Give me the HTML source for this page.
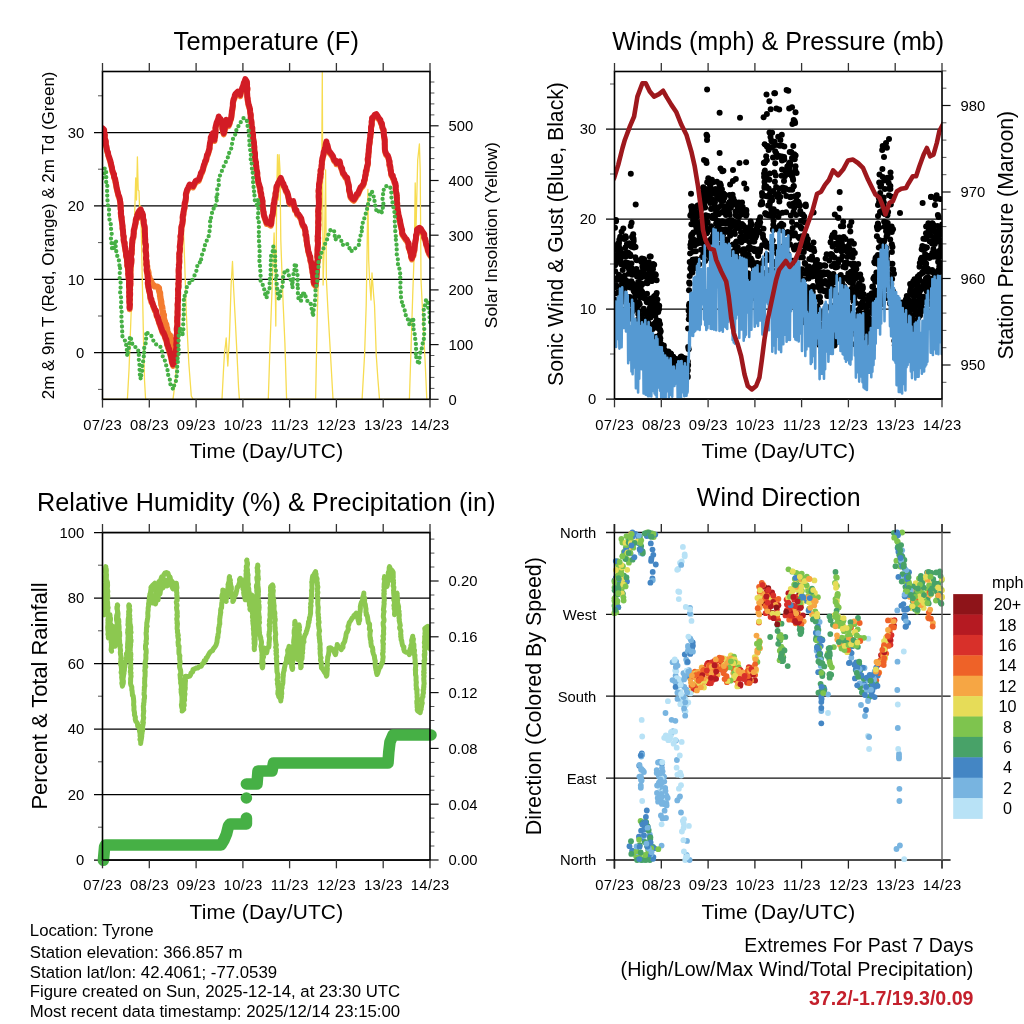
<!DOCTYPE html>
<html><head><meta charset="utf-8"><title>Station Meteogram</title><style>html,body{margin:0;padding:0;background:#fff;}svg{display:block;}</style></head><body>
<svg width="1024" height="1024" viewBox="0 0 1024 1024" font-family='"Liberation Sans", Arial, Helvetica, sans-serif'>
<rect width="1024" height="1024" fill="#fff"/>
<defs><clipPath id="cTL"><rect x="102.5" y="71.5" width="327.5" height="327.8"/></clipPath><clipPath id="cTR"><rect x="614.5" y="71.5" width="327.5" height="327.5"/></clipPath><clipPath id="cBL"><rect x="102.5" y="532.5" width="327.5" height="327.5"/></clipPath><clipPath id="cBR"><rect x="609" y="524" width="338" height="345"/></clipPath></defs>
<line x1="94" y1="352.7" x2="430" y2="352.7" stroke="#000" stroke-width="1.25"/>
<text x="84.2" y="358.1" font-size="14.8" text-anchor="end">0</text>
<line x1="94" y1="279.3" x2="430" y2="279.3" stroke="#000" stroke-width="1.25"/>
<text x="84.2" y="284.7" font-size="14.8" text-anchor="end">10</text>
<line x1="94" y1="205.9" x2="430" y2="205.9" stroke="#000" stroke-width="1.25"/>
<text x="84.2" y="211.3" font-size="14.8" text-anchor="end">20</text>
<line x1="94" y1="132.5" x2="430" y2="132.5" stroke="#000" stroke-width="1.25"/>
<text x="84.2" y="137.9" font-size="14.8" text-anchor="end">30</text>
<line x1="98" y1="389.4" x2="102.5" y2="389.4" stroke="#555" stroke-width="1"/>
<line x1="98" y1="316" x2="102.5" y2="316" stroke="#555" stroke-width="1"/>
<line x1="98" y1="242.6" x2="102.5" y2="242.6" stroke="#555" stroke-width="1"/>
<line x1="98" y1="169.2" x2="102.5" y2="169.2" stroke="#555" stroke-width="1"/>
<line x1="98" y1="95.8" x2="102.5" y2="95.8" stroke="#555" stroke-width="1"/>
<line x1="430" y1="399.3" x2="438.6" y2="399.3" stroke="#111" stroke-width="1.2"/>
<text x="448.6" y="404.7" font-size="14.8" text-anchor="start">0</text>
<line x1="430" y1="344.6" x2="438.6" y2="344.6" stroke="#111" stroke-width="1.2"/>
<text x="448.6" y="350" font-size="14.8" text-anchor="start">100</text>
<line x1="430" y1="289.9" x2="438.6" y2="289.9" stroke="#111" stroke-width="1.2"/>
<text x="448.6" y="295.3" font-size="14.8" text-anchor="start">200</text>
<line x1="430" y1="235.2" x2="438.6" y2="235.2" stroke="#111" stroke-width="1.2"/>
<text x="448.6" y="240.6" font-size="14.8" text-anchor="start">300</text>
<line x1="430" y1="180.5" x2="438.6" y2="180.5" stroke="#111" stroke-width="1.2"/>
<text x="448.6" y="185.9" font-size="14.8" text-anchor="start">400</text>
<line x1="430" y1="125.8" x2="438.6" y2="125.8" stroke="#111" stroke-width="1.2"/>
<text x="448.6" y="131.2" font-size="14.8" text-anchor="start">500</text>
<line x1="430" y1="388.4" x2="434.4" y2="388.4" stroke="#555" stroke-width="1"/>
<line x1="430" y1="377.4" x2="434.4" y2="377.4" stroke="#555" stroke-width="1"/>
<line x1="430" y1="366.5" x2="434.4" y2="366.5" stroke="#555" stroke-width="1"/>
<line x1="430" y1="355.5" x2="434.4" y2="355.5" stroke="#555" stroke-width="1"/>
<line x1="430" y1="333.7" x2="434.4" y2="333.7" stroke="#555" stroke-width="1"/>
<line x1="430" y1="322.7" x2="434.4" y2="322.7" stroke="#555" stroke-width="1"/>
<line x1="430" y1="311.8" x2="434.4" y2="311.8" stroke="#555" stroke-width="1"/>
<line x1="430" y1="300.8" x2="434.4" y2="300.8" stroke="#555" stroke-width="1"/>
<line x1="430" y1="279" x2="434.4" y2="279" stroke="#555" stroke-width="1"/>
<line x1="430" y1="268" x2="434.4" y2="268" stroke="#555" stroke-width="1"/>
<line x1="430" y1="257.1" x2="434.4" y2="257.1" stroke="#555" stroke-width="1"/>
<line x1="430" y1="246.1" x2="434.4" y2="246.1" stroke="#555" stroke-width="1"/>
<line x1="430" y1="224.3" x2="434.4" y2="224.3" stroke="#555" stroke-width="1"/>
<line x1="430" y1="213.3" x2="434.4" y2="213.3" stroke="#555" stroke-width="1"/>
<line x1="430" y1="202.4" x2="434.4" y2="202.4" stroke="#555" stroke-width="1"/>
<line x1="430" y1="191.4" x2="434.4" y2="191.4" stroke="#555" stroke-width="1"/>
<line x1="430" y1="169.6" x2="434.4" y2="169.6" stroke="#555" stroke-width="1"/>
<line x1="430" y1="158.6" x2="434.4" y2="158.6" stroke="#555" stroke-width="1"/>
<line x1="430" y1="147.7" x2="434.4" y2="147.7" stroke="#555" stroke-width="1"/>
<line x1="430" y1="136.7" x2="434.4" y2="136.7" stroke="#555" stroke-width="1"/>
<line x1="430" y1="114.9" x2="434.4" y2="114.9" stroke="#555" stroke-width="1"/>
<line x1="430" y1="103.9" x2="434.4" y2="103.9" stroke="#555" stroke-width="1"/>
<line x1="430" y1="93" x2="434.4" y2="93" stroke="#555" stroke-width="1"/>
<line x1="430" y1="82" x2="434.4" y2="82" stroke="#555" stroke-width="1"/>
<g clip-path="url(#cTL)">
<polyline points="100,399.3 127.4,399.3 129,370 130.5,330 132,290 133.5,250 134.5,220 135.7,178 136.5,200 137.4,157 138.2,190 139,191 139.8,215 140.7,206 141.5,240 142.5,290 143.5,340 144.5,380 145.6,399.3 173,399.3" fill="none" stroke="#f7dc50" stroke-width="1.3" stroke-linejoin="round" stroke-linecap="round"/>
<polyline points="173,399.3 175.5,379 178,330 179.7,280 181.3,247 182.5,225 183,214 183.8,240 184.7,263 186.3,313 188.8,363 191.3,396 193,399.3 222,399.3" fill="none" stroke="#f7dc50" stroke-width="1.3" stroke-linejoin="round" stroke-linecap="round"/>
<polyline points="222,399.3 223.5,370 224.5,353 225.5,345 226.2,338 227.8,366 229.5,336 231.1,285 232.5,261.5 233.6,288 235.3,320 237,354.5 238.6,388 239.4,399.3 268.3,399.3" fill="none" stroke="#f7dc50" stroke-width="1.3" stroke-linejoin="round" stroke-linecap="round"/>
<polyline points="268.3,399.3 270,346 271.6,301 273.3,255 274.1,233 275,260 275.8,326 276.6,200 277.5,154.7 278.3,200 279.1,154.7 280,170 280.8,240 281.6,263 283.2,305 284.9,343 286.6,399.3 315.6,399.3" fill="none" stroke="#f7dc50" stroke-width="1.3" stroke-linejoin="round" stroke-linecap="round"/>
<polyline points="315.6,399.3 317.3,313 318.9,263 320.6,230 321.5,200 322.3,72.5 323.1,285 324.7,230 325.6,170 326.4,280 328.1,313 330.5,354.5 333,399.3 362.1,399.3" fill="none" stroke="#f7dc50" stroke-width="1.3" stroke-linejoin="round" stroke-linecap="round"/>
<polyline points="362.1,399.3 364.6,354.5 366.2,305 367.1,250 367.9,189.5 368.7,260 369.6,280 371,300 372,273 373.7,296 374.5,305 375.4,330 376.2,354.5 377.9,379 379.5,399.3 409.4,399.3" fill="none" stroke="#f7dc50" stroke-width="1.3" stroke-linejoin="round" stroke-linecap="round"/>
<polyline points="409.4,399.3 411.1,346 412.7,296 414.4,247 415.2,183 416,230 417.7,160 419.4,144 420.2,170 421,280 423.5,330 425.2,363 426.8,399.3 432,399.3" fill="none" stroke="#f7dc50" stroke-width="1.3" stroke-linejoin="round" stroke-linecap="round"/>
<polyline points="100.5,132.4 102.5,129.5 104.2,131.2 104.2,133.1 104.5,135.1 104.9,136 104.6,139.3 105,140 105.8,142.3 105.8,144.2 105.8,146.1 106.4,147.5 106.9,150.8 107.3,152.5 107.9,153.3 108.3,156.1 109.1,158.3 109.4,159.4 110.4,162.3 110.8,164.4 111.5,167.1 112,169.1 112.2,170.9 112.8,173.1 113.3,174.3 114.1,175.6 114,177.8 115.1,180.2 115.4,181.9 115.8,184.3 116.2,186 116.5,188.3 117.1,190.8 117.6,192.8 118.1,194.9 118.3,195.9 119.2,197.8 119.9,200.9 120.3,203.5 120.5,204.6 120.5,205.8 120.8,208.3 120.5,209.2 121.1,212.6 120.7,214.1 121.1,214.7 121.1,217.7 121.7,218.2 121.6,220.8 121.9,221.9 122.2,224.4 122.6,227.5 122.5,229.5 122.6,229.8 123,231.6 123.2,234.4 123.2,236.2 123.8,237.7 123.6,240.9 124,243 124.7,243.9 124.6,246.1 124.9,248 125.3,250 125.5,251.9 126.1,253.5 126,255.8 126.1,256.9 126.9,259.1 126.9,260 127.1,262.9 127.4,264.6 127.2,266.7 127.9,267.5 128,270.1 128.2,271.7 128.4,274.3 128.1,274.9 128.8,278.3 128.6,279.3 129,281.2 129.1,282.7 129,284.5 129,286.9 129,288.3 129.4,289.5 129.3,292.6 129.1,293.6 129.5,295.4 129.1,297.6 129.5,298.8 129.4,301.4 129.3,303.1 129.7,305.3 129.8,306.8 129.6,309.4 129.5,307.9 130,305.7 129.5,303.3 129.8,301.6 130,301 129.6,298.1 130.1,297 130.2,294.6 129.7,292.7 130.2,290.9 130,289.3 130.1,287.5 130.5,285.3 129.8,284.9 130.5,283.1 130.2,281.3 130.6,278.1 130.5,277.4 130.5,275.1 130.3,272.9 130.5,271.4 130.4,268.7 130.8,267.3 131.1,265 131.3,264.2 131.4,262.7 131.5,260.3 131,258.7 131.2,256 131.7,254.6 131.6,253.4 131.9,250.5 131.7,249.6 132,247.5 132.1,244.6 132.3,243.8 132.4,241.4 132.5,240.1 133.4,238.2 133.6,234.9 133.8,234.6 133.7,231.6 134.2,230.2 134.6,228.2 135,226.4 135.7,223.5 135.7,221.7 136.2,219.6 137.3,219 137.2,216.4 138,214.4 139.2,212.3 140.7,210.8 141.4,212.9 142.3,214.3 143,216.4 143,218 143.2,220.2 143.8,221.8 143.6,223.3 144,226 144.6,227.4 144.8,229.7 144.8,231.4 144.8,233 145,235.5 145,237.3 145.1,238.3 145.3,241 145.1,242.3 145.4,245 145.9,245.9 145.9,248.5 145.6,249.8 145.6,252.3 146.1,254.2 146.2,255.7 146.3,257.3 145.9,259.2 146,260.3 146.6,261.9 146.5,264.6 146.3,265.7 147,267.6 146.6,270.6 146.8,272.4 147.3,274.2 147.6,275.5 147.6,276.4 147.8,279 147.9,280.1 148,283.4 147.7,284.1 148.1,286.2 148.5,288.6 148.7,289.3 149.1,291.9 149.8,293.4 149.9,295.2 150.3,297.1 150.4,299.1 151.5,300.8 151.5,302.8 152.5,304.1 153.3,307.1 154.1,308.6 154.8,310.8 155.9,311.8 156.4,314.4 156.7,316.7 157.9,318.2 158.2,320.4 158.7,321.5 159.3,323.9 160,325.2 160.9,328.3 161.4,329.4 162,331.4 162.8,333.4 163.6,334 164.1,335.2 165,337.5 165.4,339.1 166.4,341 166.8,343.4 167.2,345.6 167.9,346.8 168.4,349.1 169.2,350.4 169.5,352.6 170.2,353.9 170.5,355.9 171.2,358.7 171.5,359.4 171.8,362.3 172.6,364.7 173,365.9 174.3,363.2 175,361.4 175,359 175.2,357.8 175.9,356.2 175.6,354.2 175.9,351.4 176.4,348.8 176.4,347.6 176.2,346.4 176.4,343.7 176.6,342.4 176.3,339.9 176.7,338.4 176.5,336.7 177.1,334.5 176.9,332.2 176.8,331.3 176.7,329.9 177.3,326.6 177.4,325.2 177.4,324.1 177.1,322.1 177.4,320.5 177.2,318.5 177.7,316.6 177.5,313.7 177.5,312.3 177.7,311 177.7,308.3 177.8,307.3 177.5,305.9 177.9,302.7 178.2,300.8 177.8,300 178,297.8 178.1,296.1 178.2,294 178.1,291.7 177.9,290.8 178.5,288.7 178.6,286.5 178.3,284.7 178.8,282.2 178.6,280.7 178.8,279.1 178.6,277.3 178.8,276.2 178.7,274.4 178.6,271.6 178.7,269.4 179.2,268.7 178.8,265.9 179.1,265 179.4,263.2 179.3,260.3 179.2,258.5 179.4,257.3 179.2,254.9 179.7,252.7 179.8,252.4 180,249.6 179.7,248 179.9,246.3 180.2,245.2 180.4,242.1 180.7,240.6 180.7,239.2 180.4,237.4 181.1,235.1 181.1,233.2 181.3,231.4 181.3,229.6 181.4,227.8 182.1,225.9 182.3,225 182.7,221.7 182.9,220.7 182.6,218.5 182.9,216.1 183.4,215.9 183.4,213.9 183.9,210.8 184.3,209.8 184.6,208.2 184.6,205.7 184.7,204.2 185.3,203.1 185.7,200.3 186,198.5 185.8,195.8 186.2,194.2 186.6,192.8 187.2,190.9 188.1,189.3 188.7,187.8 189.6,185.9 191.2,186.7 193,187.6 194,185.8 194.4,185 195.5,182.6 197.3,181.6 198.8,181 199.5,179 200.5,176.4 200.9,174.3 202.1,172.7 203,170.1 203.4,168.3 203.9,166.3 204.8,164.3 205.2,162.2 206.2,161 206.5,159 207,156.3 207.9,155 208.6,152.5 209,151.1 209.6,149.4 209.5,148.3 209.9,144.8 210.4,143 210.8,141.4 210.7,138.9 211.2,137.8 212.2,135.7 212.9,134.5 213.6,136.6 214.3,138.5 214.5,141.1 214.5,138.8 215.2,137.6 215,134.8 215.5,134.5 215.6,130.9 215.4,129.2 215.8,127.2 216.2,126.2 216.5,124.4 217.7,121.5 218.4,119.9 218.7,117.9 219.8,120.3 220.7,120.4 221.2,122.9 221.5,125 222.4,126 222.3,129.3 222.6,130.4 223.2,132.9 223.7,134.5 224.4,132 224.6,131.1 225,128.9 225.4,126.7 225.4,124.5 226,123.1 226.2,121.2 226.9,122.3 228,124.7 228.7,126.2 229.7,123.8 230.3,121.1 231.1,119.5 231.5,116.8 231.5,116.2 231.9,113.2 231.8,112.7 232.3,110.9 232.6,108.2 232.9,106.9 232.8,104.6 233.2,102.5 233.5,100.8 234.6,98.4 234.8,96.6 235.3,95.5 237.8,93 238.7,94.9 240.3,96.3 240.7,93.4 241.3,92.4 242.2,89.2 242.8,88 243.2,87 243.8,84.4 244.6,82.9 245.3,80.5 246.9,83 247.1,85.3 247.1,86.1 246.9,87.7 247.5,89.6 247,93 247.2,94.7 247.2,95.7 247.3,98.2 247.7,99.7 247.7,101.3 248.3,103.9 248.4,105.4 248.9,106.4 249.6,109.2 250,110.4 250.2,112.9 250.4,114.7 250.8,115.9 250.7,118.5 250.7,120.4 251.4,122.1 251.6,124.3 251.5,125.7 251.9,127.8 252.4,129.3 252.2,130.6 252.3,132.6 253,135.4 253.1,137.6 253.1,139.3 253.3,140.2 253.8,142.9 254,143.9 254,145.6 254.4,148.3 254.1,150.1 254.4,151.1 254.4,152.3 255,154.5 255.1,157 254.9,159.1 255.3,160.4 255.6,162.8 256.1,163.9 255.9,165.8 256.3,167.3 256.4,170.4 257,172.6 257.4,174.3 257.2,174.9 257.3,177.4 257.7,179.3 258.1,181.2 258.4,183.7 258.8,184.8 259.6,187.3 259.6,188.1 260.4,189.6 260.3,192.4 261,194.2 261.3,195.4 261.2,197.3 262,199.5 262.4,201.9 262.6,202.3 262.3,204.1 262.7,206.5 262.7,208.6 263,210 263.4,212.7 263.7,213.5 263.7,215.6 264.3,217.5 265.2,220 266.1,222.5 266.6,224.1 268.5,224.3 270.8,225.8 271.3,224.5 271.4,222.7 271.7,219.9 271.7,217.6 272.3,217.3 272.8,214.7 272.9,213.7 273.2,211.2 273.3,209.2 273.5,207.4 273.6,205 274.3,204.7 274.4,201.8 274.6,200.1 275.2,198.3 275.6,196 275.4,194.8 275.7,193.6 276.3,192 276.4,188.6 276.6,187.6 277.5,186 278.3,183.9 279.3,183.4 279.7,181.3 280.8,179.3 281.5,181.4 282.7,184.3 283.4,185 284.1,187.6 285.2,188.7 285.7,191.5 286.4,192.1 287.4,194.2 288.2,197 288.3,198 288.7,199.5 289.2,203.1 289.9,204.2 291.2,202.9 293.2,202.5 293.4,203.8 294.1,207.1 294.7,209 294.9,210.8 296.4,211.6 297.2,215 298.3,215.4 299.8,217.5 300.5,218.7 301.3,220 301.8,223.3 302.4,224.9 303.1,226.7 304.2,227.7 304.8,229.1 304.8,230.3 305.6,232.6 305.4,235.8 306.2,236.5 306.5,239.4 306.5,241.4 306.8,242.6 307.1,246 307.4,246.4 307.7,248.3 308.2,251.6 308.3,252.2 309,254.6 309.8,257.5 310.3,258.1 310.4,261.4 311,263 311.5,264.6 311.6,265.5 311.8,268.7 312.4,270.2 312.4,271.9 312.6,273.7 313.1,274.9 313.2,278 313.6,278.5 313.9,281.5 313.5,282.3 314,284.5 315.6,286.2 315.5,283.6 316.2,282.4 316.3,280.1 315.8,279.7 316.5,278.1 316.6,275.4 316.8,272.9 316.8,271.7 316.6,270.2 316.9,268.2 317.1,266.1 317.3,264.6 317.2,262.9 317.7,261.7 317.7,259.7 317.3,258.1 317.4,254.7 317.6,254 317.5,252 317.5,250.7 317.7,248 317.8,246.8 318.1,244.4 317.8,242.7 317.6,240.5 318.2,239.3 317.6,237.6 317.9,236 318,232.7 318.1,231.4 318.2,230.3 318.1,228.4 318.4,225.7 318.1,224.1 318.2,222 318.4,221.1 318.4,218 318.2,216.6 318.5,214.3 318.1,212.8 318.3,210.5 318.5,210.3 318.6,208.1 318.8,206.5 318.9,203.9 318.8,201.5 318.9,200.2 318.7,199.3 318.6,196.2 319,195.1 318.5,192.2 318.7,190.4 319.1,188.9 318.9,187.6 319,185.5 319.4,183.7 319.7,182.2 319.8,179.3 320.5,178.4 320.1,176.1 320.8,175.2 320.5,171.5 321.1,170.4 321.6,169.2 321.5,166.6 321.9,165.5 321.8,162.7 322.3,161 322.4,159.4 322.8,158.1 323.5,155.7 323.6,153.2 324.3,152.5 324.8,149.7 325.5,148.6 325.6,145.9 325.8,145.3 326.4,142.8 326.6,144.8 327.5,146.5 328.1,149.5 328.7,151.1 328.9,152.7 330.1,153.6 331.6,155.7 333,157.7 333.6,160 334.5,161.6 335.9,162 336.4,164.4 338.3,163.4 339.7,162.7 340,164.1 340.5,166.6 341.3,169.1 342.1,169.6 342.4,172.2 343,174.3 344.2,175.5 345.6,178 347.2,179.3 347.4,180.4 347.7,182.9 348.2,184.3 348.7,186.1 349,188.6 348.9,190.7 349.4,192.2 349.9,194.2 350.1,195 350.5,197.6 352.4,199.9 353.8,200.9 354.8,199.4 355.6,198.3 356.8,195.4 357.9,195.1 358.5,193.5 359.6,190.9 360.6,188.7 361.9,187.3 362.9,186.1 363.8,184.3 363.9,182.5 364.8,180.6 364.9,179.4 365.2,176.9 365.7,175.7 365.8,172.5 366.6,171.5 366.6,170.3 367.1,167.7 367.6,165.9 367.9,164.6 367.9,161.7 367.6,160.5 368.3,158.1 368.3,156.6 368.4,155 368.8,152.5 368.7,151 369,149.4 369.1,147 369.4,145.1 369.8,142.7 369.7,141.5 370,139.7 370.4,137.8 370.3,135.3 370.7,134.9 371.1,132.3 371,129.7 371,128.3 371.7,126.1 371.8,124.9 371.6,122.7 372.2,120.8 372,119.5 373.5,118.2 374.6,116.3 376.2,115.4 377.9,117.9 379.2,120 380.4,121.2 380.8,123.6 381.9,124.7 382.3,128.1 382.9,129.7 383.7,131.2 383.6,133.5 383.8,135.1 384,137.7 384.5,139 384.6,140.8 384.8,142.5 384.7,145 384.8,146 384.8,149 384.9,151.2 385.3,152.7 386.2,155.2 387.3,156.5 387.8,156.9 388.7,159.4 389,161.7 389.6,162.6 389.4,165.9 390.1,166.8 390.4,168.1 390.5,170.9 390.9,171.8 391.1,174.3 391.5,176.2 392.8,177 392.8,178.5 394.1,180.8 394.6,183.5 395.3,184.3 395.5,185.8 395.8,187.2 395.6,190.3 395.7,191 396.1,193.4 396.6,194.9 396.7,197.3 396.9,199.2 396.9,200.9 396.8,203 397.3,204.7 397.1,206.7 397.2,208.4 397.7,210.7 397.8,212.5 398.3,214.1 398.3,215.5 398.9,217.8 399.5,219.8 400.1,222.3 400.3,224.1 400.8,226.5 401.1,227.8 401.4,229.1 402.2,231.8 402.1,234.5 402.8,235.7 404.4,238 405.6,239.9 406.6,240.7 407.7,243 408.6,244.4 408.6,247.9 408.9,249 409.7,250.5 410.2,253 411.1,255 411,257.4 411.9,259.6 412.2,257.9 413.4,256.2 413.4,253.7 414.4,251.3 414.5,249.3 414.8,247 414.9,245.6 415.2,244.2 415.4,242.2 416,239.4 416,236.5 416.7,235.2 416.9,233 417,230.8 419.4,229.1 420.9,230.1 422.3,232.7 423.5,234.4 424.3,235.6 424.2,238.8 425.3,240.4 425.7,242.7 426,244.7 426.6,246.6 427.4,247.8 427.8,251.1 428.5,252.6 429.3,254.6 430.5,256.2 432,258.4" fill="none" stroke="#f47c30" stroke-width="5.8" stroke-linejoin="round" stroke-linecap="round"/>
<polyline points="146.5,263.2 146.6,264.4 147.1,266.4 147.2,268.9 148.2,271.7 148.4,272.5 148.5,275 149.2,277 149.8,279.8 150.8,280.7 152.1,284 153.8,285.4 154.8,286.4 157.1,286.6 158.9,288 159,290.1 159.6,292.4 160,292.7 160.1,295.8 160.3,296.6 160.5,298.3 161.2,301.7 161.2,302.4 161.4,304.7 162.1,306.7 162.4,309.1 162.5,310.1 162.9,311.9 163,313.5 163.9,314.9 163.6,317.9 164.2,319.5 164.7,321.3 165.2,322.9 166.2,324.6 166.3,326.5 167,328.6 167.3,331.5 168,332.9 168.7,334.7 170,335.5 170.2,337.4 171.4,339.6 171.9,341.8 171.8,343.2 172.1,345.5 172.3,347.9 173,349.5 173.8,352.5 174.2,354.7 174.1,355.5 175,358" fill="none" stroke="#f47c30" stroke-width="6.4" stroke-linejoin="round" stroke-linecap="round"/>
<polyline points="100.5,131 102.5,128.1 104.2,129.8 104.2,131.7 104.5,133.7 104.9,134.6 104.6,137.9 105,138.6 105.8,140.9 105.8,142.8 105.8,144.7 106.4,146.1 106.9,149.4 107.3,151.1 107.9,151.9 108.3,154.7 109.1,156.9 109.4,158 110.4,160.9 110.8,163 111.5,165.7 112,167.7 112.2,169.5 112.8,171.7 113.3,172.9 114.1,174.2 114,176.4 115.1,178.8 115.4,180.5 115.8,182.9 116.2,184.6 116.5,186.9 117.1,189.4 117.6,191.4 118.1,193.5 118.3,194.5 119.2,196.4 119.9,199.5 120.3,202.1 120.5,203.2 120.5,204.4 120.8,206.9 120.5,207.8 121.1,211.2 120.7,212.7 121.1,213.3 121.1,216.3 121.7,216.8 121.6,219.4 121.9,220.5 122.2,223 122.6,226.1 122.5,228.1 122.6,228.4 123,230.2 123.2,233 123.2,234.8 123.8,236.3 123.6,239.5 124,241.6 124.7,242.5 124.6,244.7 124.9,246.6 125.3,248.6 125.5,250.5 126.1,252.1 126,254.4 126.1,255.5 126.9,257.7 126.9,258.6 127.1,261.5 127.4,263.2 127.2,265.3 127.9,266.1 128,268.7 128.2,270.3 128.4,272.9 128.1,273.5 128.8,276.9 128.6,277.9 129,279.8 129.1,281.3 129,283.1 129,285.5 129,286.9 129.4,288.1 129.3,291.2 129.1,292.2 129.5,294 129.1,296.2 129.5,297.4 129.4,300 129.3,301.7 129.7,303.9 129.8,305.4 129.6,308 129.5,306.5 130,304.3 129.5,301.9 129.8,300.2 130,299.6 129.6,296.7 130.1,295.6 130.2,293.2 129.7,291.3 130.2,289.5 130,287.9 130.1,286.1 130.5,283.9 129.8,283.5 130.5,281.7 130.2,279.9 130.6,276.7 130.5,276 130.5,273.7 130.3,271.5 130.5,270 130.4,267.3 130.8,265.9 131.1,263.6 131.3,262.8 131.4,261.3 131.5,258.9 131,257.3 131.2,254.6 131.7,253.2 131.6,252 131.9,249.1 131.7,248.2 132,246.1 132.1,243.2 132.3,242.4 132.4,240 132.5,238.7 133.4,236.8 133.6,233.5 133.8,233.2 133.7,230.2 134.2,228.8 134.6,226.8 135,225 135.7,222.1 135.7,220.3 136.2,218.2 137.3,217.6 137.2,215 138,213 139.2,210.9 140.7,209.4 141.4,211.5 142.3,212.9 143,215 143,216.6 143.2,218.8 143.8,220.4 143.6,221.9 144,224.6 144.6,226 144.8,228.3 144.8,230 144.8,231.6 145,234.1 145,235.9 145.1,236.9 145.3,239.6 145.1,240.9 145.4,243.6 145.9,244.5 145.9,247.1 145.6,248.4 145.6,250.9 146.1,252.8 146.2,254.3 146.3,255.9 145.9,257.8 146,258.9 146.6,260.5 146.5,263.2 146.3,264.3 147,266.2 146.6,269.2 146.8,271 147.3,272.8 147.6,274.1 147.6,275 147.8,277.6 147.9,278.7 148,282 147.7,282.7 148.1,284.8 148.5,287.2 148.7,287.9 149.1,290.5 149.8,292 149.9,293.8 150.3,295.7 150.4,297.7 151.5,299.4 151.5,301.4 152.5,302.7 153.3,305.7 154.1,307.2 154.8,309.4 155.9,310.4 156.4,313 156.7,315.3 157.9,316.8 158.2,319 158.7,320.1 159.3,322.5 160,323.8 160.9,326.9 161.4,328 162,330 162.8,332 163.6,332.6 164.1,333.8 165,336.1 165.4,337.7 166.4,339.6 166.8,342 167.2,344.2 167.9,345.4 168.4,347.7 169.2,349 169.5,351.2 170.2,352.5 170.5,354.5 171.2,357.3 171.5,358 171.8,360.9 172.6,363.3 173,364.5 174.3,361.8 175,360 175,357.6 175.2,356.4 175.9,354.8 175.6,352.8 175.9,350 176.4,347.4 176.4,346.2 176.2,345 176.4,342.3 176.6,341 176.3,338.5 176.7,337 176.5,335.3 177.1,333.1 176.9,330.8 176.8,329.9 176.7,328.5 177.3,325.2 177.4,323.8 177.4,322.7 177.1,320.7 177.4,319.1 177.2,317.1 177.7,315.2 177.5,312.3 177.5,310.9 177.7,309.6 177.7,306.9 177.8,305.9 177.5,304.5 177.9,301.3 178.2,299.4 177.8,298.6 178,296.4 178.1,294.7 178.2,292.6 178.1,290.3 177.9,289.4 178.5,287.3 178.6,285.1 178.3,283.3 178.8,280.8 178.6,279.3 178.8,277.7 178.6,275.9 178.8,274.8 178.7,273 178.6,270.2 178.7,268 179.2,267.3 178.8,264.5 179.1,263.6 179.4,261.8 179.3,258.9 179.2,257.1 179.4,255.9 179.2,253.5 179.7,251.3 179.8,251 180,248.2 179.7,246.6 179.9,244.9 180.2,243.8 180.4,240.7 180.7,239.2 180.7,237.8 180.4,236 181.1,233.7 181.1,231.8 181.3,230 181.3,228.2 181.4,226.4 182.1,224.5 182.3,223.6 182.7,220.3 182.9,219.3 182.6,217.1 182.9,214.7 183.4,214.5 183.4,212.5 183.9,209.4 184.3,208.4 184.6,206.8 184.6,204.3 184.7,202.8 185.3,201.7 185.7,198.9 186,197.1 185.8,194.4 186.2,192.8 186.6,191.4 187.2,189.5 188.1,187.9 188.7,186.4 189.6,184.5 191.2,185.3 193,186.2 194,184.4 194.4,183.6 195.5,181.2 197.3,180.2 198.8,179.6 199.5,177.6 200.5,175 200.9,172.9 202.1,171.3 203,168.7 203.4,166.9 203.9,164.9 204.8,162.9 205.2,160.8 206.2,159.6 206.5,157.6 207,154.9 207.9,153.6 208.6,151.1 209,149.7 209.6,148 209.5,146.9 209.9,143.4 210.4,141.6 210.8,140 210.7,137.5 211.2,136.4 212.2,134.3 212.9,133.1 213.6,135.2 214.3,137.1 214.5,139.7 214.5,137.4 215.2,136.2 215,133.4 215.5,133.1 215.6,129.5 215.4,127.8 215.8,125.8 216.2,124.8 216.5,123 217.7,120.1 218.4,118.5 218.7,116.5 219.8,118.9 220.7,119 221.2,121.5 221.5,123.6 222.4,124.6 222.3,127.9 222.6,129 223.2,131.5 223.7,133.1 224.4,130.6 224.6,129.7 225,127.5 225.4,125.3 225.4,123.1 226,121.7 226.2,119.8 226.9,120.9 228,123.3 228.7,124.8 229.7,122.4 230.3,119.7 231.1,118.1 231.5,115.4 231.5,114.8 231.9,111.8 231.8,111.3 232.3,109.5 232.6,106.8 232.9,105.5 232.8,103.2 233.2,101.1 233.5,99.4 234.6,97 234.8,95.2 235.3,94.1 237.8,91.6 238.7,93.5 240.3,94.9 240.7,92 241.3,91 242.2,87.8 242.8,86.6 243.2,85.6 243.8,83 244.6,81.5 245.3,79.1 246.9,81.6 247.1,83.9 247.1,84.7 246.9,86.3 247.5,88.2 247,91.6 247.2,93.3 247.2,94.3 247.3,96.8 247.7,98.3 247.7,99.9 248.3,102.5 248.4,104 248.9,105 249.6,107.8 250,109 250.2,111.5 250.4,113.3 250.8,114.5 250.7,117.1 250.7,119 251.4,120.7 251.6,122.9 251.5,124.3 251.9,126.4 252.4,127.9 252.2,129.2 252.3,131.2 253,134 253.1,136.2 253.1,137.9 253.3,138.8 253.8,141.5 254,142.5 254,144.2 254.4,146.9 254.1,148.7 254.4,149.7 254.4,150.9 255,153.1 255.1,155.6 254.9,157.7 255.3,159 255.6,161.4 256.1,162.5 255.9,164.4 256.3,165.9 256.4,169 257,171.2 257.4,172.9 257.2,173.5 257.3,176 257.7,177.9 258.1,179.8 258.4,182.3 258.8,183.4 259.6,185.9 259.6,186.7 260.4,188.2 260.3,191 261,192.8 261.3,194 261.2,195.9 262,198.1 262.4,200.5 262.6,200.9 262.3,202.7 262.7,205.1 262.7,207.2 263,208.6 263.4,211.3 263.7,212.1 263.7,214.2 264.3,216.1 265.2,218.6 266.1,221.1 266.6,222.7 268.5,222.9 270.8,224.4 271.3,223.1 271.4,221.3 271.7,218.5 271.7,216.2 272.3,215.9 272.8,213.3 272.9,212.3 273.2,209.8 273.3,207.8 273.5,206 273.6,203.6 274.3,203.3 274.4,200.4 274.6,198.7 275.2,196.9 275.6,194.6 275.4,193.4 275.7,192.2 276.3,190.6 276.4,187.2 276.6,186.2 277.5,184.6 278.3,182.5 279.3,182 279.7,179.9 280.8,177.9 281.5,180 282.7,182.9 283.4,183.6 284.1,186.2 285.2,187.3 285.7,190.1 286.4,190.7 287.4,192.8 288.2,195.6 288.3,196.6 288.7,198.1 289.2,201.7 289.9,202.8 291.2,201.5 293.2,201.1 293.4,202.4 294.1,205.7 294.7,207.6 294.9,209.4 296.4,210.2 297.2,213.6 298.3,214 299.8,216.1 300.5,217.3 301.3,218.6 301.8,221.9 302.4,223.5 303.1,225.3 304.2,226.3 304.8,227.7 304.8,228.9 305.6,231.2 305.4,234.4 306.2,235.1 306.5,238 306.5,240 306.8,241.2 307.1,244.6 307.4,245 307.7,246.9 308.2,250.2 308.3,250.8 309,253.2 309.8,256.1 310.3,256.7 310.4,260 311,261.6 311.5,263.2 311.6,264.1 311.8,267.3 312.4,268.8 312.4,270.5 312.6,272.3 313.1,273.5 313.2,276.6 313.6,277.1 313.9,280.1 313.5,280.9 314,283.1 315.6,284.8 315.5,282.2 316.2,281 316.3,278.7 315.8,278.3 316.5,276.7 316.6,274 316.8,271.5 316.8,270.3 316.6,268.8 316.9,266.8 317.1,264.7 317.3,263.2 317.2,261.5 317.7,260.3 317.7,258.3 317.3,256.7 317.4,253.3 317.6,252.6 317.5,250.6 317.5,249.3 317.7,246.6 317.8,245.4 318.1,243 317.8,241.3 317.6,239.1 318.2,237.9 317.6,236.2 317.9,234.6 318,231.3 318.1,230 318.2,228.9 318.1,227 318.4,224.3 318.1,222.7 318.2,220.6 318.4,219.7 318.4,216.6 318.2,215.2 318.5,212.9 318.1,211.4 318.3,209.1 318.5,208.9 318.6,206.7 318.8,205.1 318.9,202.5 318.8,200.1 318.9,198.8 318.7,197.9 318.6,194.8 319,193.7 318.5,190.8 318.7,189 319.1,187.5 318.9,186.2 319,184.1 319.4,182.3 319.7,180.8 319.8,177.9 320.5,177 320.1,174.7 320.8,173.8 320.5,170.1 321.1,169 321.6,167.8 321.5,165.2 321.9,164.1 321.8,161.3 322.3,159.6 322.4,158 322.8,156.7 323.5,154.3 323.6,151.8 324.3,151.1 324.8,148.3 325.5,147.2 325.6,144.5 325.8,143.9 326.4,141.4 326.6,143.4 327.5,145.1 328.1,148.1 328.7,149.7 328.9,151.3 330.1,152.2 331.6,154.3 333,156.3 333.6,158.6 334.5,160.2 335.9,160.6 336.4,163 338.3,162 339.7,161.3 340,162.7 340.5,165.2 341.3,167.7 342.1,168.2 342.4,170.8 343,172.9 344.2,174.1 345.6,176.6 347.2,177.9 347.4,179 347.7,181.5 348.2,182.9 348.7,184.7 349,187.2 348.9,189.3 349.4,190.8 349.9,192.8 350.1,193.6 350.5,196.2 352.4,198.5 353.8,199.5 354.8,198 355.6,196.9 356.8,194 357.9,193.7 358.5,192.1 359.6,189.5 360.6,187.3 361.9,185.9 362.9,184.7 363.8,182.9 363.9,181.1 364.8,179.2 364.9,178 365.2,175.5 365.7,174.3 365.8,171.1 366.6,170.1 366.6,168.9 367.1,166.3 367.6,164.5 367.9,163.2 367.9,160.3 367.6,159.1 368.3,156.7 368.3,155.2 368.4,153.6 368.8,151.1 368.7,149.6 369,148 369.1,145.6 369.4,143.7 369.8,141.3 369.7,140.1 370,138.3 370.4,136.4 370.3,133.9 370.7,133.5 371.1,130.9 371,128.3 371,126.9 371.7,124.7 371.8,123.5 371.6,121.3 372.2,119.4 372,118.1 373.5,116.8 374.6,114.9 376.2,114 377.9,116.5 379.2,118.6 380.4,119.8 380.8,122.2 381.9,123.3 382.3,126.7 382.9,128.3 383.7,129.8 383.6,132.1 383.8,133.7 384,136.3 384.5,137.6 384.6,139.4 384.8,141.1 384.7,143.6 384.8,144.6 384.8,147.6 384.9,149.8 385.3,151.3 386.2,153.8 387.3,155.1 387.8,155.5 388.7,158 389,160.3 389.6,161.2 389.4,164.5 390.1,165.4 390.4,166.7 390.5,169.5 390.9,170.4 391.1,172.9 391.5,174.8 392.8,175.6 392.8,177.1 394.1,179.4 394.6,182.1 395.3,182.9 395.5,184.4 395.8,185.8 395.6,188.9 395.7,189.6 396.1,192 396.6,193.5 396.7,195.9 396.9,197.8 396.9,199.5 396.8,201.6 397.3,203.3 397.1,205.3 397.2,207 397.7,209.3 397.8,211.1 398.3,212.7 398.3,214.1 398.9,216.4 399.5,218.4 400.1,220.9 400.3,222.7 400.8,225.1 401.1,226.4 401.4,227.7 402.2,230.4 402.1,233.1 402.8,234.3 404.4,236.6 405.6,238.5 406.6,239.3 407.7,241.6 408.6,243 408.6,246.5 408.9,247.6 409.7,249.1 410.2,251.6 411.1,253.6 411,256 411.9,258.2 412.2,256.5 413.4,254.8 413.4,252.3 414.4,249.9 414.5,247.9 414.8,245.6 414.9,244.2 415.2,242.8 415.4,240.8 416,238 416,235.1 416.7,233.8 416.9,231.6 417,229.4 419.4,227.7 420.9,228.7 422.3,231.3 423.5,233 424.3,234.2 424.2,237.4 425.3,239 425.7,241.3 426,243.3 426.6,245.2 427.4,246.4 427.8,249.7 428.5,251.2 429.3,253.2 430.5,254.8 432,257" fill="none" stroke="#d21c25" stroke-width="5.9" stroke-linejoin="round" stroke-linecap="round"/>
<polyline points="102.5,177.9 103.2,176.7 103.9,175.4 104.3,173.3 103.9,169.9 105,168 105.9,170.8 106.2,171.4 105.9,174.1 106.3,177.5 106.6,179.6 106.1,180.9 106.5,185.4 107.2,185.1 107.4,187.3 107.3,189.5 106.6,194.1 106.9,194.2 108,198.5 107.5,199.5 107.5,203.1 108,204.3 107.8,207.3 108.7,209.5 109.1,209.5 108.7,211.2 109.1,214.4 109,215 109.5,218.7 109.5,221 110.3,221.8 110.8,224.4 111.3,226.4 110.7,228.5 111.3,229.3 111.8,231.3 111.6,236 110.7,237.9 111.3,239.4 110.9,239.7 111.6,243.3 111.7,247 112.1,248.6 113,250 114.1,249.4 113.9,245.5 114.7,244.9 114.7,242.8 115.8,240 116.3,243.3 115.4,245.7 115.6,245.9 116.4,249.9 116.2,252 116.5,252.2 116.6,254.9 117.6,256.4 119.1,259.9 118.7,260.9 119.5,265.6 119,264.7 120.1,268.3 119.5,269.4 119.8,273.4 119.7,274.2 119.9,276.5 119.4,280 119.5,280.9 120.6,282 120.6,286.8 120.6,288.5 120,289.6 120.2,293.1 120.4,294 120.8,296.4 121.5,299.6 121.5,300.4 121,303.4 121,304 121,305.6 121,310.4 121.9,311.3 121.3,312.5 120.9,314.3 121.8,318.3 121.4,320.1 121.6,321.3 122.1,324.1 122,326.4 121.8,328.3 121.8,329.8 122.5,332.6 122,335.5 122.4,336.2 123.6,338.4 124.5,340 126.6,342.9 126.1,345.3 126.5,347.9 127,350.6 127.3,352.7 127.1,354.4 127.4,356.2 128,355.3 127.7,353.3 128.6,350.8 129,349.7 128.7,346.3 128.5,345.3 129.7,342.1 129.6,340.9 129.9,337.1 129.9,336.2 130.9,338.5 131.4,339.9 132,343.1 132.7,344.9 133.2,346.2 135.1,346.8 138.2,349.5 138.3,352 138.2,354.1 138.9,354 138.8,356.6 138.5,358.3 139,360.4 139,362 139.5,365.1 139.8,367.7 139.5,370.7 139.4,371.1 139.9,373.1 139.9,376.5 140.4,375.9 140.7,379.4 141.1,376.1 141.3,374.9 141.6,374.9 142.1,371.2 142.4,369.9 142,366.3 142.6,365.7 143.3,365 143.1,361 143.2,359.5 143.9,355.9 143.2,355.7 144.1,352.3 144.3,352.7 144.2,349.2 144.3,346.7 145.5,345 145.7,344.7 145.4,340.6 146.2,339.3 145.7,336.8 146.6,335.3 146,333.2 146.5,331.3 147.7,333.3 149.8,333.9 151.5,336.2 153.1,339.3 153.3,340.5 154.9,343.8 156.4,344.5 159.8,346.2 160.7,347.3 160.6,349 162.1,351.3 162.1,353.9 162.7,356.2 163.1,357.8 164.2,358.7 165.1,361.3 165.6,363.5 166.4,366.1 166.7,368.4 167.5,370.1 168.4,373 168,374.2 169.1,378.5 169.7,379.4 170.9,381.5 170.4,384.3 171.6,385.6 172.6,387.8 173,389.4 173.7,388.7 174.2,385.1 175.5,382.4 175.5,382.5 176.4,379.4 176,378.4 176.9,375.1 176.5,374.1 177.5,370 177,369.3 177.2,366.5 176.9,365.3 177.9,361.5 177.2,361.9 178.1,359.3 177.2,357.5 178.6,356.3 178.4,351.2 178.7,349.7 178.6,349.9 178.8,345.3 178.4,345.7 178.3,342.7 178.8,339.2 179.2,336.7 178.7,335.8 178.8,332.7 179.5,332.8 180.1,328.8 179.7,327.9 180.4,329.4 181.5,332 182.7,333.7 183,336.2 182.5,334.7 182.7,332.4 183.3,331.2 183.4,328.2 183.1,325.9 183.2,324.4 183.6,320.4 183.4,319 184.1,316.3 184.2,315.7 183.5,313.7 183.6,309.9 184.3,308.1 184.7,306.8 184.1,305.7 183.8,303.4 183.9,299.5 185.2,299.1 184.7,296.4 184.7,293.1 186.1,292.8 186.3,289 186.3,288.1 187.6,286 188.2,284.2 189.8,282.6 190.6,280.3 192.3,280.2 193,278.1 194.2,276 195.1,274.4 195.6,272.7 196.6,270.3 196.6,267.3 197.6,265.5 199.3,265 199.6,263.2 200.6,259.6 200.9,260.5 201.7,257 202.2,254 202.5,252.2 203.4,250.9 204.7,248.2 204.6,246.6 205.1,244.6 206.2,243.3 206.4,241.3 206.7,240.8 207.7,238.9 208.7,236.1 209,235.1 209.6,231.7 209.3,230 209.8,227.8 210.6,223.9 210.1,221.3 210.4,219.2 210.8,219.8 211.2,216.1 211.7,213.6 212.6,211.6 213.6,211.1 213.6,207.7 215,208 215.7,204.5 216.2,202.8 217.1,199.2 216.1,199.6 216.8,195.2 217.3,196.2 217.5,192.1 217.2,189.2 218.5,188.4 218.8,185 218.2,182.9 218.6,180.9 218.7,180 219,176.8 219.5,176.2 220,175.5 221.3,171.8 222.8,169.6 223.5,167.6 224,164.9 224.8,163.5 226.2,161.3 227.4,159.7 228,156.5 227.6,155.6 228.9,153.8 229.5,152 230.3,149.7 231.2,148.9 231.3,145.4 232.6,142.6 232.8,141.4 233,138.8 233.6,138.3 235.2,134.8 235,132.1 236.1,131.4 236.8,128 238.1,127.5 238.9,123.8 240.3,123.1 242.2,119.2 243.6,118.1 246.9,119.8 246.8,121.3 247.3,122.9 247.6,125.9 248.4,128.8 248.8,131.4 248.6,133.1 249.1,135.4 248.9,138.3 249.4,140.8 249.7,142 249.3,144.5 249.6,144.4 249.4,146.6 250.2,149.7 250.1,152.3 250.3,152.3 251.1,155.9 250.4,156.4 250.7,159.4 251.8,163.3 251.7,163 251.6,165.4 251.9,167.9 251.9,168.4 252.4,173 252.7,172.7 252.7,174.9 253.1,177.8 253.5,181 252.7,181.5 253.9,183.9 253.4,185.9 254,189.5 253.9,191.6 254.2,190.9 254.6,193.9 254.4,196.2 254.5,199.9 255.1,200.8 256.3,204 256.9,205 257.4,201.3 258.2,199.5 257.9,200.7 258.3,203.3 258.6,205 258.1,207.2 258.9,211.2 258.7,212.6 258.2,213.2 258.8,216.5 257.8,217.6 257.9,221.4 258.9,221.9 258.4,225 258.9,226.6 258.8,230.5 258.9,232.4 258.6,232.1 258.9,236.1 258.6,237.6 258.9,238.6 259,241.9 259.3,245.1 259.4,246.6 259.3,250.2 259.9,252.1 259.8,253.4 259.6,255.9 259.5,257.3 259.9,259.1 259.5,259.8 259.3,262.7 260,266.1 260.2,266.7 260.5,268.7 260.3,270.1 260.4,274.1 260.7,276.9 260.4,278.8 260.2,279.8 261.3,282.2 261.5,284 263.2,285.2 263.5,288.1 264.6,290.2 264.4,290.5 264.9,293 265.7,297.3 266,298 267.4,296.3 267.5,292.6 268.7,292 269.3,289.8 269.7,287.3 270.1,284.8 269.5,282.9 270,282.9 269.6,280 270.5,276.6 269.7,275.6 270.8,274.6 270.8,271.1 270.6,269.4 271.3,266.6 270.6,265.5 271.7,262.1 270.6,259.8 271.4,259.3 271.1,256 271.6,254.9 272.1,253.3 272.7,251.5 272.3,248.6 273.3,246.6 274.5,250.6 274.9,251.6 274.8,254.8 275.3,257.2 274.9,258.5 275.8,259.9 275,261.1 275.1,262.9 275.2,266.7 275.3,269.2 276.2,271.5 276.4,273.3 276.7,276.2 276.4,278.3 275.9,277.6 275.9,280.1 276.6,283.1 276.8,285 277.5,288 277,289 277.9,291 277.7,293.8 278.3,296.1 278.8,299.1 279.1,299.7 280.2,296 280.4,295.8 280.3,291.5 281.1,290 281.6,288.1 282.3,287.3 282.2,283.2 282.7,282.3 283.4,279.8 283.1,276.9 284.2,275.4 284.1,273.2 285.2,271.2 287.4,269.8 287.7,272.3 288.2,273.1 288.9,275.7 290.7,277.9 290.7,279.8 291,283.3 291,283.5 292.4,284.4 292.4,288.1 292.9,285.6 292.2,283.2 293,281.5 293.3,278.4 293.1,279.2 293.6,275.6 293.3,272.9 294.6,272.1 294.3,268 294.3,268.2 294.6,265.6 294.9,263.2 296,265.7 296.3,265.9 296.2,270.3 297.4,271.5 297.4,274.8 298,277 297.4,279.3 298,281.1 297.3,282.8 297.7,285.5 298.5,285.1 297.8,287.4 298,289.5 298.3,291 297.7,294.2 298.2,296.4 298.5,298.5 299.8,301.4 301.1,300.6 301.1,295.9 302.7,296.9 303.3,292.2 304,291.4 304.3,294.8 305.8,294 305.5,297.4 306.5,299.7 308.3,302.2 310.6,303 310.9,306.1 311,307.5 312.5,310.3 311.7,310.6 312.9,313.7 313.1,316.3 313.2,314.2 313.7,313.8 313.5,310.5 313.8,308.5 314.6,305.2 314.6,305 314.2,303.2 315,300.4 315.5,299.3 315.6,296.4 315.2,294.3 315.3,291.9 315.8,288.6 315.9,287.9 316.5,287.4 316.3,284 316.9,283.3 317.3,281.4 316.6,276.7 317.6,274.3 317.1,274.3 317.3,271.5 317.7,269.1 318.5,266.9 318.3,266.6 318.1,263 318.9,261.5 319.7,259.5 320.2,257 321.4,254.9 321.5,251.5 322.4,249.6 323.9,247.9 323.9,246.6 324.5,245.5 325.9,241.8 326.8,241 327.1,239 328.1,236.6 328.6,233.4 330.2,231.6 330.5,229.4 333.9,231 334.8,232.2 334.2,234.1 335.4,237.9 335.5,240 336.6,236.8 338.9,236.6 340.1,238.7 341,239.3 341.5,241.7 342.2,245 344.5,244.5 346.3,243.3 347.7,244.5 349.4,246.2 349.5,250.1 351.3,251.6 352.9,248.6 355.5,248.3 357.1,247.1 358.8,244.9 359.7,243.6 359,241.3 360.4,237.6 360.6,236.1 360.4,233.2 361.4,232.8 361.9,230.7 361.3,227.8 361.9,228.2 362.1,223.4 362.9,222.7 363.4,219.4 364.1,219.1 365.1,215.7 365.1,214.8 366.2,212.8 366.9,210.6 367.1,210 367,205.8 367.9,204.6 368.8,202.6 369,200.1 369.5,199.3 369.6,196.2 370.5,192.4 372,191.2 372.2,192.7 373.5,194.4 373.7,197.6 374.6,197.9 374.5,201.1 375.4,202.5 375.1,205.4 376.6,207.2 376.2,210.4 377.2,211.3 377.9,212.8 379.4,210.3 380.4,209.4 381.1,211.4 382,214.4 381.6,210.9 382.6,210 382.9,206.8 382.3,205.1 383.3,205 383.4,202 382.5,199.6 382.8,196.3 383.4,195.1 382.9,193.7 384.1,193 383.7,189.5 384.9,186.6 386.2,186.2 389.5,186.2 390.3,187.2 390.4,189.3 391.4,193 391.1,194.3 391.6,198.8 392,199.5 392.3,200.6 392.8,205 393,206.2 393.6,207.8 394.3,209.5 394.4,212.3 393.7,213 394.9,216.5 394.5,220.2 394.8,221.1 394.6,224.1 394.8,225.4 395.3,227.7 395.8,230.1 395.2,230.9 396.1,234.7 395.5,237.7 395.8,237.1 395.9,240.1 396.8,243.5 396.4,245.1 397,246.6 396.6,248.9 396.9,250.3 396.7,253.5 396.9,255.7 397.3,257.3 397.8,259 398.2,262.5 397.8,263.2 398.1,264.9 399.3,266.4 399.4,269.8 399.4,271.6 400.2,272.7 399.9,276.7 400.1,276.3 400.5,279.4 400.5,282.5 400,285.1 400.4,285.6 400.3,288.1 400.8,290.4 400.9,293.1 401.2,294 400.9,295.8 401.1,299.7 402.1,302.6 402.9,302.2 403.1,305.6 403.3,306.7 404.4,309.7 405.7,313 405.5,315 406.7,315.7 407.4,317.3 407.7,318.8 408.9,322.7 409.4,324.6 410.8,322.4 411.5,319.6 412.7,318 413.3,319.8 413.3,323.1 413.4,325.1 413.1,325.9 414.4,327.7 413.6,329.4 414.8,331.9 414.6,335.1 415.3,337.4 415.2,339.6 415.4,340.3 416,344.9 415.9,347.3 416.1,349.1 416.6,351 415.7,354.1 417.1,354.1 416.2,356.8 416.9,359.5 417.6,361.6 419.4,364.5 419,361.3 419.1,359.6 419.6,358.2 419.9,354.1 420.2,352.8 421.4,352.1 421.8,347.9 422.1,346.7 422.7,343.4 423.5,342.9 423.5,341.7 423.8,340 423.9,337.7 424.2,336.1 424.1,332.5 424,331.2 424.3,329.4 423.8,325.7 423.7,323.9 424.2,323.5 423.6,320.7 424.5,318.1 423.6,316.9 423.9,313.4 423.9,310.9 423.8,310.2 423.7,306.8 424.3,306.4 424.9,305.6 425.9,301.4 426,299.7 427.8,300.9 428.5,304.7 428.2,305.2 428.3,309.1 429.3,310.7 429.6,312.7 429.9,315.2 429.5,315.8 429.6,318.7 430.2,320.1 430,323" fill="none" stroke="#46b045" stroke-width="4.3" stroke-linejoin="round" stroke-linecap="round" stroke-dasharray="0 5"/>
</g>
<rect x="102.5" y="71.5" width="327.5" height="327.8" fill="none" stroke="#000" stroke-width="1.6"/>
<line x1="102.5" y1="399.3" x2="102.5" y2="407.6" stroke="#333" stroke-width="1.3"/>
<line x1="102.5" y1="71.5" x2="102.5" y2="63" stroke="#333" stroke-width="1.3"/>
<line x1="149.3" y1="399.3" x2="149.3" y2="407.6" stroke="#333" stroke-width="1.3"/>
<line x1="149.3" y1="71.5" x2="149.3" y2="63" stroke="#333" stroke-width="1.3"/>
<line x1="196.1" y1="399.3" x2="196.1" y2="407.6" stroke="#333" stroke-width="1.3"/>
<line x1="196.1" y1="71.5" x2="196.1" y2="63" stroke="#333" stroke-width="1.3"/>
<line x1="242.9" y1="399.3" x2="242.9" y2="407.6" stroke="#333" stroke-width="1.3"/>
<line x1="242.9" y1="71.5" x2="242.9" y2="63" stroke="#333" stroke-width="1.3"/>
<line x1="289.6" y1="399.3" x2="289.6" y2="407.6" stroke="#333" stroke-width="1.3"/>
<line x1="289.6" y1="71.5" x2="289.6" y2="63" stroke="#333" stroke-width="1.3"/>
<line x1="336.4" y1="399.3" x2="336.4" y2="407.6" stroke="#333" stroke-width="1.3"/>
<line x1="336.4" y1="71.5" x2="336.4" y2="63" stroke="#333" stroke-width="1.3"/>
<line x1="383.2" y1="399.3" x2="383.2" y2="407.6" stroke="#333" stroke-width="1.3"/>
<line x1="383.2" y1="71.5" x2="383.2" y2="63" stroke="#333" stroke-width="1.3"/>
<line x1="430" y1="399.3" x2="430" y2="407.6" stroke="#333" stroke-width="1.3"/>
<line x1="430" y1="71.5" x2="430" y2="63" stroke="#333" stroke-width="1.3"/>
<text x="266.4" y="50.3" font-size="25.4" text-anchor="middle" letter-spacing="0.25">Temperature (F)</text>
<text x="102.7" y="429.5" font-size="14.8" text-anchor="middle" letter-spacing="0.4">07/23</text>
<text x="149.5" y="429.5" font-size="14.8" text-anchor="middle" letter-spacing="0.4">08/23</text>
<text x="196.3" y="429.5" font-size="14.8" text-anchor="middle" letter-spacing="0.4">09/23</text>
<text x="243.1" y="429.5" font-size="14.8" text-anchor="middle" letter-spacing="0.4">10/23</text>
<text x="289.8" y="429.5" font-size="14.8" text-anchor="middle" letter-spacing="0.4">11/23</text>
<text x="336.6" y="429.5" font-size="14.8" text-anchor="middle" letter-spacing="0.4">12/23</text>
<text x="383.4" y="429.5" font-size="14.8" text-anchor="middle" letter-spacing="0.4">13/23</text>
<text x="430.2" y="429.5" font-size="14.8" text-anchor="middle" letter-spacing="0.4">14/23</text>
<text x="266.4" y="457.7" font-size="20.9" text-anchor="middle" letter-spacing="0.18">Time (Day/UTC)</text>
<text x="54.4" y="235.4" font-size="17" text-anchor="middle" transform="rotate(-90 54.4 235.4)">2m &amp; 9m T (Red, Orange) &amp; 2m Td (Green)</text>
<text x="496.6" y="235.2" font-size="17.4" text-anchor="middle" transform="rotate(-90 496.6 235.2)">Solar Insolation (Yellow)</text>
<line x1="606" y1="399" x2="942" y2="399" stroke="#000" stroke-width="1.25"/>
<text x="596.2" y="404.4" font-size="14.8" text-anchor="end">0</text>
<line x1="606" y1="309" x2="942" y2="309" stroke="#000" stroke-width="1.25"/>
<text x="596.2" y="314.4" font-size="14.8" text-anchor="end">10</text>
<line x1="606" y1="219" x2="942" y2="219" stroke="#000" stroke-width="1.25"/>
<text x="596.2" y="224.4" font-size="14.8" text-anchor="end">20</text>
<line x1="606" y1="129" x2="942" y2="129" stroke="#000" stroke-width="1.25"/>
<text x="596.2" y="134.4" font-size="14.8" text-anchor="end">30</text>
<line x1="610" y1="354" x2="614.5" y2="354" stroke="#555" stroke-width="1"/>
<line x1="610" y1="264" x2="614.5" y2="264" stroke="#555" stroke-width="1"/>
<line x1="610" y1="174" x2="614.5" y2="174" stroke="#555" stroke-width="1"/>
<line x1="610" y1="84" x2="614.5" y2="84" stroke="#555" stroke-width="1"/>
<line x1="942" y1="365" x2="950.6" y2="365" stroke="#111" stroke-width="1.2"/>
<text x="960.6" y="370.4" font-size="14.8" text-anchor="start">950</text>
<line x1="942" y1="278.5" x2="950.6" y2="278.5" stroke="#111" stroke-width="1.2"/>
<text x="960.6" y="283.9" font-size="14.8" text-anchor="start">960</text>
<line x1="942" y1="192" x2="950.6" y2="192" stroke="#111" stroke-width="1.2"/>
<text x="960.6" y="197.4" font-size="14.8" text-anchor="start">970</text>
<line x1="942" y1="105.5" x2="950.6" y2="105.5" stroke="#111" stroke-width="1.2"/>
<text x="960.6" y="110.9" font-size="14.8" text-anchor="start">980</text>
<line x1="942" y1="382.3" x2="946.4" y2="382.3" stroke="#555" stroke-width="1"/>
<line x1="942" y1="347.7" x2="946.4" y2="347.7" stroke="#555" stroke-width="1"/>
<line x1="942" y1="330.4" x2="946.4" y2="330.4" stroke="#555" stroke-width="1"/>
<line x1="942" y1="313.1" x2="946.4" y2="313.1" stroke="#555" stroke-width="1"/>
<line x1="942" y1="295.8" x2="946.4" y2="295.8" stroke="#555" stroke-width="1"/>
<line x1="942" y1="261.2" x2="946.4" y2="261.2" stroke="#555" stroke-width="1"/>
<line x1="942" y1="243.9" x2="946.4" y2="243.9" stroke="#555" stroke-width="1"/>
<line x1="942" y1="226.6" x2="946.4" y2="226.6" stroke="#555" stroke-width="1"/>
<line x1="942" y1="209.3" x2="946.4" y2="209.3" stroke="#555" stroke-width="1"/>
<line x1="942" y1="174.7" x2="946.4" y2="174.7" stroke="#555" stroke-width="1"/>
<line x1="942" y1="157.4" x2="946.4" y2="157.4" stroke="#555" stroke-width="1"/>
<line x1="942" y1="140.1" x2="946.4" y2="140.1" stroke="#555" stroke-width="1"/>
<line x1="942" y1="122.8" x2="946.4" y2="122.8" stroke="#555" stroke-width="1"/>
<line x1="942" y1="88.2" x2="946.4" y2="88.2" stroke="#555" stroke-width="1"/>
<line x1="942" y1="70.9" x2="946.4" y2="70.9" stroke="#555" stroke-width="1"/>
<g clip-path="url(#cTR)">
<circle cx="614.7" cy="286.9" r="3"/>
<circle cx="615.1" cy="287" r="3"/>
<circle cx="615.3" cy="264.2" r="3"/>
<circle cx="615.3" cy="279.5" r="3"/>
<circle cx="615" cy="265.2" r="3"/>
<circle cx="615.2" cy="271.3" r="3"/>
<circle cx="615.2" cy="246.9" r="3"/>
<circle cx="615.6" cy="303.4" r="3"/>
<circle cx="615.3" cy="293.5" r="3"/>
<circle cx="615.3" cy="278.5" r="3"/>
<circle cx="615.6" cy="300" r="3"/>
<circle cx="616.2" cy="249" r="3"/>
<circle cx="616.4" cy="255.1" r="3"/>
<circle cx="616" cy="285.1" r="3"/>
<circle cx="616.9" cy="286.5" r="3"/>
<circle cx="616.6" cy="258.5" r="3"/>
<circle cx="616.6" cy="249.4" r="3"/>
<circle cx="617" cy="259.3" r="3"/>
<circle cx="617" cy="286.7" r="3"/>
<circle cx="617.4" cy="260.4" r="3"/>
<circle cx="617.3" cy="261.2" r="3"/>
<circle cx="618" cy="245.7" r="3"/>
<circle cx="618.1" cy="292.5" r="3"/>
<circle cx="618" cy="243.8" r="3"/>
<circle cx="617.6" cy="279.7" r="3"/>
<circle cx="617.8" cy="244.9" r="3"/>
<circle cx="618.4" cy="253.1" r="3"/>
<circle cx="618.3" cy="307.5" r="3"/>
<circle cx="618.9" cy="274.7" r="3"/>
<circle cx="618.9" cy="246.2" r="3"/>
<circle cx="618.5" cy="300.7" r="3"/>
<circle cx="619" cy="243" r="3"/>
<circle cx="619.2" cy="305.5" r="3"/>
<circle cx="619.4" cy="306" r="3"/>
<circle cx="619.3" cy="256.2" r="3"/>
<circle cx="619.3" cy="239.7" r="3"/>
<circle cx="619.5" cy="312.4" r="3"/>
<circle cx="620.2" cy="236.7" r="3"/>
<circle cx="619.8" cy="261.3" r="3"/>
<circle cx="620.3" cy="276.8" r="3"/>
<circle cx="619.9" cy="261.8" r="3"/>
<circle cx="619.8" cy="305.1" r="3"/>
<circle cx="620.1" cy="297.9" r="3"/>
<circle cx="620.8" cy="288.1" r="3"/>
<circle cx="620.3" cy="293.1" r="3"/>
<circle cx="620.4" cy="261.6" r="3"/>
<circle cx="620.8" cy="249.4" r="3"/>
<circle cx="621.2" cy="313.1" r="3"/>
<circle cx="621.1" cy="262.3" r="3"/>
<circle cx="621.2" cy="264.2" r="3"/>
<circle cx="621" cy="257.6" r="3"/>
<circle cx="621.9" cy="312.3" r="3"/>
<circle cx="621.5" cy="277.5" r="3"/>
<circle cx="621.6" cy="231.8" r="3"/>
<circle cx="622.1" cy="292.1" r="3"/>
<circle cx="622.2" cy="292.5" r="3"/>
<circle cx="622.1" cy="283.7" r="3"/>
<circle cx="622.4" cy="253.4" r="3"/>
<circle cx="622.6" cy="264.3" r="3"/>
<circle cx="622.3" cy="283.4" r="3"/>
<circle cx="622.7" cy="279.5" r="3"/>
<circle cx="622.7" cy="270" r="3"/>
<circle cx="622.8" cy="281.7" r="3"/>
<circle cx="623.3" cy="279.6" r="3"/>
<circle cx="623.5" cy="279.4" r="3"/>
<circle cx="623.2" cy="297.1" r="3"/>
<circle cx="623.7" cy="301.4" r="3"/>
<circle cx="623.8" cy="310.1" r="3"/>
<circle cx="624.2" cy="238.9" r="3"/>
<circle cx="624.3" cy="265.3" r="3"/>
<circle cx="624.1" cy="288.8" r="3"/>
<circle cx="624.8" cy="275.5" r="3"/>
<circle cx="625.1" cy="279.8" r="3"/>
<circle cx="624.7" cy="289" r="3"/>
<circle cx="625.4" cy="265.2" r="3"/>
<circle cx="625.4" cy="247.5" r="3"/>
<circle cx="625.5" cy="236.3" r="3"/>
<circle cx="625.4" cy="238" r="3"/>
<circle cx="625.5" cy="256.8" r="3"/>
<circle cx="625.9" cy="237.8" r="3"/>
<circle cx="626" cy="262.5" r="3"/>
<circle cx="626.5" cy="252.2" r="3"/>
<circle cx="626.2" cy="265.7" r="3"/>
<circle cx="626.1" cy="266.1" r="3"/>
<circle cx="626.2" cy="263.7" r="3"/>
<circle cx="626.9" cy="243.9" r="3"/>
<circle cx="627.4" cy="281.3" r="3"/>
<circle cx="627" cy="301.8" r="3"/>
<circle cx="627.2" cy="286.8" r="3"/>
<circle cx="627.5" cy="283" r="3"/>
<circle cx="627.9" cy="314.9" r="3"/>
<circle cx="628" cy="263" r="3"/>
<circle cx="628" cy="244.9" r="3"/>
<circle cx="627.6" cy="284.9" r="3"/>
<circle cx="628" cy="309.7" r="3"/>
<circle cx="628.2" cy="252.7" r="3"/>
<circle cx="628.3" cy="317.6" r="3"/>
<circle cx="628.7" cy="312.3" r="3"/>
<circle cx="628.8" cy="319" r="3"/>
<circle cx="628.7" cy="267.4" r="3"/>
<circle cx="628.8" cy="273.8" r="3"/>
<circle cx="629.3" cy="243.3" r="3"/>
<circle cx="629.1" cy="269.4" r="3"/>
<circle cx="629.1" cy="304.8" r="3"/>
<circle cx="630" cy="254.3" r="3"/>
<circle cx="629.5" cy="300.6" r="3"/>
<circle cx="630.3" cy="244.4" r="3"/>
<circle cx="630" cy="255.7" r="3"/>
<circle cx="630.2" cy="287.5" r="3"/>
<circle cx="629.8" cy="297.1" r="3"/>
<circle cx="630.4" cy="255.9" r="3"/>
<circle cx="630.6" cy="255.4" r="3"/>
<circle cx="630.4" cy="270.5" r="3"/>
<circle cx="630.4" cy="282.5" r="3"/>
<circle cx="631.3" cy="269.7" r="3"/>
<circle cx="631" cy="312.6" r="3"/>
<circle cx="631.2" cy="301.6" r="3"/>
<circle cx="631.4" cy="281.3" r="3"/>
<circle cx="631.8" cy="272.4" r="3"/>
<circle cx="631.4" cy="263.4" r="3"/>
<circle cx="631.5" cy="246.8" r="3"/>
<circle cx="632.1" cy="236.7" r="3"/>
<circle cx="631.9" cy="268.4" r="3"/>
<circle cx="632.4" cy="302.9" r="3"/>
<circle cx="632.4" cy="273" r="3"/>
<circle cx="632.2" cy="274.8" r="3"/>
<circle cx="632.8" cy="283.8" r="3"/>
<circle cx="632.3" cy="237.6" r="3"/>
<circle cx="632.9" cy="305" r="3"/>
<circle cx="633.4" cy="298.2" r="3"/>
<circle cx="633.1" cy="327.2" r="3"/>
<circle cx="633" cy="311" r="3"/>
<circle cx="633.6" cy="290.8" r="3"/>
<circle cx="633.3" cy="244.2" r="3"/>
<circle cx="633.7" cy="246" r="3"/>
<circle cx="634" cy="247.4" r="3"/>
<circle cx="633.5" cy="238.6" r="3"/>
<circle cx="633.7" cy="241.1" r="3"/>
<circle cx="634.3" cy="285.6" r="3"/>
<circle cx="634.2" cy="246.4" r="3"/>
<circle cx="634.5" cy="288.9" r="3"/>
<circle cx="634.4" cy="323.2" r="3"/>
<circle cx="634.5" cy="299" r="3"/>
<circle cx="634.7" cy="292.4" r="3"/>
<circle cx="635.1" cy="285.4" r="3"/>
<circle cx="635" cy="285.6" r="3"/>
<circle cx="635.2" cy="305.1" r="3"/>
<circle cx="635.3" cy="257.3" r="3"/>
<circle cx="635.1" cy="304.2" r="3"/>
<circle cx="635.3" cy="296.5" r="3"/>
<circle cx="635.5" cy="247" r="3"/>
<circle cx="636.4" cy="259.9" r="3"/>
<circle cx="636.5" cy="270.2" r="3"/>
<circle cx="636.1" cy="307.4" r="3"/>
<circle cx="636.9" cy="260.3" r="3"/>
<circle cx="636.4" cy="269" r="3"/>
<circle cx="637.2" cy="305.5" r="3"/>
<circle cx="637" cy="304.1" r="3"/>
<circle cx="637" cy="276.4" r="3"/>
<circle cx="637.3" cy="286.8" r="3"/>
<circle cx="637.6" cy="273.7" r="3"/>
<circle cx="637.5" cy="320.1" r="3"/>
<circle cx="637.6" cy="323.4" r="3"/>
<circle cx="638" cy="306.1" r="3"/>
<circle cx="637.5" cy="295.1" r="3"/>
<circle cx="637.7" cy="287.2" r="3"/>
<circle cx="638" cy="327.6" r="3"/>
<circle cx="638.2" cy="282" r="3"/>
<circle cx="638.4" cy="314.3" r="3"/>
<circle cx="638.4" cy="292.7" r="3"/>
<circle cx="638.6" cy="295" r="3"/>
<circle cx="638.6" cy="330.1" r="3"/>
<circle cx="638.7" cy="302" r="3"/>
<circle cx="638.9" cy="302.9" r="3"/>
<circle cx="638.8" cy="311.3" r="3"/>
<circle cx="639.7" cy="304.2" r="3"/>
<circle cx="639.6" cy="317.9" r="3"/>
<circle cx="639.9" cy="287.6" r="3"/>
<circle cx="640.2" cy="315.5" r="3"/>
<circle cx="639.8" cy="286.8" r="3"/>
<circle cx="639.9" cy="287.5" r="3"/>
<circle cx="640.6" cy="297.3" r="3"/>
<circle cx="640.4" cy="289.7" r="3"/>
<circle cx="640.6" cy="287.9" r="3"/>
<circle cx="640.5" cy="278.1" r="3"/>
<circle cx="641" cy="331.3" r="3"/>
<circle cx="640.7" cy="333.9" r="3"/>
<circle cx="641.3" cy="317" r="3"/>
<circle cx="641.4" cy="262" r="3"/>
<circle cx="641.4" cy="294.3" r="3"/>
<circle cx="642.1" cy="260.5" r="3"/>
<circle cx="642.1" cy="291.7" r="3"/>
<circle cx="641.6" cy="271.9" r="3"/>
<circle cx="641.6" cy="283.8" r="3"/>
<circle cx="642.1" cy="284.4" r="3"/>
<circle cx="641.9" cy="258.4" r="3"/>
<circle cx="642.4" cy="266.6" r="3"/>
<circle cx="642.3" cy="294.2" r="3"/>
<circle cx="642.3" cy="276.4" r="3"/>
<circle cx="643" cy="328.7" r="3"/>
<circle cx="642.7" cy="322.8" r="3"/>
<circle cx="643.1" cy="294.7" r="3"/>
<circle cx="643" cy="297.4" r="3"/>
<circle cx="643.7" cy="310.9" r="3"/>
<circle cx="643.3" cy="275.5" r="3"/>
<circle cx="643.2" cy="269.1" r="3"/>
<circle cx="644" cy="259.5" r="3"/>
<circle cx="643.6" cy="319.3" r="3"/>
<circle cx="643.8" cy="259.2" r="3"/>
<circle cx="643.9" cy="259.4" r="3"/>
<circle cx="643.8" cy="271" r="3"/>
<circle cx="643.8" cy="308.8" r="3"/>
<circle cx="644.3" cy="274.4" r="3"/>
<circle cx="644.4" cy="260.8" r="3"/>
<circle cx="644.7" cy="313.6" r="3"/>
<circle cx="644.8" cy="326.5" r="3"/>
<circle cx="644.8" cy="298.4" r="3"/>
<circle cx="645" cy="319.4" r="3"/>
<circle cx="645.2" cy="311.8" r="3"/>
<circle cx="645.2" cy="319.3" r="3"/>
<circle cx="645" cy="265.2" r="3"/>
<circle cx="645.7" cy="275.1" r="3"/>
<circle cx="645.2" cy="276.8" r="3"/>
<circle cx="645.4" cy="298.5" r="3"/>
<circle cx="645.8" cy="267.5" r="3"/>
<circle cx="646.3" cy="323.9" r="3"/>
<circle cx="646.1" cy="275" r="3"/>
<circle cx="646" cy="282.7" r="3"/>
<circle cx="646.7" cy="301.9" r="3"/>
<circle cx="646.6" cy="267.8" r="3"/>
<circle cx="646.8" cy="312.4" r="3"/>
<circle cx="647.1" cy="330.9" r="3"/>
<circle cx="647.4" cy="283.3" r="3"/>
<circle cx="647" cy="293.7" r="3"/>
<circle cx="647.6" cy="317.3" r="3"/>
<circle cx="647.6" cy="333.5" r="3"/>
<circle cx="647.7" cy="321" r="3"/>
<circle cx="648.1" cy="267.3" r="3"/>
<circle cx="647.9" cy="302.6" r="3"/>
<circle cx="647.9" cy="326.4" r="3"/>
<circle cx="647.9" cy="280.7" r="3"/>
<circle cx="648" cy="301.3" r="3"/>
<circle cx="648.3" cy="277.8" r="3"/>
<circle cx="648.9" cy="334.5" r="3"/>
<circle cx="648.7" cy="323.5" r="3"/>
<circle cx="649.1" cy="269.7" r="3"/>
<circle cx="648.8" cy="262.2" r="3"/>
<circle cx="649.6" cy="311.6" r="3"/>
<circle cx="649.5" cy="271.1" r="3"/>
<circle cx="649.8" cy="308.2" r="3"/>
<circle cx="649.7" cy="303.1" r="3"/>
<circle cx="649.7" cy="256.4" r="3"/>
<circle cx="649.4" cy="299.3" r="3"/>
<circle cx="649.5" cy="276.2" r="3"/>
<circle cx="649.8" cy="275.8" r="3"/>
<circle cx="650.1" cy="308.6" r="3"/>
<circle cx="650.4" cy="334.5" r="3"/>
<circle cx="650.5" cy="307.6" r="3"/>
<circle cx="650.5" cy="317.4" r="3"/>
<circle cx="650.7" cy="298.4" r="3"/>
<circle cx="650.5" cy="271.5" r="3"/>
<circle cx="650.7" cy="256.5" r="3"/>
<circle cx="651.2" cy="313.9" r="3"/>
<circle cx="651.4" cy="273.1" r="3"/>
<circle cx="650.9" cy="309.8" r="3"/>
<circle cx="651.4" cy="313.4" r="3"/>
<circle cx="651.6" cy="327.6" r="3"/>
<circle cx="651.8" cy="312.4" r="3"/>
<circle cx="651.7" cy="264.9" r="3"/>
<circle cx="652.3" cy="267.6" r="3"/>
<circle cx="651.7" cy="280.9" r="3"/>
<circle cx="651.9" cy="280.7" r="3"/>
<circle cx="652.7" cy="329" r="3"/>
<circle cx="652.2" cy="301.3" r="3"/>
<circle cx="652.6" cy="308.8" r="3"/>
<circle cx="652.5" cy="311.3" r="3"/>
<circle cx="652.6" cy="267" r="3"/>
<circle cx="653.3" cy="303.3" r="3"/>
<circle cx="653.1" cy="264.1" r="3"/>
<circle cx="652.9" cy="269.2" r="3"/>
<circle cx="653.7" cy="323.9" r="3"/>
<circle cx="653.4" cy="314.1" r="3"/>
<circle cx="654" cy="296.4" r="3"/>
<circle cx="653.5" cy="277" r="3"/>
<circle cx="653.6" cy="337.7" r="3"/>
<circle cx="654.2" cy="264.7" r="3"/>
<circle cx="653.8" cy="304.5" r="3"/>
<circle cx="654.4" cy="304.4" r="3"/>
<circle cx="654.5" cy="312.9" r="3"/>
<circle cx="654.8" cy="295.9" r="3"/>
<circle cx="654.4" cy="337.9" r="3"/>
<circle cx="655.1" cy="310.4" r="3"/>
<circle cx="655.3" cy="315.7" r="3"/>
<circle cx="654.7" cy="297.3" r="3"/>
<circle cx="654.9" cy="274.6" r="3"/>
<circle cx="655.3" cy="274.3" r="3"/>
<circle cx="655.6" cy="322.3" r="3"/>
<circle cx="655.7" cy="327.2" r="3"/>
<circle cx="656" cy="336.8" r="3"/>
<circle cx="655.5" cy="340.6" r="3"/>
<circle cx="655.8" cy="274.9" r="3"/>
<circle cx="656" cy="295.1" r="3"/>
<circle cx="656" cy="323.6" r="3"/>
<circle cx="656.4" cy="309.1" r="3"/>
<circle cx="656.6" cy="280.3" r="3"/>
<circle cx="656.7" cy="320.1" r="3"/>
<circle cx="657.1" cy="341.7" r="3"/>
<circle cx="657.1" cy="326.3" r="3"/>
<circle cx="656.7" cy="293" r="3"/>
<circle cx="657.4" cy="299.6" r="3"/>
<circle cx="657.2" cy="304.4" r="3"/>
<circle cx="657.9" cy="328.1" r="3"/>
<circle cx="657.7" cy="304.9" r="3"/>
<circle cx="657.7" cy="321.2" r="3"/>
<circle cx="658.4" cy="307.3" r="3"/>
<circle cx="658.2" cy="311.9" r="3"/>
<circle cx="658.9" cy="323.6" r="3"/>
<circle cx="659.1" cy="321" r="3"/>
<circle cx="659.2" cy="322" r="3"/>
<circle cx="659.2" cy="305.7" r="3"/>
<circle cx="659" cy="309.3" r="3"/>
<circle cx="659.4" cy="329" r="3"/>
<circle cx="660" cy="324.2" r="3"/>
<circle cx="659.6" cy="334.8" r="3"/>
<circle cx="660.2" cy="330.1" r="3"/>
<circle cx="659.8" cy="349.7" r="3"/>
<circle cx="660.3" cy="338.3" r="3"/>
<circle cx="660.1" cy="340.2" r="3"/>
<circle cx="660.4" cy="352.6" r="3"/>
<circle cx="660.7" cy="331.4" r="3"/>
<circle cx="660.8" cy="345.4" r="3"/>
<circle cx="660.6" cy="369.1" r="3"/>
<circle cx="661.2" cy="364.7" r="3"/>
<circle cx="661.1" cy="366.5" r="3"/>
<circle cx="661.5" cy="374" r="3"/>
<circle cx="661.2" cy="353.6" r="3"/>
<circle cx="661.2" cy="355.2" r="3"/>
<circle cx="661.3" cy="344.2" r="3"/>
<circle cx="661.2" cy="355" r="3"/>
<circle cx="662.1" cy="371.3" r="3"/>
<circle cx="661.4" cy="346.6" r="3"/>
<circle cx="662.1" cy="373.9" r="3"/>
<circle cx="662.6" cy="348.5" r="3"/>
<circle cx="661.9" cy="373.1" r="3"/>
<circle cx="662.3" cy="355" r="3"/>
<circle cx="662.4" cy="366.4" r="3"/>
<circle cx="662.7" cy="346.7" r="3"/>
<circle cx="662.8" cy="374.7" r="3"/>
<circle cx="663" cy="346.1" r="3"/>
<circle cx="662.8" cy="353.9" r="3"/>
<circle cx="663.5" cy="361.1" r="3"/>
<circle cx="663.2" cy="350.2" r="3"/>
<circle cx="663.5" cy="360.2" r="3"/>
<circle cx="663.3" cy="347.7" r="3"/>
<circle cx="663.8" cy="345.4" r="3"/>
<circle cx="663.6" cy="356.6" r="3"/>
<circle cx="663.4" cy="369" r="3"/>
<circle cx="663.4" cy="359.5" r="3"/>
<circle cx="663.6" cy="355.3" r="3"/>
<circle cx="664" cy="354" r="3"/>
<circle cx="664.1" cy="373.8" r="3"/>
<circle cx="664.8" cy="367.2" r="3"/>
<circle cx="664.8" cy="374.7" r="3"/>
<circle cx="665" cy="352.2" r="3"/>
<circle cx="664.6" cy="350.1" r="3"/>
<circle cx="664.8" cy="362.3" r="3"/>
<circle cx="665.1" cy="356.5" r="3"/>
<circle cx="665.2" cy="353" r="3"/>
<circle cx="665.3" cy="364.3" r="3"/>
<circle cx="665.2" cy="361.3" r="3"/>
<circle cx="665.5" cy="358.6" r="3"/>
<circle cx="665.6" cy="375.9" r="3"/>
<circle cx="666.2" cy="370.7" r="3"/>
<circle cx="666.2" cy="356.9" r="3"/>
<circle cx="666.3" cy="360.2" r="3"/>
<circle cx="666.7" cy="357.3" r="3"/>
<circle cx="666.7" cy="361.6" r="3"/>
<circle cx="666.3" cy="354.5" r="3"/>
<circle cx="666.7" cy="369.8" r="3"/>
<circle cx="667.1" cy="352.6" r="3"/>
<circle cx="667.2" cy="363.2" r="3"/>
<circle cx="666.8" cy="365.8" r="3"/>
<circle cx="667.2" cy="369.4" r="3"/>
<circle cx="667.7" cy="356.4" r="3"/>
<circle cx="667" cy="353.9" r="3"/>
<circle cx="667.2" cy="353.4" r="3"/>
<circle cx="668.1" cy="367.4" r="3"/>
<circle cx="667.4" cy="369.4" r="3"/>
<circle cx="667.7" cy="373" r="3"/>
<circle cx="667.8" cy="370.4" r="3"/>
<circle cx="668.4" cy="351.4" r="3"/>
<circle cx="668.5" cy="363.7" r="3"/>
<circle cx="668.2" cy="354.3" r="3"/>
<circle cx="668.8" cy="357" r="3"/>
<circle cx="668.5" cy="352.8" r="3"/>
<circle cx="668.6" cy="352.6" r="3"/>
<circle cx="668.6" cy="367.5" r="3"/>
<circle cx="669.2" cy="362.9" r="3"/>
<circle cx="669.1" cy="361.7" r="3"/>
<circle cx="669.1" cy="353.9" r="3"/>
<circle cx="669.8" cy="364.3" r="3"/>
<circle cx="669.7" cy="368" r="3"/>
<circle cx="669.8" cy="373.3" r="3"/>
<circle cx="670" cy="357" r="3"/>
<circle cx="670" cy="375.1" r="3"/>
<circle cx="670.7" cy="367.7" r="3"/>
<circle cx="670.5" cy="371.6" r="3"/>
<circle cx="670.7" cy="353.5" r="3"/>
<circle cx="670.5" cy="366.3" r="3"/>
<circle cx="671.1" cy="360.9" r="3"/>
<circle cx="671.2" cy="357.9" r="3"/>
<circle cx="671.1" cy="354.3" r="3"/>
<circle cx="672" cy="362.2" r="3"/>
<circle cx="671.7" cy="359.7" r="3"/>
<circle cx="672.2" cy="377.5" r="3"/>
<circle cx="671.8" cy="365.2" r="3"/>
<circle cx="672" cy="358.4" r="3"/>
<circle cx="672.3" cy="360.2" r="3"/>
<circle cx="673.2" cy="377.6" r="3"/>
<circle cx="673.2" cy="356.7" r="3"/>
<circle cx="673" cy="356.9" r="3"/>
<circle cx="673.3" cy="379.3" r="3"/>
<circle cx="673.1" cy="364.7" r="3"/>
<circle cx="673.4" cy="379" r="3"/>
<circle cx="673.5" cy="359.7" r="3"/>
<circle cx="673.8" cy="364" r="3"/>
<circle cx="674.1" cy="363" r="3"/>
<circle cx="673.8" cy="359.3" r="3"/>
<circle cx="674.1" cy="378.4" r="3"/>
<circle cx="674.4" cy="377.8" r="3"/>
<circle cx="674.2" cy="367.4" r="3"/>
<circle cx="674.5" cy="362" r="3"/>
<circle cx="674.6" cy="373.8" r="3"/>
<circle cx="674.9" cy="361" r="3"/>
<circle cx="674.5" cy="373.1" r="3"/>
<circle cx="674.7" cy="359.8" r="3"/>
<circle cx="675" cy="359" r="3"/>
<circle cx="675" cy="376.4" r="3"/>
<circle cx="674.9" cy="372.5" r="3"/>
<circle cx="675.3" cy="362.4" r="3"/>
<circle cx="675.6" cy="358.7" r="3"/>
<circle cx="675.5" cy="374.2" r="3"/>
<circle cx="675.8" cy="370.1" r="3"/>
<circle cx="676.2" cy="376.9" r="3"/>
<circle cx="675.7" cy="363.3" r="3"/>
<circle cx="676" cy="360.4" r="3"/>
<circle cx="676.5" cy="366.2" r="3"/>
<circle cx="676.5" cy="371.7" r="3"/>
<circle cx="675.9" cy="373.4" r="3"/>
<circle cx="676.8" cy="364.1" r="3"/>
<circle cx="677" cy="366.4" r="3"/>
<circle cx="676.6" cy="372.2" r="3"/>
<circle cx="677.1" cy="368.3" r="3"/>
<circle cx="676.9" cy="375" r="3"/>
<circle cx="676.8" cy="368" r="3"/>
<circle cx="677.7" cy="374.4" r="3"/>
<circle cx="677.6" cy="368.9" r="3"/>
<circle cx="677.4" cy="360.3" r="3"/>
<circle cx="677.7" cy="376.4" r="3"/>
<circle cx="678" cy="371.5" r="3"/>
<circle cx="678.1" cy="362.1" r="3"/>
<circle cx="678.6" cy="371.6" r="3"/>
<circle cx="678.5" cy="373.6" r="3"/>
<circle cx="678.9" cy="363.6" r="3"/>
<circle cx="679.2" cy="370" r="3"/>
<circle cx="679.1" cy="366.5" r="3"/>
<circle cx="679.5" cy="362.4" r="3"/>
<circle cx="678.8" cy="360.1" r="3"/>
<circle cx="679.1" cy="374" r="3"/>
<circle cx="679.4" cy="366.6" r="3"/>
<circle cx="679.6" cy="367" r="3"/>
<circle cx="680.1" cy="374.7" r="3"/>
<circle cx="680.1" cy="370.4" r="3"/>
<circle cx="680.3" cy="372.6" r="3"/>
<circle cx="680.6" cy="357" r="3"/>
<circle cx="680.2" cy="360.3" r="3"/>
<circle cx="680.6" cy="358.2" r="3"/>
<circle cx="680.5" cy="358" r="3"/>
<circle cx="680.8" cy="365.3" r="3"/>
<circle cx="680.9" cy="372.8" r="3"/>
<circle cx="681.5" cy="378.7" r="3"/>
<circle cx="680.9" cy="371.7" r="3"/>
<circle cx="681.3" cy="365.7" r="3"/>
<circle cx="681.3" cy="356.5" r="3"/>
<circle cx="681.9" cy="371.8" r="3"/>
<circle cx="682.1" cy="373.6" r="3"/>
<circle cx="682" cy="374.4" r="3"/>
<circle cx="682.6" cy="370.8" r="3"/>
<circle cx="682.2" cy="365.4" r="3"/>
<circle cx="682.8" cy="360.8" r="3"/>
<circle cx="682.5" cy="373.7" r="3"/>
<circle cx="682.8" cy="375.6" r="3"/>
<circle cx="683" cy="369.5" r="3"/>
<circle cx="683" cy="358.6" r="3"/>
<circle cx="683.3" cy="358.7" r="3"/>
<circle cx="683" cy="357.8" r="3"/>
<circle cx="683.8" cy="378.8" r="3"/>
<circle cx="683.5" cy="377.9" r="3"/>
<circle cx="683.4" cy="358.9" r="3"/>
<circle cx="684.2" cy="369.5" r="3"/>
<circle cx="684.3" cy="366.5" r="3"/>
<circle cx="684.3" cy="377.8" r="3"/>
<circle cx="684.4" cy="359.7" r="3"/>
<circle cx="684.5" cy="375.3" r="3"/>
<circle cx="684.9" cy="362.5" r="3"/>
<circle cx="684.7" cy="368.3" r="3"/>
<circle cx="685" cy="371.4" r="3"/>
<circle cx="685" cy="373.1" r="3"/>
<circle cx="685.4" cy="363.4" r="3"/>
<circle cx="685.5" cy="363.3" r="3"/>
<circle cx="685.2" cy="368.1" r="3"/>
<circle cx="685.9" cy="371" r="3"/>
<circle cx="685.8" cy="358.4" r="3"/>
<circle cx="685.7" cy="367.1" r="3"/>
<circle cx="686" cy="363" r="3"/>
<circle cx="686.1" cy="359" r="3"/>
<circle cx="685.9" cy="363.4" r="3"/>
<circle cx="686.6" cy="363.7" r="3"/>
<circle cx="686.3" cy="359.7" r="3"/>
<circle cx="686.1" cy="378.6" r="3"/>
<circle cx="686.8" cy="361.9" r="3"/>
<circle cx="686.3" cy="367.2" r="3"/>
<circle cx="687" cy="364.4" r="3"/>
<circle cx="686.7" cy="376.8" r="3"/>
<circle cx="686.9" cy="362.4" r="3"/>
<circle cx="687.3" cy="375.6" r="3"/>
<circle cx="687.3" cy="364.8" r="3"/>
<circle cx="687.5" cy="369.7" r="3"/>
<circle cx="687.7" cy="370.7" r="3"/>
<circle cx="687.5" cy="366.4" r="3"/>
<circle cx="687.8" cy="377" r="3"/>
<circle cx="688.1" cy="365" r="3"/>
<circle cx="688.2" cy="346.9" r="3"/>
<circle cx="687.8" cy="361.6" r="3"/>
<circle cx="688.7" cy="349.3" r="3"/>
<circle cx="688.1" cy="328.6" r="3"/>
<circle cx="688.8" cy="319.2" r="3"/>
<circle cx="688.6" cy="310.7" r="3"/>
<circle cx="689" cy="305.7" r="3"/>
<circle cx="689.4" cy="315.3" r="3"/>
<circle cx="689.4" cy="303.7" r="3"/>
<circle cx="689.2" cy="282.4" r="3"/>
<circle cx="689" cy="290.3" r="3"/>
<circle cx="689.7" cy="262" r="3"/>
<circle cx="689.7" cy="283.7" r="3"/>
<circle cx="689.7" cy="275.9" r="3"/>
<circle cx="690.1" cy="253.4" r="3"/>
<circle cx="690.3" cy="215.4" r="3"/>
<circle cx="690.3" cy="268.5" r="3"/>
<circle cx="690.6" cy="244.9" r="3"/>
<circle cx="690.6" cy="244.5" r="3"/>
<circle cx="691.1" cy="206.7" r="3"/>
<circle cx="690.6" cy="247.5" r="3"/>
<circle cx="691.1" cy="241.5" r="3"/>
<circle cx="691.3" cy="265.6" r="3"/>
<circle cx="691.4" cy="224.2" r="3"/>
<circle cx="691.6" cy="212.8" r="3"/>
<circle cx="691.3" cy="235.1" r="3"/>
<circle cx="691.1" cy="237" r="3"/>
<circle cx="692" cy="272.1" r="3"/>
<circle cx="691.7" cy="215.9" r="3"/>
<circle cx="691.7" cy="209.7" r="3"/>
<circle cx="691.8" cy="271.6" r="3"/>
<circle cx="691.8" cy="206.4" r="3"/>
<circle cx="692.4" cy="272.4" r="3"/>
<circle cx="692.6" cy="259.7" r="3"/>
<circle cx="692.4" cy="212.4" r="3"/>
<circle cx="692.3" cy="206.4" r="3"/>
<circle cx="692.4" cy="234" r="3"/>
<circle cx="693.3" cy="260.6" r="3"/>
<circle cx="693.2" cy="251.5" r="3"/>
<circle cx="693.2" cy="238.9" r="3"/>
<circle cx="693.1" cy="220.5" r="3"/>
<circle cx="693.4" cy="232.5" r="3"/>
<circle cx="693.5" cy="209.1" r="3"/>
<circle cx="693.9" cy="268.5" r="3"/>
<circle cx="694.1" cy="259.6" r="3"/>
<circle cx="694.1" cy="224.5" r="3"/>
<circle cx="694.6" cy="245.5" r="3"/>
<circle cx="694.3" cy="224" r="3"/>
<circle cx="694.6" cy="242.8" r="3"/>
<circle cx="694.6" cy="209.6" r="3"/>
<circle cx="695.2" cy="220.1" r="3"/>
<circle cx="695.4" cy="224.9" r="3"/>
<circle cx="695.2" cy="265.5" r="3"/>
<circle cx="695.9" cy="251.2" r="3"/>
<circle cx="696" cy="262.1" r="3"/>
<circle cx="695.9" cy="215.2" r="3"/>
<circle cx="696" cy="241" r="3"/>
<circle cx="696.5" cy="228.8" r="3"/>
<circle cx="696.6" cy="259.3" r="3"/>
<circle cx="697.1" cy="243.7" r="3"/>
<circle cx="697.2" cy="222.8" r="3"/>
<circle cx="697.3" cy="242.7" r="3"/>
<circle cx="697.5" cy="231.9" r="3"/>
<circle cx="697.1" cy="216.8" r="3"/>
<circle cx="697.7" cy="206.6" r="3"/>
<circle cx="697.7" cy="205.5" r="3"/>
<circle cx="697.8" cy="212.2" r="3"/>
<circle cx="698" cy="206.2" r="3"/>
<circle cx="697.9" cy="240.3" r="3"/>
<circle cx="698.1" cy="213.3" r="3"/>
<circle cx="698.3" cy="226.3" r="3"/>
<circle cx="698.5" cy="228.3" r="3"/>
<circle cx="698.9" cy="241.8" r="3"/>
<circle cx="699.2" cy="231.2" r="3"/>
<circle cx="699.1" cy="264.2" r="3"/>
<circle cx="699.3" cy="227.9" r="3"/>
<circle cx="699.3" cy="215.1" r="3"/>
<circle cx="699.5" cy="235.7" r="3"/>
<circle cx="699.8" cy="240" r="3"/>
<circle cx="699.8" cy="242.6" r="3"/>
<circle cx="699.7" cy="206" r="3"/>
<circle cx="700.1" cy="194.1" r="3"/>
<circle cx="699.9" cy="204.8" r="3"/>
<circle cx="700.3" cy="242.7" r="3"/>
<circle cx="700.4" cy="222" r="3"/>
<circle cx="700.7" cy="229.3" r="3"/>
<circle cx="700.5" cy="210.4" r="3"/>
<circle cx="700.7" cy="193.1" r="3"/>
<circle cx="701" cy="226.2" r="3"/>
<circle cx="700.9" cy="196" r="3"/>
<circle cx="701.5" cy="238.8" r="3"/>
<circle cx="701.1" cy="249.7" r="3"/>
<circle cx="702" cy="256.9" r="3"/>
<circle cx="702.1" cy="208.1" r="3"/>
<circle cx="702.2" cy="235" r="3"/>
<circle cx="702.7" cy="238.8" r="3"/>
<circle cx="702.6" cy="220.3" r="3"/>
<circle cx="703.1" cy="188.2" r="3"/>
<circle cx="702.6" cy="220.8" r="3"/>
<circle cx="703.3" cy="197.5" r="3"/>
<circle cx="703.4" cy="205.4" r="3"/>
<circle cx="703.3" cy="201.3" r="3"/>
<circle cx="703.4" cy="253.7" r="3"/>
<circle cx="703.5" cy="203.1" r="3"/>
<circle cx="703.3" cy="187.2" r="3"/>
<circle cx="704" cy="207.3" r="3"/>
<circle cx="703.7" cy="257.2" r="3"/>
<circle cx="704.1" cy="206.1" r="3"/>
<circle cx="703.7" cy="219.7" r="3"/>
<circle cx="704" cy="204.6" r="3"/>
<circle cx="703.9" cy="244.1" r="3"/>
<circle cx="704.5" cy="242.6" r="3"/>
<circle cx="704.3" cy="251.4" r="3"/>
<circle cx="705" cy="190.6" r="3"/>
<circle cx="704.7" cy="188.7" r="3"/>
<circle cx="705.1" cy="261.1" r="3"/>
<circle cx="704.7" cy="246.3" r="3"/>
<circle cx="705.1" cy="207.4" r="3"/>
<circle cx="705.1" cy="254.3" r="3"/>
<circle cx="705.4" cy="225.5" r="3"/>
<circle cx="705.8" cy="215.3" r="3"/>
<circle cx="705.6" cy="217.4" r="3"/>
<circle cx="705.9" cy="218.6" r="3"/>
<circle cx="706.2" cy="200.8" r="3"/>
<circle cx="706.9" cy="199.5" r="3"/>
<circle cx="706.5" cy="229.4" r="3"/>
<circle cx="706.7" cy="233.2" r="3"/>
<circle cx="706.5" cy="191.2" r="3"/>
<circle cx="706.8" cy="189.4" r="3"/>
<circle cx="707" cy="232.5" r="3"/>
<circle cx="707" cy="196.3" r="3"/>
<circle cx="707.6" cy="193.4" r="3"/>
<circle cx="707.2" cy="182.3" r="3"/>
<circle cx="707.6" cy="222.3" r="3"/>
<circle cx="708.3" cy="178.3" r="3"/>
<circle cx="707.9" cy="229.6" r="3"/>
<circle cx="708.5" cy="246.1" r="3"/>
<circle cx="708.3" cy="191" r="3"/>
<circle cx="708.4" cy="216.1" r="3"/>
<circle cx="709.2" cy="252.1" r="3"/>
<circle cx="708.8" cy="241.1" r="3"/>
<circle cx="709.3" cy="249.4" r="3"/>
<circle cx="709.9" cy="195.8" r="3"/>
<circle cx="710" cy="255.6" r="3"/>
<circle cx="709.9" cy="256.7" r="3"/>
<circle cx="710.1" cy="194.4" r="3"/>
<circle cx="710.1" cy="254.2" r="3"/>
<circle cx="710.1" cy="200.5" r="3"/>
<circle cx="710" cy="185.6" r="3"/>
<circle cx="710.2" cy="202.9" r="3"/>
<circle cx="710.7" cy="258.7" r="3"/>
<circle cx="711" cy="239" r="3"/>
<circle cx="710.5" cy="252.1" r="3"/>
<circle cx="711.1" cy="188.5" r="3"/>
<circle cx="711.1" cy="226.2" r="3"/>
<circle cx="711.1" cy="209.1" r="3"/>
<circle cx="711.1" cy="183.3" r="3"/>
<circle cx="711.9" cy="259.9" r="3"/>
<circle cx="711.6" cy="208.5" r="3"/>
<circle cx="711.7" cy="243.2" r="3"/>
<circle cx="712.3" cy="253.6" r="3"/>
<circle cx="711.9" cy="179.8" r="3"/>
<circle cx="712.1" cy="230.1" r="3"/>
<circle cx="712" cy="199.5" r="3"/>
<circle cx="712.4" cy="217.9" r="3"/>
<circle cx="713" cy="215.6" r="3"/>
<circle cx="713.2" cy="245.5" r="3"/>
<circle cx="712.9" cy="229.5" r="3"/>
<circle cx="712.8" cy="238.2" r="3"/>
<circle cx="712.9" cy="190.7" r="3"/>
<circle cx="713.1" cy="236.2" r="3"/>
<circle cx="713.1" cy="182.3" r="3"/>
<circle cx="713.4" cy="235" r="3"/>
<circle cx="714" cy="235.7" r="3"/>
<circle cx="713.5" cy="238" r="3"/>
<circle cx="714" cy="193.8" r="3"/>
<circle cx="714.5" cy="202.2" r="3"/>
<circle cx="714.1" cy="239.5" r="3"/>
<circle cx="714.7" cy="202.6" r="3"/>
<circle cx="714.6" cy="205.6" r="3"/>
<circle cx="715.2" cy="265.5" r="3"/>
<circle cx="715.1" cy="218.4" r="3"/>
<circle cx="714.9" cy="200.8" r="3"/>
<circle cx="715.3" cy="189.2" r="3"/>
<circle cx="715.6" cy="265.8" r="3"/>
<circle cx="715.9" cy="253.7" r="3"/>
<circle cx="715.7" cy="214.2" r="3"/>
<circle cx="715.9" cy="209.9" r="3"/>
<circle cx="716.3" cy="190" r="3"/>
<circle cx="716.1" cy="223.4" r="3"/>
<circle cx="716.2" cy="229.1" r="3"/>
<circle cx="715.8" cy="189.3" r="3"/>
<circle cx="716.1" cy="207.9" r="3"/>
<circle cx="716.6" cy="250.6" r="3"/>
<circle cx="716.3" cy="211.1" r="3"/>
<circle cx="716.4" cy="245.3" r="3"/>
<circle cx="716.6" cy="239.3" r="3"/>
<circle cx="716.9" cy="181.8" r="3"/>
<circle cx="717.4" cy="229.2" r="3"/>
<circle cx="717.2" cy="197.6" r="3"/>
<circle cx="717.1" cy="228.4" r="3"/>
<circle cx="717.3" cy="197.6" r="3"/>
<circle cx="717.5" cy="260.4" r="3"/>
<circle cx="717.6" cy="221" r="3"/>
<circle cx="717.5" cy="212.6" r="3"/>
<circle cx="717.6" cy="238.2" r="3"/>
<circle cx="717.8" cy="192.4" r="3"/>
<circle cx="718" cy="238.6" r="3"/>
<circle cx="718" cy="251.5" r="3"/>
<circle cx="718.3" cy="207.5" r="3"/>
<circle cx="718.7" cy="214.3" r="3"/>
<circle cx="718.8" cy="224.6" r="3"/>
<circle cx="718.3" cy="258.3" r="3"/>
<circle cx="719.1" cy="224.4" r="3"/>
<circle cx="719.1" cy="237.2" r="3"/>
<circle cx="718.9" cy="270.3" r="3"/>
<circle cx="719.4" cy="188.7" r="3"/>
<circle cx="719.5" cy="184.7" r="3"/>
<circle cx="719.8" cy="194" r="3"/>
<circle cx="719.6" cy="221.4" r="3"/>
<circle cx="719.6" cy="198.4" r="3"/>
<circle cx="719.4" cy="270.3" r="3"/>
<circle cx="720" cy="260.1" r="3"/>
<circle cx="720.4" cy="244.7" r="3"/>
<circle cx="719.9" cy="231" r="3"/>
<circle cx="720.4" cy="268.3" r="3"/>
<circle cx="720.6" cy="195.4" r="3"/>
<circle cx="720.1" cy="183.4" r="3"/>
<circle cx="720.8" cy="200.2" r="3"/>
<circle cx="720.8" cy="185.3" r="3"/>
<circle cx="721" cy="205.7" r="3"/>
<circle cx="721.3" cy="251.8" r="3"/>
<circle cx="721.7" cy="229.4" r="3"/>
<circle cx="721.9" cy="189.2" r="3"/>
<circle cx="721.2" cy="257" r="3"/>
<circle cx="722.1" cy="234.4" r="3"/>
<circle cx="721.8" cy="212.4" r="3"/>
<circle cx="722.3" cy="245.2" r="3"/>
<circle cx="722.9" cy="212.1" r="3"/>
<circle cx="722.3" cy="221.3" r="3"/>
<circle cx="722.5" cy="273.6" r="3"/>
<circle cx="722.9" cy="248.3" r="3"/>
<circle cx="723.1" cy="223.2" r="3"/>
<circle cx="722.9" cy="235.3" r="3"/>
<circle cx="723.2" cy="201.1" r="3"/>
<circle cx="723.1" cy="265.8" r="3"/>
<circle cx="723.2" cy="268" r="3"/>
<circle cx="723.5" cy="193.4" r="3"/>
<circle cx="723.5" cy="275" r="3"/>
<circle cx="724" cy="274.9" r="3"/>
<circle cx="723.8" cy="222.2" r="3"/>
<circle cx="723.9" cy="206.4" r="3"/>
<circle cx="724.3" cy="246.1" r="3"/>
<circle cx="724.1" cy="210.6" r="3"/>
<circle cx="724.5" cy="197.4" r="3"/>
<circle cx="724.5" cy="194.6" r="3"/>
<circle cx="724.5" cy="256" r="3"/>
<circle cx="725.3" cy="273.3" r="3"/>
<circle cx="725.1" cy="272" r="3"/>
<circle cx="725.4" cy="229.3" r="3"/>
<circle cx="725.5" cy="256.4" r="3"/>
<circle cx="725.8" cy="252.2" r="3"/>
<circle cx="726" cy="214.9" r="3"/>
<circle cx="726.1" cy="223.2" r="3"/>
<circle cx="726.6" cy="231.7" r="3"/>
<circle cx="726.4" cy="275.7" r="3"/>
<circle cx="726.9" cy="243.7" r="3"/>
<circle cx="726.7" cy="231.5" r="3"/>
<circle cx="727" cy="239.5" r="3"/>
<circle cx="727.1" cy="249.4" r="3"/>
<circle cx="727.5" cy="275.2" r="3"/>
<circle cx="727" cy="275.9" r="3"/>
<circle cx="727.8" cy="221.2" r="3"/>
<circle cx="727.4" cy="239.9" r="3"/>
<circle cx="727.5" cy="213.7" r="3"/>
<circle cx="728" cy="205.7" r="3"/>
<circle cx="728.1" cy="206.9" r="3"/>
<circle cx="728.3" cy="204.2" r="3"/>
<circle cx="728.4" cy="269.1" r="3"/>
<circle cx="728.1" cy="255.1" r="3"/>
<circle cx="728.4" cy="223" r="3"/>
<circle cx="728.4" cy="272.4" r="3"/>
<circle cx="728.3" cy="245.2" r="3"/>
<circle cx="728.7" cy="208.3" r="3"/>
<circle cx="728.7" cy="209.4" r="3"/>
<circle cx="728.9" cy="221.7" r="3"/>
<circle cx="729.2" cy="273.7" r="3"/>
<circle cx="729" cy="212.5" r="3"/>
<circle cx="729.3" cy="202.2" r="3"/>
<circle cx="729.5" cy="195.1" r="3"/>
<circle cx="729.6" cy="271.1" r="3"/>
<circle cx="729.6" cy="220.8" r="3"/>
<circle cx="729.8" cy="202.3" r="3"/>
<circle cx="729.5" cy="230.9" r="3"/>
<circle cx="730.1" cy="264.6" r="3"/>
<circle cx="729.8" cy="214.9" r="3"/>
<circle cx="730.1" cy="235.8" r="3"/>
<circle cx="730.1" cy="227.9" r="3"/>
<circle cx="730.3" cy="269" r="3"/>
<circle cx="730.5" cy="234.2" r="3"/>
<circle cx="730.5" cy="206.4" r="3"/>
<circle cx="730.4" cy="273.8" r="3"/>
<circle cx="730.9" cy="207.7" r="3"/>
<circle cx="730.7" cy="225.5" r="3"/>
<circle cx="730.7" cy="277.7" r="3"/>
<circle cx="731.3" cy="197.6" r="3"/>
<circle cx="731.5" cy="202" r="3"/>
<circle cx="731.1" cy="280.4" r="3"/>
<circle cx="731.9" cy="220.3" r="3"/>
<circle cx="731.9" cy="271.2" r="3"/>
<circle cx="732.1" cy="225" r="3"/>
<circle cx="731.7" cy="198.9" r="3"/>
<circle cx="732.3" cy="274.6" r="3"/>
<circle cx="732.8" cy="251.4" r="3"/>
<circle cx="732.6" cy="259.8" r="3"/>
<circle cx="733" cy="244.6" r="3"/>
<circle cx="732.6" cy="194.7" r="3"/>
<circle cx="733.4" cy="253" r="3"/>
<circle cx="733.4" cy="198.4" r="3"/>
<circle cx="733.3" cy="226.1" r="3"/>
<circle cx="733.7" cy="259.1" r="3"/>
<circle cx="733.5" cy="255.4" r="3"/>
<circle cx="733.7" cy="224.4" r="3"/>
<circle cx="734.3" cy="231.7" r="3"/>
<circle cx="734.3" cy="204.2" r="3"/>
<circle cx="734.7" cy="222" r="3"/>
<circle cx="734.7" cy="201.4" r="3"/>
<circle cx="734.9" cy="233.9" r="3"/>
<circle cx="735.4" cy="249.1" r="3"/>
<circle cx="735.2" cy="264.8" r="3"/>
<circle cx="735.5" cy="211.6" r="3"/>
<circle cx="735.8" cy="215.3" r="3"/>
<circle cx="736.1" cy="253.8" r="3"/>
<circle cx="736" cy="242.4" r="3"/>
<circle cx="736.5" cy="241.6" r="3"/>
<circle cx="736" cy="256.2" r="3"/>
<circle cx="736.3" cy="248.9" r="3"/>
<circle cx="736.8" cy="228" r="3"/>
<circle cx="736.7" cy="268.1" r="3"/>
<circle cx="736.7" cy="223.7" r="3"/>
<circle cx="737.4" cy="272.9" r="3"/>
<circle cx="737.6" cy="216.1" r="3"/>
<circle cx="737.3" cy="216.1" r="3"/>
<circle cx="737.5" cy="207" r="3"/>
<circle cx="737.6" cy="205.6" r="3"/>
<circle cx="737.8" cy="247" r="3"/>
<circle cx="738.3" cy="281.7" r="3"/>
<circle cx="738.2" cy="261.7" r="3"/>
<circle cx="738.3" cy="272.6" r="3"/>
<circle cx="738.7" cy="260.8" r="3"/>
<circle cx="738.5" cy="222.4" r="3"/>
<circle cx="738.6" cy="281.7" r="3"/>
<circle cx="738.9" cy="217" r="3"/>
<circle cx="739" cy="272.8" r="3"/>
<circle cx="738.9" cy="202.5" r="3"/>
<circle cx="739.4" cy="258.4" r="3"/>
<circle cx="739.5" cy="250.5" r="3"/>
<circle cx="739.3" cy="228" r="3"/>
<circle cx="739.9" cy="281.4" r="3"/>
<circle cx="740.1" cy="210.3" r="3"/>
<circle cx="740.1" cy="237.4" r="3"/>
<circle cx="740.4" cy="205.9" r="3"/>
<circle cx="739.8" cy="210.3" r="3"/>
<circle cx="740.2" cy="267.7" r="3"/>
<circle cx="740.5" cy="226.5" r="3"/>
<circle cx="741" cy="232.2" r="3"/>
<circle cx="740.9" cy="205.3" r="3"/>
<circle cx="740.6" cy="286.6" r="3"/>
<circle cx="740.7" cy="211.1" r="3"/>
<circle cx="741.1" cy="279.3" r="3"/>
<circle cx="741" cy="271" r="3"/>
<circle cx="740.9" cy="282.6" r="3"/>
<circle cx="741.5" cy="214.4" r="3"/>
<circle cx="741.8" cy="265.5" r="3"/>
<circle cx="741.5" cy="264.5" r="3"/>
<circle cx="741.4" cy="242.3" r="3"/>
<circle cx="742" cy="224" r="3"/>
<circle cx="742" cy="202.5" r="3"/>
<circle cx="742" cy="286.8" r="3"/>
<circle cx="742.2" cy="236.6" r="3"/>
<circle cx="742.1" cy="250.8" r="3"/>
<circle cx="742.5" cy="276.7" r="3"/>
<circle cx="742.3" cy="261.2" r="3"/>
<circle cx="742.4" cy="240.8" r="3"/>
<circle cx="742.5" cy="283.1" r="3"/>
<circle cx="743" cy="270.5" r="3"/>
<circle cx="742.7" cy="206.9" r="3"/>
<circle cx="743.1" cy="255.5" r="3"/>
<circle cx="742.9" cy="251.9" r="3"/>
<circle cx="743.4" cy="257" r="3"/>
<circle cx="743.5" cy="249.2" r="3"/>
<circle cx="743.6" cy="225.7" r="3"/>
<circle cx="743.3" cy="212.2" r="3"/>
<circle cx="743.9" cy="260.2" r="3"/>
<circle cx="744.2" cy="276.7" r="3"/>
<circle cx="744.7" cy="236.7" r="3"/>
<circle cx="744" cy="284.5" r="3"/>
<circle cx="744.4" cy="257.4" r="3"/>
<circle cx="744.9" cy="227.9" r="3"/>
<circle cx="744.6" cy="252.7" r="3"/>
<circle cx="745.4" cy="285.1" r="3"/>
<circle cx="745.1" cy="264.4" r="3"/>
<circle cx="745.3" cy="249.4" r="3"/>
<circle cx="745.3" cy="228.6" r="3"/>
<circle cx="745.4" cy="240.1" r="3"/>
<circle cx="745.5" cy="231.6" r="3"/>
<circle cx="746.2" cy="210" r="3"/>
<circle cx="746" cy="279.7" r="3"/>
<circle cx="746" cy="215.7" r="3"/>
<circle cx="746.3" cy="211.1" r="3"/>
<circle cx="746.7" cy="228.1" r="3"/>
<circle cx="746.2" cy="275.2" r="3"/>
<circle cx="746.6" cy="284.9" r="3"/>
<circle cx="746.5" cy="214.3" r="3"/>
<circle cx="747.1" cy="231.2" r="3"/>
<circle cx="746.9" cy="255.1" r="3"/>
<circle cx="747.4" cy="230.1" r="3"/>
<circle cx="747.8" cy="288.5" r="3"/>
<circle cx="747.8" cy="273.3" r="3"/>
<circle cx="747.9" cy="260.8" r="3"/>
<circle cx="748.2" cy="237" r="3"/>
<circle cx="748.8" cy="235.3" r="3"/>
<circle cx="748.4" cy="247.7" r="3"/>
<circle cx="748.7" cy="264.6" r="3"/>
<circle cx="748.7" cy="254.8" r="3"/>
<circle cx="749.3" cy="242.3" r="3"/>
<circle cx="749.1" cy="260.9" r="3"/>
<circle cx="749.2" cy="249.2" r="3"/>
<circle cx="750" cy="247.3" r="3"/>
<circle cx="750.1" cy="276.9" r="3"/>
<circle cx="749.8" cy="290.9" r="3"/>
<circle cx="750.5" cy="225.3" r="3"/>
<circle cx="750.1" cy="228.8" r="3"/>
<circle cx="750.2" cy="286.5" r="3"/>
<circle cx="750.5" cy="232.9" r="3"/>
<circle cx="750.7" cy="221.5" r="3"/>
<circle cx="750.9" cy="258.5" r="3"/>
<circle cx="751.4" cy="280.6" r="3"/>
<circle cx="751.3" cy="225.1" r="3"/>
<circle cx="751.4" cy="224.3" r="3"/>
<circle cx="751.8" cy="275.5" r="3"/>
<circle cx="751.7" cy="274.3" r="3"/>
<circle cx="751.9" cy="274.4" r="3"/>
<circle cx="752.1" cy="237.8" r="3"/>
<circle cx="751.8" cy="260.3" r="3"/>
<circle cx="752" cy="283.1" r="3"/>
<circle cx="752.2" cy="284.3" r="3"/>
<circle cx="752.2" cy="265" r="3"/>
<circle cx="752.8" cy="281.5" r="3"/>
<circle cx="752.1" cy="230.2" r="3"/>
<circle cx="752.6" cy="233.6" r="3"/>
<circle cx="752.5" cy="249.5" r="3"/>
<circle cx="753.2" cy="266.6" r="3"/>
<circle cx="752.8" cy="241" r="3"/>
<circle cx="753" cy="280.9" r="3"/>
<circle cx="753" cy="241.4" r="3"/>
<circle cx="753.4" cy="295.7" r="3"/>
<circle cx="753.6" cy="286.6" r="3"/>
<circle cx="753.8" cy="263.3" r="3"/>
<circle cx="753.5" cy="278.3" r="3"/>
<circle cx="753.6" cy="279.4" r="3"/>
<circle cx="753.6" cy="248.7" r="3"/>
<circle cx="754.3" cy="274" r="3"/>
<circle cx="754" cy="270.2" r="3"/>
<circle cx="754.3" cy="241.5" r="3"/>
<circle cx="754.1" cy="297.9" r="3"/>
<circle cx="754" cy="239.3" r="3"/>
<circle cx="754.3" cy="279.2" r="3"/>
<circle cx="754.3" cy="286.3" r="3"/>
<circle cx="754.5" cy="249.8" r="3"/>
<circle cx="754.7" cy="233.1" r="3"/>
<circle cx="754.8" cy="251.2" r="3"/>
<circle cx="754.8" cy="297.1" r="3"/>
<circle cx="755.4" cy="237.7" r="3"/>
<circle cx="755.1" cy="263.5" r="3"/>
<circle cx="755.6" cy="290" r="3"/>
<circle cx="755.4" cy="233.7" r="3"/>
<circle cx="755.6" cy="264.4" r="3"/>
<circle cx="755.9" cy="230.2" r="3"/>
<circle cx="755.9" cy="283.7" r="3"/>
<circle cx="756.4" cy="235.6" r="3"/>
<circle cx="756.6" cy="249.6" r="3"/>
<circle cx="756.7" cy="228.6" r="3"/>
<circle cx="756.3" cy="275.9" r="3"/>
<circle cx="756.8" cy="287.6" r="3"/>
<circle cx="756.5" cy="250" r="3"/>
<circle cx="757.4" cy="263.1" r="3"/>
<circle cx="757.4" cy="269.1" r="3"/>
<circle cx="757.2" cy="225.8" r="3"/>
<circle cx="757.2" cy="224.3" r="3"/>
<circle cx="757.8" cy="289" r="3"/>
<circle cx="758.1" cy="224.9" r="3"/>
<circle cx="757.6" cy="230.3" r="3"/>
<circle cx="757.6" cy="232.4" r="3"/>
<circle cx="758.2" cy="251.3" r="3"/>
<circle cx="757.9" cy="253" r="3"/>
<circle cx="758.5" cy="277.7" r="3"/>
<circle cx="758.1" cy="255.9" r="3"/>
<circle cx="758.8" cy="220.6" r="3"/>
<circle cx="758.6" cy="286" r="3"/>
<circle cx="758.8" cy="272.4" r="3"/>
<circle cx="759" cy="250.5" r="3"/>
<circle cx="759.1" cy="224.3" r="3"/>
<circle cx="759.1" cy="267.9" r="3"/>
<circle cx="759.5" cy="225.2" r="3"/>
<circle cx="759.5" cy="274.8" r="3"/>
<circle cx="759.4" cy="231.4" r="3"/>
<circle cx="759.7" cy="251.8" r="3"/>
<circle cx="760.2" cy="217.2" r="3"/>
<circle cx="760.1" cy="222.2" r="3"/>
<circle cx="760.3" cy="279" r="3"/>
<circle cx="760.2" cy="249" r="3"/>
<circle cx="760.7" cy="204.4" r="3"/>
<circle cx="761.1" cy="284.4" r="3"/>
<circle cx="760.9" cy="271.3" r="3"/>
<circle cx="761.6" cy="203.6" r="3"/>
<circle cx="761.8" cy="201.9" r="3"/>
<circle cx="762" cy="202.5" r="3"/>
<circle cx="762.2" cy="245.3" r="3"/>
<circle cx="762.2" cy="203.9" r="3"/>
<circle cx="762.3" cy="196.1" r="3"/>
<circle cx="762" cy="193" r="3"/>
<circle cx="762.9" cy="234.8" r="3"/>
<circle cx="762.8" cy="263.4" r="3"/>
<circle cx="762.6" cy="262.9" r="3"/>
<circle cx="762.8" cy="276.3" r="3"/>
<circle cx="763.1" cy="237.8" r="3"/>
<circle cx="763.5" cy="228.7" r="3"/>
<circle cx="763.2" cy="273.6" r="3"/>
<circle cx="763.8" cy="162.9" r="3"/>
<circle cx="763.6" cy="260.6" r="3"/>
<circle cx="763.7" cy="262" r="3"/>
<circle cx="764.1" cy="173.6" r="3"/>
<circle cx="764.1" cy="176.9" r="3"/>
<circle cx="764.6" cy="185.7" r="3"/>
<circle cx="764.5" cy="182" r="3"/>
<circle cx="764.9" cy="162.8" r="3"/>
<circle cx="764.2" cy="162.9" r="3"/>
<circle cx="764.4" cy="187.7" r="3"/>
<circle cx="765.1" cy="161.9" r="3"/>
<circle cx="764.8" cy="240.8" r="3"/>
<circle cx="764.6" cy="144.2" r="3"/>
<circle cx="765.2" cy="278.6" r="3"/>
<circle cx="764.8" cy="170.6" r="3"/>
<circle cx="765.2" cy="178.2" r="3"/>
<circle cx="765.6" cy="195.9" r="3"/>
<circle cx="765.4" cy="213.6" r="3"/>
<circle cx="765.3" cy="213.3" r="3"/>
<circle cx="765.9" cy="273" r="3"/>
<circle cx="766.3" cy="186.6" r="3"/>
<circle cx="766.2" cy="214.8" r="3"/>
<circle cx="766.5" cy="187.6" r="3"/>
<circle cx="766.2" cy="156.2" r="3"/>
<circle cx="766.8" cy="160.2" r="3"/>
<circle cx="766.7" cy="175.2" r="3"/>
<circle cx="766.7" cy="273.3" r="3"/>
<circle cx="766.4" cy="243" r="3"/>
<circle cx="766.8" cy="254.7" r="3"/>
<circle cx="766.9" cy="146.5" r="3"/>
<circle cx="766.8" cy="246.7" r="3"/>
<circle cx="767.2" cy="272.8" r="3"/>
<circle cx="767.7" cy="146.1" r="3"/>
<circle cx="767.8" cy="196.5" r="3"/>
<circle cx="767.6" cy="260" r="3"/>
<circle cx="768.3" cy="275.1" r="3"/>
<circle cx="768.7" cy="188.4" r="3"/>
<circle cx="768.5" cy="287.6" r="3"/>
<circle cx="768.8" cy="270.4" r="3"/>
<circle cx="768.2" cy="205.4" r="3"/>
<circle cx="768.6" cy="150.1" r="3"/>
<circle cx="768.7" cy="215.6" r="3"/>
<circle cx="769.3" cy="258.1" r="3"/>
<circle cx="769" cy="282" r="3"/>
<circle cx="769.4" cy="179.8" r="3"/>
<circle cx="769.6" cy="204.8" r="3"/>
<circle cx="769.7" cy="173.6" r="3"/>
<circle cx="769.5" cy="132.4" r="3"/>
<circle cx="770" cy="214" r="3"/>
<circle cx="770" cy="193.2" r="3"/>
<circle cx="770.6" cy="248.2" r="3"/>
<circle cx="770.1" cy="201.7" r="3"/>
<circle cx="770.5" cy="137" r="3"/>
<circle cx="771.1" cy="281.4" r="3"/>
<circle cx="771.3" cy="246.2" r="3"/>
<circle cx="771.4" cy="216" r="3"/>
<circle cx="771.2" cy="209.1" r="3"/>
<circle cx="771.3" cy="140.4" r="3"/>
<circle cx="772.1" cy="132.7" r="3"/>
<circle cx="771.8" cy="197.7" r="3"/>
<circle cx="772.1" cy="200.3" r="3"/>
<circle cx="772.6" cy="211.5" r="3"/>
<circle cx="772" cy="147.5" r="3"/>
<circle cx="772.1" cy="142.1" r="3"/>
<circle cx="772.8" cy="287.9" r="3"/>
<circle cx="772.7" cy="264.7" r="3"/>
<circle cx="773" cy="157.4" r="3"/>
<circle cx="773" cy="230.1" r="3"/>
<circle cx="772.7" cy="240.6" r="3"/>
<circle cx="773" cy="229.2" r="3"/>
<circle cx="773.3" cy="224.7" r="3"/>
<circle cx="773.7" cy="246.6" r="3"/>
<circle cx="773.4" cy="191" r="3"/>
<circle cx="773.3" cy="275.3" r="3"/>
<circle cx="773.7" cy="209.2" r="3"/>
<circle cx="773.5" cy="220.7" r="3"/>
<circle cx="773.9" cy="215.4" r="3"/>
<circle cx="774.6" cy="141.8" r="3"/>
<circle cx="774.4" cy="172.5" r="3"/>
<circle cx="775" cy="262.1" r="3"/>
<circle cx="775" cy="228" r="3"/>
<circle cx="775.2" cy="275.9" r="3"/>
<circle cx="774.8" cy="286.3" r="3"/>
<circle cx="775.5" cy="144.9" r="3"/>
<circle cx="775.2" cy="151.2" r="3"/>
<circle cx="775.2" cy="163.3" r="3"/>
<circle cx="774.9" cy="181.7" r="3"/>
<circle cx="775.7" cy="194.6" r="3"/>
<circle cx="775.9" cy="246.9" r="3"/>
<circle cx="775.8" cy="175.6" r="3"/>
<circle cx="775.7" cy="262.4" r="3"/>
<circle cx="776.1" cy="187.1" r="3"/>
<circle cx="776.1" cy="284.7" r="3"/>
<circle cx="775.9" cy="248.3" r="3"/>
<circle cx="776.8" cy="294.9" r="3"/>
<circle cx="777" cy="269.9" r="3"/>
<circle cx="776.3" cy="153.6" r="3"/>
<circle cx="776.5" cy="297.7" r="3"/>
<circle cx="777" cy="270.5" r="3"/>
<circle cx="777.1" cy="156.9" r="3"/>
<circle cx="776.8" cy="211.7" r="3"/>
<circle cx="777" cy="252.7" r="3"/>
<circle cx="777.9" cy="227.5" r="3"/>
<circle cx="777.8" cy="296.3" r="3"/>
<circle cx="777.5" cy="197.1" r="3"/>
<circle cx="777.4" cy="254" r="3"/>
<circle cx="778.1" cy="229.7" r="3"/>
<circle cx="778.4" cy="275.1" r="3"/>
<circle cx="778.4" cy="216.7" r="3"/>
<circle cx="778.2" cy="136.7" r="3"/>
<circle cx="778.6" cy="193.7" r="3"/>
<circle cx="779" cy="188.4" r="3"/>
<circle cx="778.8" cy="267.6" r="3"/>
<circle cx="779.3" cy="201.4" r="3"/>
<circle cx="779.3" cy="156" r="3"/>
<circle cx="779.7" cy="258.5" r="3"/>
<circle cx="779.7" cy="225.6" r="3"/>
<circle cx="779.5" cy="213.4" r="3"/>
<circle cx="780.2" cy="291.3" r="3"/>
<circle cx="779.6" cy="145.7" r="3"/>
<circle cx="780.3" cy="197.1" r="3"/>
<circle cx="780.7" cy="225.4" r="3"/>
<circle cx="780.4" cy="272.8" r="3"/>
<circle cx="780.4" cy="140" r="3"/>
<circle cx="780.9" cy="261.9" r="3"/>
<circle cx="780.9" cy="156.9" r="3"/>
<circle cx="781.4" cy="223.8" r="3"/>
<circle cx="781.7" cy="145.4" r="3"/>
<circle cx="781.1" cy="260.8" r="3"/>
<circle cx="781.8" cy="134.7" r="3"/>
<circle cx="781.6" cy="175.7" r="3"/>
<circle cx="782" cy="169.6" r="3"/>
<circle cx="781.9" cy="264.8" r="3"/>
<circle cx="782" cy="230.2" r="3"/>
<circle cx="782" cy="160.4" r="3"/>
<circle cx="782" cy="156.4" r="3"/>
<circle cx="782.8" cy="187.5" r="3"/>
<circle cx="782.6" cy="212.7" r="3"/>
<circle cx="782.6" cy="289" r="3"/>
<circle cx="783.3" cy="259.4" r="3"/>
<circle cx="783.4" cy="296.7" r="3"/>
<circle cx="783.3" cy="225" r="3"/>
<circle cx="783.8" cy="290.7" r="3"/>
<circle cx="783.2" cy="290.5" r="3"/>
<circle cx="783.4" cy="246.2" r="3"/>
<circle cx="783.9" cy="279.5" r="3"/>
<circle cx="784" cy="181" r="3"/>
<circle cx="784.3" cy="277.9" r="3"/>
<circle cx="784.2" cy="270" r="3"/>
<circle cx="783.9" cy="191.4" r="3"/>
<circle cx="784.3" cy="146.6" r="3"/>
<circle cx="784.1" cy="157.1" r="3"/>
<circle cx="784.3" cy="159.5" r="3"/>
<circle cx="784.9" cy="176.2" r="3"/>
<circle cx="784.8" cy="233.1" r="3"/>
<circle cx="785" cy="291.9" r="3"/>
<circle cx="785.2" cy="276.4" r="3"/>
<circle cx="785.3" cy="188.2" r="3"/>
<circle cx="785.3" cy="285.9" r="3"/>
<circle cx="785.2" cy="299" r="3"/>
<circle cx="785.7" cy="254.4" r="3"/>
<circle cx="785.4" cy="171.3" r="3"/>
<circle cx="785.9" cy="170.4" r="3"/>
<circle cx="786.1" cy="212.3" r="3"/>
<circle cx="786.4" cy="287.8" r="3"/>
<circle cx="786.2" cy="242" r="3"/>
<circle cx="786.3" cy="195.9" r="3"/>
<circle cx="787.1" cy="257.8" r="3"/>
<circle cx="787.3" cy="240.9" r="3"/>
<circle cx="787" cy="294.8" r="3"/>
<circle cx="787.5" cy="256.2" r="3"/>
<circle cx="787.3" cy="166.6" r="3"/>
<circle cx="787.8" cy="280.2" r="3"/>
<circle cx="787.8" cy="231.9" r="3"/>
<circle cx="788" cy="254.3" r="3"/>
<circle cx="788.7" cy="173.9" r="3"/>
<circle cx="788.5" cy="283.8" r="3"/>
<circle cx="788.9" cy="165.3" r="3"/>
<circle cx="788.5" cy="245" r="3"/>
<circle cx="789" cy="164" r="3"/>
<circle cx="789.1" cy="280.6" r="3"/>
<circle cx="789.6" cy="167.6" r="3"/>
<circle cx="789" cy="239" r="3"/>
<circle cx="789.4" cy="189.8" r="3"/>
<circle cx="789.5" cy="204.2" r="3"/>
<circle cx="789.7" cy="152" r="3"/>
<circle cx="789.7" cy="162.6" r="3"/>
<circle cx="790" cy="244.2" r="3"/>
<circle cx="790.2" cy="163.1" r="3"/>
<circle cx="790" cy="233.1" r="3"/>
<circle cx="790.3" cy="197.3" r="3"/>
<circle cx="790.3" cy="165" r="3"/>
<circle cx="790.2" cy="172" r="3"/>
<circle cx="790.8" cy="285.3" r="3"/>
<circle cx="790.8" cy="215.6" r="3"/>
<circle cx="791.1" cy="276.3" r="3"/>
<circle cx="790.6" cy="205.8" r="3"/>
<circle cx="791.3" cy="152.5" r="3"/>
<circle cx="791.1" cy="152" r="3"/>
<circle cx="791.2" cy="196.7" r="3"/>
<circle cx="791.7" cy="288.6" r="3"/>
<circle cx="792" cy="221.9" r="3"/>
<circle cx="791.5" cy="175.5" r="3"/>
<circle cx="792" cy="157.9" r="3"/>
<circle cx="791.8" cy="232.6" r="3"/>
<circle cx="792.2" cy="189.7" r="3"/>
<circle cx="792.6" cy="278" r="3"/>
<circle cx="792.7" cy="177.9" r="3"/>
<circle cx="792.7" cy="227.9" r="3"/>
<circle cx="792.7" cy="173.4" r="3"/>
<circle cx="792.7" cy="263.3" r="3"/>
<circle cx="792.7" cy="260.7" r="3"/>
<circle cx="793.4" cy="203.6" r="3"/>
<circle cx="792.9" cy="235.6" r="3"/>
<circle cx="793.5" cy="186.5" r="3"/>
<circle cx="793.1" cy="180" r="3"/>
<circle cx="793.3" cy="146" r="3"/>
<circle cx="793.8" cy="186.1" r="3"/>
<circle cx="793.5" cy="211.9" r="3"/>
<circle cx="793.8" cy="247.7" r="3"/>
<circle cx="794.2" cy="154.2" r="3"/>
<circle cx="794.4" cy="235.2" r="3"/>
<circle cx="794.8" cy="274.9" r="3"/>
<circle cx="794.2" cy="208.1" r="3"/>
<circle cx="794.3" cy="249.4" r="3"/>
<circle cx="794.9" cy="233.2" r="3"/>
<circle cx="794.7" cy="159.3" r="3"/>
<circle cx="795.2" cy="202.7" r="3"/>
<circle cx="794.7" cy="196.2" r="3"/>
<circle cx="795.2" cy="170" r="3"/>
<circle cx="795.2" cy="288.2" r="3"/>
<circle cx="795.9" cy="245.4" r="3"/>
<circle cx="795.6" cy="155.6" r="3"/>
<circle cx="795.5" cy="166.3" r="3"/>
<circle cx="796.2" cy="198" r="3"/>
<circle cx="796.1" cy="297.2" r="3"/>
<circle cx="796.6" cy="302.8" r="3"/>
<circle cx="796.2" cy="215.1" r="3"/>
<circle cx="796.6" cy="172.9" r="3"/>
<circle cx="796.7" cy="224.8" r="3"/>
<circle cx="797" cy="248" r="3"/>
<circle cx="797.1" cy="266.2" r="3"/>
<circle cx="797" cy="299" r="3"/>
<circle cx="797.8" cy="195" r="3"/>
<circle cx="797.6" cy="277.2" r="3"/>
<circle cx="797.7" cy="201.5" r="3"/>
<circle cx="797.7" cy="194.8" r="3"/>
<circle cx="798.5" cy="247.6" r="3"/>
<circle cx="798.2" cy="237" r="3"/>
<circle cx="798.7" cy="202.2" r="3"/>
<circle cx="798.7" cy="205.6" r="3"/>
<circle cx="799.4" cy="205" r="3"/>
<circle cx="799.5" cy="257.4" r="3"/>
<circle cx="799.6" cy="295" r="3"/>
<circle cx="799.8" cy="238.8" r="3"/>
<circle cx="799.9" cy="205.8" r="3"/>
<circle cx="799.8" cy="205.2" r="3"/>
<circle cx="799.9" cy="244.7" r="3"/>
<circle cx="800.1" cy="278.5" r="3"/>
<circle cx="800.4" cy="226.5" r="3"/>
<circle cx="800.2" cy="210.9" r="3"/>
<circle cx="800" cy="272.3" r="3"/>
<circle cx="800.8" cy="275.1" r="3"/>
<circle cx="801" cy="274.1" r="3"/>
<circle cx="801.2" cy="251.7" r="3"/>
<circle cx="801" cy="221" r="3"/>
<circle cx="801.1" cy="214.1" r="3"/>
<circle cx="801.4" cy="228" r="3"/>
<circle cx="801.7" cy="283.8" r="3"/>
<circle cx="801.6" cy="295.7" r="3"/>
<circle cx="801.9" cy="269.3" r="3"/>
<circle cx="801.6" cy="228.5" r="3"/>
<circle cx="801.6" cy="236.2" r="3"/>
<circle cx="802.4" cy="251.5" r="3"/>
<circle cx="802.4" cy="319" r="3"/>
<circle cx="802.4" cy="318.8" r="3"/>
<circle cx="802.8" cy="214.5" r="3"/>
<circle cx="802.9" cy="245" r="3"/>
<circle cx="803" cy="313.6" r="3"/>
<circle cx="802.8" cy="257.6" r="3"/>
<circle cx="803.2" cy="315.7" r="3"/>
<circle cx="803.6" cy="240.5" r="3"/>
<circle cx="803.3" cy="303.3" r="3"/>
<circle cx="803.5" cy="318.1" r="3"/>
<circle cx="803.8" cy="252" r="3"/>
<circle cx="804.1" cy="317.7" r="3"/>
<circle cx="804.7" cy="263.1" r="3"/>
<circle cx="804.7" cy="222.2" r="3"/>
<circle cx="804.2" cy="279.8" r="3"/>
<circle cx="804.9" cy="296.1" r="3"/>
<circle cx="804.8" cy="313.9" r="3"/>
<circle cx="805.1" cy="322.4" r="3"/>
<circle cx="805.3" cy="273.8" r="3"/>
<circle cx="805.3" cy="263.9" r="3"/>
<circle cx="805.4" cy="322.3" r="3"/>
<circle cx="805.7" cy="297.9" r="3"/>
<circle cx="805.5" cy="247.2" r="3"/>
<circle cx="806.4" cy="236" r="3"/>
<circle cx="806.5" cy="301.8" r="3"/>
<circle cx="806" cy="303.7" r="3"/>
<circle cx="806.6" cy="239.4" r="3"/>
<circle cx="806.9" cy="296.7" r="3"/>
<circle cx="806.5" cy="272.2" r="3"/>
<circle cx="807.2" cy="287.3" r="3"/>
<circle cx="806.7" cy="292.6" r="3"/>
<circle cx="807.2" cy="312.8" r="3"/>
<circle cx="807.2" cy="243.8" r="3"/>
<circle cx="806.9" cy="269.6" r="3"/>
<circle cx="807.2" cy="240.1" r="3"/>
<circle cx="807.7" cy="295.2" r="3"/>
<circle cx="807.6" cy="315.1" r="3"/>
<circle cx="807.8" cy="301.6" r="3"/>
<circle cx="807.3" cy="242.7" r="3"/>
<circle cx="808.2" cy="246.9" r="3"/>
<circle cx="807.8" cy="318.9" r="3"/>
<circle cx="807.8" cy="239.3" r="3"/>
<circle cx="808.2" cy="309.2" r="3"/>
<circle cx="808" cy="247.9" r="3"/>
<circle cx="808.1" cy="300.7" r="3"/>
<circle cx="808.4" cy="306.5" r="3"/>
<circle cx="808.6" cy="245.6" r="3"/>
<circle cx="808.7" cy="276.9" r="3"/>
<circle cx="808.6" cy="278.4" r="3"/>
<circle cx="808.7" cy="320.3" r="3"/>
<circle cx="808.9" cy="266.5" r="3"/>
<circle cx="809.3" cy="259.1" r="3"/>
<circle cx="808.9" cy="318.2" r="3"/>
<circle cx="809" cy="323.5" r="3"/>
<circle cx="809.3" cy="293.2" r="3"/>
<circle cx="809.4" cy="296.7" r="3"/>
<circle cx="810.2" cy="287.7" r="3"/>
<circle cx="810.2" cy="269" r="3"/>
<circle cx="810.2" cy="291.9" r="3"/>
<circle cx="810.4" cy="289" r="3"/>
<circle cx="810.8" cy="249.2" r="3"/>
<circle cx="810.8" cy="273.6" r="3"/>
<circle cx="811.3" cy="248.1" r="3"/>
<circle cx="811.3" cy="259.5" r="3"/>
<circle cx="810.9" cy="273.5" r="3"/>
<circle cx="811.1" cy="302.7" r="3"/>
<circle cx="811.1" cy="272.2" r="3"/>
<circle cx="811.6" cy="326.9" r="3"/>
<circle cx="811.3" cy="271.1" r="3"/>
<circle cx="812.2" cy="276.5" r="3"/>
<circle cx="811.8" cy="322.7" r="3"/>
<circle cx="812.3" cy="247.9" r="3"/>
<circle cx="812" cy="256.4" r="3"/>
<circle cx="812.6" cy="301.2" r="3"/>
<circle cx="812.8" cy="259.4" r="3"/>
<circle cx="812.6" cy="305" r="3"/>
<circle cx="812.5" cy="320.8" r="3"/>
<circle cx="812.8" cy="314.9" r="3"/>
<circle cx="812.8" cy="291.9" r="3"/>
<circle cx="813" cy="286" r="3"/>
<circle cx="813.5" cy="242.4" r="3"/>
<circle cx="813.8" cy="287.3" r="3"/>
<circle cx="813.5" cy="248.5" r="3"/>
<circle cx="814.1" cy="299.7" r="3"/>
<circle cx="813.9" cy="270.7" r="3"/>
<circle cx="814" cy="320.9" r="3"/>
<circle cx="814.2" cy="251.2" r="3"/>
<circle cx="813.9" cy="267" r="3"/>
<circle cx="814.4" cy="322.4" r="3"/>
<circle cx="815.1" cy="321.8" r="3"/>
<circle cx="814.7" cy="308.8" r="3"/>
<circle cx="815.4" cy="271.3" r="3"/>
<circle cx="815.4" cy="313.6" r="3"/>
<circle cx="815.8" cy="263.1" r="3"/>
<circle cx="815.4" cy="272.7" r="3"/>
<circle cx="815.2" cy="308.7" r="3"/>
<circle cx="815.9" cy="317.4" r="3"/>
<circle cx="816" cy="276.2" r="3"/>
<circle cx="816.3" cy="315.4" r="3"/>
<circle cx="816.2" cy="298.9" r="3"/>
<circle cx="816.6" cy="316.2" r="3"/>
<circle cx="816.6" cy="330.5" r="3"/>
<circle cx="817" cy="268.1" r="3"/>
<circle cx="817" cy="260" r="3"/>
<circle cx="817.2" cy="264.5" r="3"/>
<circle cx="817" cy="271.1" r="3"/>
<circle cx="817.4" cy="306.4" r="3"/>
<circle cx="817.8" cy="280.5" r="3"/>
<circle cx="817.7" cy="328.6" r="3"/>
<circle cx="817.9" cy="297.2" r="3"/>
<circle cx="817.7" cy="312.1" r="3"/>
<circle cx="817.9" cy="265" r="3"/>
<circle cx="818.3" cy="281.6" r="3"/>
<circle cx="818.7" cy="287.4" r="3"/>
<circle cx="818.8" cy="298" r="3"/>
<circle cx="818.4" cy="283.7" r="3"/>
<circle cx="818.7" cy="325.3" r="3"/>
<circle cx="819.1" cy="299" r="3"/>
<circle cx="818.8" cy="340" r="3"/>
<circle cx="819.5" cy="274" r="3"/>
<circle cx="819.7" cy="343.3" r="3"/>
<circle cx="819.3" cy="265.6" r="3"/>
<circle cx="819.6" cy="345" r="3"/>
<circle cx="819.5" cy="338.9" r="3"/>
<circle cx="819.9" cy="267" r="3"/>
<circle cx="819.9" cy="277.3" r="3"/>
<circle cx="819.9" cy="265" r="3"/>
<circle cx="820" cy="279.5" r="3"/>
<circle cx="820" cy="296.9" r="3"/>
<circle cx="820.3" cy="290.7" r="3"/>
<circle cx="820.4" cy="301.9" r="3"/>
<circle cx="820.8" cy="313.9" r="3"/>
<circle cx="820.3" cy="282.2" r="3"/>
<circle cx="821.1" cy="285.1" r="3"/>
<circle cx="821" cy="272.7" r="3"/>
<circle cx="821.3" cy="345.8" r="3"/>
<circle cx="821.7" cy="352.6" r="3"/>
<circle cx="821.5" cy="341.4" r="3"/>
<circle cx="822.1" cy="289.8" r="3"/>
<circle cx="822.3" cy="337.6" r="3"/>
<circle cx="821.9" cy="324.5" r="3"/>
<circle cx="822.7" cy="274.4" r="3"/>
<circle cx="822.8" cy="342.3" r="3"/>
<circle cx="822.8" cy="315.9" r="3"/>
<circle cx="822.9" cy="342.1" r="3"/>
<circle cx="823.3" cy="326.4" r="3"/>
<circle cx="823" cy="318.6" r="3"/>
<circle cx="823" cy="312.1" r="3"/>
<circle cx="823.5" cy="274.8" r="3"/>
<circle cx="823.7" cy="272.3" r="3"/>
<circle cx="823.9" cy="273.4" r="3"/>
<circle cx="824.1" cy="265.3" r="3"/>
<circle cx="824.5" cy="342.8" r="3"/>
<circle cx="824.4" cy="314.8" r="3"/>
<circle cx="824.5" cy="326.2" r="3"/>
<circle cx="824.3" cy="327.2" r="3"/>
<circle cx="824.3" cy="291.3" r="3"/>
<circle cx="824.7" cy="318.2" r="3"/>
<circle cx="824.6" cy="330.5" r="3"/>
<circle cx="825.1" cy="331.2" r="3"/>
<circle cx="825.1" cy="281.1" r="3"/>
<circle cx="825.4" cy="283.5" r="3"/>
<circle cx="825.8" cy="273.7" r="3"/>
<circle cx="825.8" cy="308.5" r="3"/>
<circle cx="825.4" cy="265.7" r="3"/>
<circle cx="825.6" cy="258.4" r="3"/>
<circle cx="825.8" cy="290.4" r="3"/>
<circle cx="826.1" cy="307.5" r="3"/>
<circle cx="826.6" cy="274" r="3"/>
<circle cx="827" cy="306.9" r="3"/>
<circle cx="826.7" cy="254.2" r="3"/>
<circle cx="827.2" cy="296" r="3"/>
<circle cx="827.4" cy="272.4" r="3"/>
<circle cx="827.3" cy="317.9" r="3"/>
<circle cx="828" cy="334.4" r="3"/>
<circle cx="828.2" cy="284.9" r="3"/>
<circle cx="827.9" cy="336.4" r="3"/>
<circle cx="827.9" cy="282.3" r="3"/>
<circle cx="828.4" cy="295.8" r="3"/>
<circle cx="828.9" cy="285.2" r="3"/>
<circle cx="829" cy="345.7" r="3"/>
<circle cx="828.6" cy="273.5" r="3"/>
<circle cx="828.9" cy="330.6" r="3"/>
<circle cx="829.6" cy="321.4" r="3"/>
<circle cx="829.2" cy="291.4" r="3"/>
<circle cx="829.3" cy="260.6" r="3"/>
<circle cx="830" cy="289.7" r="3"/>
<circle cx="829.5" cy="292.9" r="3"/>
<circle cx="830.2" cy="284.1" r="3"/>
<circle cx="830" cy="277.6" r="3"/>
<circle cx="830.1" cy="324.2" r="3"/>
<circle cx="830" cy="295.2" r="3"/>
<circle cx="830.6" cy="242" r="3"/>
<circle cx="830.9" cy="277.4" r="3"/>
<circle cx="831" cy="254" r="3"/>
<circle cx="830.8" cy="276.9" r="3"/>
<circle cx="831" cy="277.3" r="3"/>
<circle cx="830.8" cy="242.6" r="3"/>
<circle cx="831.2" cy="287.4" r="3"/>
<circle cx="831.1" cy="256.6" r="3"/>
<circle cx="831.7" cy="341.4" r="3"/>
<circle cx="831.8" cy="266.1" r="3"/>
<circle cx="831.5" cy="287.6" r="3"/>
<circle cx="831.9" cy="310.4" r="3"/>
<circle cx="832.2" cy="280.1" r="3"/>
<circle cx="832.1" cy="254.7" r="3"/>
<circle cx="831.8" cy="237.3" r="3"/>
<circle cx="832" cy="306" r="3"/>
<circle cx="832.6" cy="235" r="3"/>
<circle cx="832.2" cy="335.6" r="3"/>
<circle cx="832.6" cy="277.5" r="3"/>
<circle cx="832.9" cy="309.5" r="3"/>
<circle cx="832.6" cy="246.4" r="3"/>
<circle cx="833.4" cy="274.1" r="3"/>
<circle cx="833.6" cy="292.4" r="3"/>
<circle cx="833.4" cy="332.7" r="3"/>
<circle cx="833.7" cy="306.8" r="3"/>
<circle cx="833.8" cy="288.5" r="3"/>
<circle cx="833.8" cy="282.2" r="3"/>
<circle cx="833.9" cy="295.7" r="3"/>
<circle cx="834.5" cy="345.6" r="3"/>
<circle cx="834.5" cy="257.6" r="3"/>
<circle cx="834.3" cy="263.4" r="3"/>
<circle cx="834.5" cy="232.8" r="3"/>
<circle cx="835.1" cy="334.2" r="3"/>
<circle cx="834.6" cy="342.4" r="3"/>
<circle cx="835" cy="341.7" r="3"/>
<circle cx="835.5" cy="336.7" r="3"/>
<circle cx="835" cy="337.1" r="3"/>
<circle cx="835.9" cy="294.3" r="3"/>
<circle cx="835.9" cy="237.3" r="3"/>
<circle cx="835.5" cy="267.4" r="3"/>
<circle cx="836.1" cy="243.4" r="3"/>
<circle cx="835.7" cy="317.6" r="3"/>
<circle cx="836.1" cy="323.5" r="3"/>
<circle cx="836" cy="296" r="3"/>
<circle cx="836.2" cy="295.9" r="3"/>
<circle cx="836.5" cy="306.3" r="3"/>
<circle cx="836.6" cy="250.3" r="3"/>
<circle cx="836.6" cy="245" r="3"/>
<circle cx="837.2" cy="267.1" r="3"/>
<circle cx="837.3" cy="277.3" r="3"/>
<circle cx="837.1" cy="342" r="3"/>
<circle cx="837.8" cy="332.9" r="3"/>
<circle cx="838" cy="325.7" r="3"/>
<circle cx="837.4" cy="299.2" r="3"/>
<circle cx="838.1" cy="242.4" r="3"/>
<circle cx="837.7" cy="299.1" r="3"/>
<circle cx="838" cy="278.4" r="3"/>
<circle cx="838.2" cy="263.1" r="3"/>
<circle cx="838.4" cy="319.7" r="3"/>
<circle cx="838.4" cy="259.4" r="3"/>
<circle cx="838.8" cy="306.3" r="3"/>
<circle cx="839.5" cy="237.6" r="3"/>
<circle cx="838.8" cy="297" r="3"/>
<circle cx="839.1" cy="324.2" r="3"/>
<circle cx="839.5" cy="247.5" r="3"/>
<circle cx="839.8" cy="340.2" r="3"/>
<circle cx="839.8" cy="308.9" r="3"/>
<circle cx="840.1" cy="275.9" r="3"/>
<circle cx="840.8" cy="241.2" r="3"/>
<circle cx="840.2" cy="335" r="3"/>
<circle cx="840.9" cy="259.8" r="3"/>
<circle cx="840.8" cy="275" r="3"/>
<circle cx="840.9" cy="226.3" r="3"/>
<circle cx="841.2" cy="333.8" r="3"/>
<circle cx="841.4" cy="251.3" r="3"/>
<circle cx="841.5" cy="295" r="3"/>
<circle cx="841.8" cy="242.7" r="3"/>
<circle cx="842" cy="311.3" r="3"/>
<circle cx="842.2" cy="342.3" r="3"/>
<circle cx="841.8" cy="333" r="3"/>
<circle cx="842.6" cy="328.1" r="3"/>
<circle cx="841.9" cy="302.9" r="3"/>
<circle cx="842" cy="282.2" r="3"/>
<circle cx="842.5" cy="256.2" r="3"/>
<circle cx="843" cy="301.7" r="3"/>
<circle cx="842.6" cy="326.9" r="3"/>
<circle cx="843" cy="246.2" r="3"/>
<circle cx="843.2" cy="221.8" r="3"/>
<circle cx="843.2" cy="226.3" r="3"/>
<circle cx="843.6" cy="277.9" r="3"/>
<circle cx="843.1" cy="266.8" r="3"/>
<circle cx="843.5" cy="333.4" r="3"/>
<circle cx="843.4" cy="247" r="3"/>
<circle cx="844.2" cy="290.7" r="3"/>
<circle cx="843.7" cy="236.9" r="3"/>
<circle cx="844.1" cy="250.5" r="3"/>
<circle cx="844.1" cy="311.1" r="3"/>
<circle cx="844.7" cy="299.1" r="3"/>
<circle cx="844.5" cy="341.3" r="3"/>
<circle cx="844.4" cy="286.3" r="3"/>
<circle cx="845.1" cy="264.2" r="3"/>
<circle cx="844.8" cy="332.2" r="3"/>
<circle cx="845.1" cy="262.7" r="3"/>
<circle cx="845.5" cy="277.7" r="3"/>
<circle cx="845.3" cy="267.5" r="3"/>
<circle cx="845.2" cy="339.9" r="3"/>
<circle cx="845.3" cy="320.5" r="3"/>
<circle cx="845.5" cy="238.9" r="3"/>
<circle cx="845.5" cy="265.4" r="3"/>
<circle cx="845.8" cy="247.2" r="3"/>
<circle cx="846.2" cy="290.4" r="3"/>
<circle cx="846.6" cy="262.4" r="3"/>
<circle cx="846.1" cy="343.9" r="3"/>
<circle cx="847" cy="330.8" r="3"/>
<circle cx="847" cy="277.4" r="3"/>
<circle cx="846.5" cy="333.4" r="3"/>
<circle cx="847" cy="326.1" r="3"/>
<circle cx="847.3" cy="249.5" r="3"/>
<circle cx="847.5" cy="257" r="3"/>
<circle cx="847.3" cy="314.9" r="3"/>
<circle cx="847.3" cy="298.2" r="3"/>
<circle cx="847.5" cy="300.9" r="3"/>
<circle cx="848" cy="320.1" r="3"/>
<circle cx="847.7" cy="252.6" r="3"/>
<circle cx="848.1" cy="280.3" r="3"/>
<circle cx="848.3" cy="273.4" r="3"/>
<circle cx="848.7" cy="245.6" r="3"/>
<circle cx="848.4" cy="340.6" r="3"/>
<circle cx="848.6" cy="309.8" r="3"/>
<circle cx="849.1" cy="309.9" r="3"/>
<circle cx="849.1" cy="254.3" r="3"/>
<circle cx="849.4" cy="281.5" r="3"/>
<circle cx="849.1" cy="248.2" r="3"/>
<circle cx="850" cy="263.8" r="3"/>
<circle cx="849.6" cy="241.5" r="3"/>
<circle cx="849.9" cy="226" r="3"/>
<circle cx="850.3" cy="294" r="3"/>
<circle cx="850.5" cy="282.4" r="3"/>
<circle cx="850.5" cy="307.7" r="3"/>
<circle cx="850.3" cy="231.6" r="3"/>
<circle cx="850.9" cy="271.8" r="3"/>
<circle cx="851.2" cy="313.7" r="3"/>
<circle cx="851.4" cy="331.3" r="3"/>
<circle cx="851.3" cy="320.7" r="3"/>
<circle cx="852" cy="290.1" r="3"/>
<circle cx="851.5" cy="241.3" r="3"/>
<circle cx="851.9" cy="297.5" r="3"/>
<circle cx="851.8" cy="275.4" r="3"/>
<circle cx="851.8" cy="288.8" r="3"/>
<circle cx="851.8" cy="276.1" r="3"/>
<circle cx="852.2" cy="279.2" r="3"/>
<circle cx="852.6" cy="257.5" r="3"/>
<circle cx="852.9" cy="284" r="3"/>
<circle cx="852.5" cy="264.7" r="3"/>
<circle cx="853" cy="281.4" r="3"/>
<circle cx="853" cy="253.2" r="3"/>
<circle cx="853.3" cy="279.2" r="3"/>
<circle cx="853" cy="250.6" r="3"/>
<circle cx="853.3" cy="278.1" r="3"/>
<circle cx="853.8" cy="263.4" r="3"/>
<circle cx="853.3" cy="266.9" r="3"/>
<circle cx="853.7" cy="301.7" r="3"/>
<circle cx="853.9" cy="243.8" r="3"/>
<circle cx="853.9" cy="321.3" r="3"/>
<circle cx="854" cy="274" r="3"/>
<circle cx="854.3" cy="264.8" r="3"/>
<circle cx="854.3" cy="294.6" r="3"/>
<circle cx="854.7" cy="269.8" r="3"/>
<circle cx="854.4" cy="298.2" r="3"/>
<circle cx="854.9" cy="323.4" r="3"/>
<circle cx="854.5" cy="315.4" r="3"/>
<circle cx="854.7" cy="344.2" r="3"/>
<circle cx="854.8" cy="252.9" r="3"/>
<circle cx="854.8" cy="265.4" r="3"/>
<circle cx="855.3" cy="278.7" r="3"/>
<circle cx="855.5" cy="268" r="3"/>
<circle cx="855.7" cy="321.7" r="3"/>
<circle cx="855.7" cy="273.5" r="3"/>
<circle cx="855.7" cy="303" r="3"/>
<circle cx="856.2" cy="276" r="3"/>
<circle cx="856.6" cy="315.3" r="3"/>
<circle cx="856.2" cy="334.9" r="3"/>
<circle cx="856.4" cy="268.9" r="3"/>
<circle cx="856.4" cy="289.4" r="3"/>
<circle cx="856.8" cy="286.9" r="3"/>
<circle cx="857.3" cy="294.4" r="3"/>
<circle cx="857.4" cy="321.1" r="3"/>
<circle cx="857.4" cy="323.4" r="3"/>
<circle cx="857.8" cy="314.8" r="3"/>
<circle cx="858.2" cy="319" r="3"/>
<circle cx="858.2" cy="264" r="3"/>
<circle cx="858" cy="339.3" r="3"/>
<circle cx="858.1" cy="314" r="3"/>
<circle cx="858.4" cy="314.3" r="3"/>
<circle cx="859" cy="283.6" r="3"/>
<circle cx="858.4" cy="321.5" r="3"/>
<circle cx="858.7" cy="309.7" r="3"/>
<circle cx="859.3" cy="343.6" r="3"/>
<circle cx="859.2" cy="294" r="3"/>
<circle cx="859.8" cy="334.6" r="3"/>
<circle cx="860.1" cy="345.8" r="3"/>
<circle cx="859.6" cy="318.6" r="3"/>
<circle cx="860.2" cy="274.6" r="3"/>
<circle cx="860.4" cy="307.2" r="3"/>
<circle cx="860.1" cy="292.8" r="3"/>
<circle cx="860.5" cy="332.9" r="3"/>
<circle cx="860.3" cy="303.9" r="3"/>
<circle cx="860.2" cy="296.4" r="3"/>
<circle cx="860.7" cy="313.1" r="3"/>
<circle cx="860.4" cy="335" r="3"/>
<circle cx="860.7" cy="278" r="3"/>
<circle cx="860.9" cy="317.4" r="3"/>
<circle cx="861" cy="286.5" r="3"/>
<circle cx="861.5" cy="292.4" r="3"/>
<circle cx="861.3" cy="295.1" r="3"/>
<circle cx="861.7" cy="279.7" r="3"/>
<circle cx="861.5" cy="307.2" r="3"/>
<circle cx="861.5" cy="286.4" r="3"/>
<circle cx="861.6" cy="324.3" r="3"/>
<circle cx="862.1" cy="289.4" r="3"/>
<circle cx="862.1" cy="323.3" r="3"/>
<circle cx="862.2" cy="305.9" r="3"/>
<circle cx="862.4" cy="289.1" r="3"/>
<circle cx="862.4" cy="334.6" r="3"/>
<circle cx="862.7" cy="294.2" r="3"/>
<circle cx="862.6" cy="301.8" r="3"/>
<circle cx="862.8" cy="288.1" r="3"/>
<circle cx="863.2" cy="342" r="3"/>
<circle cx="862.6" cy="286.2" r="3"/>
<circle cx="862.9" cy="326.3" r="3"/>
<circle cx="863.7" cy="345" r="3"/>
<circle cx="863.5" cy="306" r="3"/>
<circle cx="863.5" cy="324.2" r="3"/>
<circle cx="863.9" cy="320.5" r="3"/>
<circle cx="863.7" cy="294.2" r="3"/>
<circle cx="864.6" cy="305.8" r="3"/>
<circle cx="864.1" cy="329.4" r="3"/>
<circle cx="864.4" cy="315.1" r="3"/>
<circle cx="864.8" cy="341.8" r="3"/>
<circle cx="864.7" cy="298.9" r="3"/>
<circle cx="864.6" cy="314.4" r="3"/>
<circle cx="865" cy="322.5" r="3"/>
<circle cx="865.2" cy="323" r="3"/>
<circle cx="865.4" cy="326.5" r="3"/>
<circle cx="865.3" cy="324.8" r="3"/>
<circle cx="865.7" cy="312.4" r="3"/>
<circle cx="865.2" cy="342.9" r="3"/>
<circle cx="866.1" cy="320.9" r="3"/>
<circle cx="865.5" cy="340.3" r="3"/>
<circle cx="866.2" cy="307.4" r="3"/>
<circle cx="866.1" cy="343" r="3"/>
<circle cx="866.1" cy="315.8" r="3"/>
<circle cx="866.2" cy="317.2" r="3"/>
<circle cx="866.4" cy="305.7" r="3"/>
<circle cx="866.7" cy="333.6" r="3"/>
<circle cx="866.6" cy="320.3" r="3"/>
<circle cx="867.1" cy="320.4" r="3"/>
<circle cx="867" cy="322.9" r="3"/>
<circle cx="866.7" cy="319.1" r="3"/>
<circle cx="867.1" cy="338.2" r="3"/>
<circle cx="867.8" cy="318.5" r="3"/>
<circle cx="868.1" cy="302.9" r="3"/>
<circle cx="867.4" cy="314" r="3"/>
<circle cx="868.2" cy="312.2" r="3"/>
<circle cx="867.8" cy="340" r="3"/>
<circle cx="868.5" cy="303.3" r="3"/>
<circle cx="867.9" cy="317.3" r="3"/>
<circle cx="868.5" cy="318.3" r="3"/>
<circle cx="868.6" cy="319.1" r="3"/>
<circle cx="868.7" cy="332.4" r="3"/>
<circle cx="868.7" cy="300" r="3"/>
<circle cx="869.3" cy="332.9" r="3"/>
<circle cx="869.2" cy="324.7" r="3"/>
<circle cx="868.9" cy="295.5" r="3"/>
<circle cx="869.1" cy="312.3" r="3"/>
<circle cx="869.6" cy="297" r="3"/>
<circle cx="870" cy="299.3" r="3"/>
<circle cx="869.7" cy="328.5" r="3"/>
<circle cx="870" cy="295.8" r="3"/>
<circle cx="870.4" cy="330.6" r="3"/>
<circle cx="870.7" cy="297" r="3"/>
<circle cx="870.6" cy="297.9" r="3"/>
<circle cx="870.7" cy="320.5" r="3"/>
<circle cx="870.7" cy="320" r="3"/>
<circle cx="871.1" cy="298.3" r="3"/>
<circle cx="870.9" cy="319.5" r="3"/>
<circle cx="871.3" cy="326" r="3"/>
<circle cx="871.1" cy="302.4" r="3"/>
<circle cx="871.8" cy="301" r="3"/>
<circle cx="871.8" cy="304.6" r="3"/>
<circle cx="871.6" cy="293.6" r="3"/>
<circle cx="871.9" cy="307.2" r="3"/>
<circle cx="872.1" cy="321.4" r="3"/>
<circle cx="872.2" cy="331.5" r="3"/>
<circle cx="871.8" cy="299.7" r="3"/>
<circle cx="872.4" cy="297.5" r="3"/>
<circle cx="872" cy="293.5" r="3"/>
<circle cx="872.3" cy="286.7" r="3"/>
<circle cx="872.7" cy="304" r="3"/>
<circle cx="872.6" cy="313.4" r="3"/>
<circle cx="873" cy="286.6" r="3"/>
<circle cx="873.2" cy="311.2" r="3"/>
<circle cx="872.7" cy="303.7" r="3"/>
<circle cx="873.3" cy="303" r="3"/>
<circle cx="873.4" cy="278.5" r="3"/>
<circle cx="873.7" cy="304.3" r="3"/>
<circle cx="873.3" cy="311.7" r="3"/>
<circle cx="873.9" cy="298.2" r="3"/>
<circle cx="873.8" cy="321.5" r="3"/>
<circle cx="874.5" cy="308.1" r="3"/>
<circle cx="874.4" cy="321.9" r="3"/>
<circle cx="874.7" cy="302.3" r="3"/>
<circle cx="874.4" cy="276.8" r="3"/>
<circle cx="874.9" cy="279.7" r="3"/>
<circle cx="874.3" cy="261.9" r="3"/>
<circle cx="874.7" cy="305.4" r="3"/>
<circle cx="874.8" cy="262.5" r="3"/>
<circle cx="875" cy="308.6" r="3"/>
<circle cx="875.2" cy="290.5" r="3"/>
<circle cx="875.1" cy="263.2" r="3"/>
<circle cx="875.4" cy="304.6" r="3"/>
<circle cx="875.3" cy="281.7" r="3"/>
<circle cx="875.5" cy="298.6" r="3"/>
<circle cx="875.5" cy="258.3" r="3"/>
<circle cx="876" cy="296" r="3"/>
<circle cx="876.4" cy="272.6" r="3"/>
<circle cx="876.6" cy="276.1" r="3"/>
<circle cx="876.3" cy="257" r="3"/>
<circle cx="876.9" cy="236.3" r="3"/>
<circle cx="876.7" cy="302.7" r="3"/>
<circle cx="876.4" cy="307.5" r="3"/>
<circle cx="876.6" cy="307.6" r="3"/>
<circle cx="876.6" cy="291.7" r="3"/>
<circle cx="876.7" cy="298.2" r="3"/>
<circle cx="876.9" cy="226.7" r="3"/>
<circle cx="877.6" cy="273.6" r="3"/>
<circle cx="877.5" cy="229.2" r="3"/>
<circle cx="877.9" cy="292.9" r="3"/>
<circle cx="877.8" cy="292" r="3"/>
<circle cx="877.9" cy="255.1" r="3"/>
<circle cx="877.9" cy="223.5" r="3"/>
<circle cx="878" cy="224.4" r="3"/>
<circle cx="878.2" cy="307.8" r="3"/>
<circle cx="878.8" cy="247.4" r="3"/>
<circle cx="878.8" cy="264.8" r="3"/>
<circle cx="878.8" cy="198.1" r="3"/>
<circle cx="879.3" cy="239.9" r="3"/>
<circle cx="879.3" cy="259.4" r="3"/>
<circle cx="879.3" cy="255.6" r="3"/>
<circle cx="879.1" cy="201.9" r="3"/>
<circle cx="879.2" cy="227.5" r="3"/>
<circle cx="879.2" cy="182.5" r="3"/>
<circle cx="879.5" cy="174.4" r="3"/>
<circle cx="880" cy="212.1" r="3"/>
<circle cx="880.2" cy="240.9" r="3"/>
<circle cx="880.2" cy="193.1" r="3"/>
<circle cx="880.5" cy="182.9" r="3"/>
<circle cx="880.4" cy="186.8" r="3"/>
<circle cx="881.3" cy="211.3" r="3"/>
<circle cx="880.6" cy="246.8" r="3"/>
<circle cx="881.1" cy="185" r="3"/>
<circle cx="881.7" cy="300.4" r="3"/>
<circle cx="881.7" cy="298.3" r="3"/>
<circle cx="881.9" cy="197.8" r="3"/>
<circle cx="882.3" cy="303.9" r="3"/>
<circle cx="882.4" cy="168.9" r="3"/>
<circle cx="882.8" cy="294" r="3"/>
<circle cx="882.1" cy="283.2" r="3"/>
<circle cx="882.9" cy="247.1" r="3"/>
<circle cx="882.7" cy="177.1" r="3"/>
<circle cx="883.1" cy="302.4" r="3"/>
<circle cx="883.4" cy="242.4" r="3"/>
<circle cx="883.5" cy="205" r="3"/>
<circle cx="883.5" cy="207.2" r="3"/>
<circle cx="883.6" cy="242" r="3"/>
<circle cx="883.9" cy="213.4" r="3"/>
<circle cx="883.8" cy="202.2" r="3"/>
<circle cx="883.7" cy="197.6" r="3"/>
<circle cx="884.1" cy="221.8" r="3"/>
<circle cx="884.2" cy="240.5" r="3"/>
<circle cx="884.3" cy="180.5" r="3"/>
<circle cx="884.6" cy="271.9" r="3"/>
<circle cx="885" cy="289" r="3"/>
<circle cx="884.9" cy="283.9" r="3"/>
<circle cx="884.8" cy="208.3" r="3"/>
<circle cx="884.5" cy="226.8" r="3"/>
<circle cx="885.4" cy="262.4" r="3"/>
<circle cx="884.8" cy="189" r="3"/>
<circle cx="885.3" cy="281.4" r="3"/>
<circle cx="885.4" cy="214.3" r="3"/>
<circle cx="885.6" cy="249.2" r="3"/>
<circle cx="885.6" cy="277.8" r="3"/>
<circle cx="886.1" cy="231.2" r="3"/>
<circle cx="885.8" cy="295.7" r="3"/>
<circle cx="885.7" cy="289.3" r="3"/>
<circle cx="885.8" cy="222.4" r="3"/>
<circle cx="886.3" cy="275.4" r="3"/>
<circle cx="886.4" cy="248.1" r="3"/>
<circle cx="886.6" cy="261.2" r="3"/>
<circle cx="886.6" cy="236.2" r="3"/>
<circle cx="886.8" cy="254.2" r="3"/>
<circle cx="886.3" cy="264.3" r="3"/>
<circle cx="887" cy="256.1" r="3"/>
<circle cx="886.5" cy="298" r="3"/>
<circle cx="886.7" cy="259.5" r="3"/>
<circle cx="886.7" cy="230.4" r="3"/>
<circle cx="887" cy="254.1" r="3"/>
<circle cx="887.4" cy="215.2" r="3"/>
<circle cx="887.6" cy="234.3" r="3"/>
<circle cx="887.4" cy="177.8" r="3"/>
<circle cx="887.5" cy="283.8" r="3"/>
<circle cx="887.7" cy="223" r="3"/>
<circle cx="888" cy="178.4" r="3"/>
<circle cx="888.1" cy="212.1" r="3"/>
<circle cx="889" cy="195.2" r="3"/>
<circle cx="888.7" cy="182.9" r="3"/>
<circle cx="889.1" cy="274.2" r="3"/>
<circle cx="889" cy="188.7" r="3"/>
<circle cx="889.6" cy="230.3" r="3"/>
<circle cx="889.2" cy="226.4" r="3"/>
<circle cx="890" cy="303.6" r="3"/>
<circle cx="890.3" cy="263.7" r="3"/>
<circle cx="890.2" cy="239.6" r="3"/>
<circle cx="890.5" cy="172.4" r="3"/>
<circle cx="890.7" cy="177.4" r="3"/>
<circle cx="890.8" cy="204.6" r="3"/>
<circle cx="890.4" cy="189" r="3"/>
<circle cx="891.2" cy="302.9" r="3"/>
<circle cx="890.4" cy="186.1" r="3"/>
<circle cx="891.2" cy="284.1" r="3"/>
<circle cx="891" cy="290.2" r="3"/>
<circle cx="891.2" cy="291.9" r="3"/>
<circle cx="891.3" cy="290.6" r="3"/>
<circle cx="891.5" cy="196.7" r="3"/>
<circle cx="891.9" cy="229.7" r="3"/>
<circle cx="891.9" cy="252" r="3"/>
<circle cx="891.8" cy="232.1" r="3"/>
<circle cx="891.6" cy="226.6" r="3"/>
<circle cx="892.1" cy="269.2" r="3"/>
<circle cx="891.8" cy="244.3" r="3"/>
<circle cx="892.3" cy="310.1" r="3"/>
<circle cx="892.1" cy="279" r="3"/>
<circle cx="893" cy="229.3" r="3"/>
<circle cx="892.5" cy="247.1" r="3"/>
<circle cx="893.2" cy="269.5" r="3"/>
<circle cx="892.4" cy="263.8" r="3"/>
<circle cx="892.9" cy="291" r="3"/>
<circle cx="893.2" cy="301.8" r="3"/>
<circle cx="893.6" cy="323.6" r="3"/>
<circle cx="893.7" cy="313.1" r="3"/>
<circle cx="893.9" cy="301.9" r="3"/>
<circle cx="893.7" cy="318.3" r="3"/>
<circle cx="894.2" cy="322.9" r="3"/>
<circle cx="894.4" cy="340.8" r="3"/>
<circle cx="894" cy="273.7" r="3"/>
<circle cx="894.1" cy="307.9" r="3"/>
<circle cx="894.2" cy="301.8" r="3"/>
<circle cx="894.2" cy="297.9" r="3"/>
<circle cx="894.7" cy="341.1" r="3"/>
<circle cx="894.4" cy="323.3" r="3"/>
<circle cx="895.1" cy="320" r="3"/>
<circle cx="894.8" cy="345.2" r="3"/>
<circle cx="895.1" cy="348.7" r="3"/>
<circle cx="895.6" cy="297.6" r="3"/>
<circle cx="895.7" cy="340.7" r="3"/>
<circle cx="895.8" cy="302" r="3"/>
<circle cx="895.5" cy="328.6" r="3"/>
<circle cx="896.2" cy="343.5" r="3"/>
<circle cx="895.8" cy="347.2" r="3"/>
<circle cx="896.4" cy="308.4" r="3"/>
<circle cx="896.4" cy="350.9" r="3"/>
<circle cx="896.3" cy="338.6" r="3"/>
<circle cx="896.9" cy="333.7" r="3"/>
<circle cx="897.2" cy="304.4" r="3"/>
<circle cx="897.3" cy="299.6" r="3"/>
<circle cx="897.3" cy="321.7" r="3"/>
<circle cx="897.4" cy="303.6" r="3"/>
<circle cx="897.3" cy="342.3" r="3"/>
<circle cx="898.2" cy="317.3" r="3"/>
<circle cx="897.8" cy="344.4" r="3"/>
<circle cx="898" cy="302.1" r="3"/>
<circle cx="898.3" cy="308.3" r="3"/>
<circle cx="898" cy="327" r="3"/>
<circle cx="898.1" cy="306.9" r="3"/>
<circle cx="898.4" cy="306.8" r="3"/>
<circle cx="898.5" cy="329.7" r="3"/>
<circle cx="898.4" cy="328" r="3"/>
<circle cx="898.9" cy="322.5" r="3"/>
<circle cx="899.3" cy="338" r="3"/>
<circle cx="899.3" cy="357.1" r="3"/>
<circle cx="898.8" cy="318.2" r="3"/>
<circle cx="899.3" cy="306.3" r="3"/>
<circle cx="899.6" cy="306.3" r="3"/>
<circle cx="899.5" cy="350" r="3"/>
<circle cx="899.3" cy="321.2" r="3"/>
<circle cx="900" cy="317" r="3"/>
<circle cx="900.1" cy="313.5" r="3"/>
<circle cx="900" cy="314.8" r="3"/>
<circle cx="900.3" cy="314.4" r="3"/>
<circle cx="900.4" cy="346.5" r="3"/>
<circle cx="900.7" cy="355" r="3"/>
<circle cx="900.9" cy="339.8" r="3"/>
<circle cx="900.7" cy="325.9" r="3"/>
<circle cx="900.4" cy="343.9" r="3"/>
<circle cx="901" cy="330.9" r="3"/>
<circle cx="900.9" cy="345.5" r="3"/>
<circle cx="901.4" cy="311.9" r="3"/>
<circle cx="901.7" cy="343.7" r="3"/>
<circle cx="901.7" cy="347.4" r="3"/>
<circle cx="901.5" cy="311.8" r="3"/>
<circle cx="901.6" cy="326.8" r="3"/>
<circle cx="901.5" cy="352.4" r="3"/>
<circle cx="901.6" cy="308.4" r="3"/>
<circle cx="901.7" cy="318.7" r="3"/>
<circle cx="901.8" cy="310.4" r="3"/>
<circle cx="902.5" cy="315.6" r="3"/>
<circle cx="902.4" cy="302.6" r="3"/>
<circle cx="902.3" cy="342.2" r="3"/>
<circle cx="902.2" cy="350.2" r="3"/>
<circle cx="902.8" cy="347.7" r="3"/>
<circle cx="902.7" cy="340.2" r="3"/>
<circle cx="903.2" cy="347.6" r="3"/>
<circle cx="902.9" cy="348.6" r="3"/>
<circle cx="903.5" cy="306.9" r="3"/>
<circle cx="903.4" cy="318" r="3"/>
<circle cx="903.6" cy="305.2" r="3"/>
<circle cx="903.5" cy="315.7" r="3"/>
<circle cx="903.7" cy="310.7" r="3"/>
<circle cx="904.6" cy="332.8" r="3"/>
<circle cx="904.3" cy="332.2" r="3"/>
<circle cx="904.9" cy="335.2" r="3"/>
<circle cx="905.1" cy="304.6" r="3"/>
<circle cx="905.2" cy="315.6" r="3"/>
<circle cx="905.1" cy="314.9" r="3"/>
<circle cx="905.5" cy="343.9" r="3"/>
<circle cx="905.1" cy="327.8" r="3"/>
<circle cx="905.9" cy="343.2" r="3"/>
<circle cx="905.9" cy="299.4" r="3"/>
<circle cx="905.9" cy="314.5" r="3"/>
<circle cx="906.2" cy="341.3" r="3"/>
<circle cx="906.3" cy="319.8" r="3"/>
<circle cx="906.3" cy="305.2" r="3"/>
<circle cx="906.5" cy="329.3" r="3"/>
<circle cx="906.8" cy="339.6" r="3"/>
<circle cx="906.8" cy="296" r="3"/>
<circle cx="906.9" cy="326.1" r="3"/>
<circle cx="907.1" cy="311.3" r="3"/>
<circle cx="906.7" cy="321.3" r="3"/>
<circle cx="906.9" cy="326.8" r="3"/>
<circle cx="907.4" cy="339.2" r="3"/>
<circle cx="906.9" cy="300.8" r="3"/>
<circle cx="907.5" cy="316.9" r="3"/>
<circle cx="907.4" cy="310.5" r="3"/>
<circle cx="907.6" cy="312.9" r="3"/>
<circle cx="907.5" cy="324.3" r="3"/>
<circle cx="907.7" cy="326.5" r="3"/>
<circle cx="908.3" cy="319.5" r="3"/>
<circle cx="907.6" cy="339.8" r="3"/>
<circle cx="908.3" cy="314.4" r="3"/>
<circle cx="908.2" cy="299.1" r="3"/>
<circle cx="908.8" cy="307.1" r="3"/>
<circle cx="908.4" cy="301.7" r="3"/>
<circle cx="908.4" cy="302.5" r="3"/>
<circle cx="908.4" cy="305.5" r="3"/>
<circle cx="908.8" cy="302.2" r="3"/>
<circle cx="909" cy="309" r="3"/>
<circle cx="909" cy="308.7" r="3"/>
<circle cx="909.2" cy="311" r="3"/>
<circle cx="909.5" cy="338" r="3"/>
<circle cx="909" cy="329.5" r="3"/>
<circle cx="909.8" cy="315.7" r="3"/>
<circle cx="909.8" cy="306.2" r="3"/>
<circle cx="910.1" cy="284.1" r="3"/>
<circle cx="909.6" cy="332.6" r="3"/>
<circle cx="910.1" cy="292.1" r="3"/>
<circle cx="910.5" cy="301.2" r="3"/>
<circle cx="910.5" cy="289.7" r="3"/>
<circle cx="910" cy="320" r="3"/>
<circle cx="910.6" cy="291.3" r="3"/>
<circle cx="910.8" cy="319.5" r="3"/>
<circle cx="911.4" cy="294.5" r="3"/>
<circle cx="911.1" cy="286.9" r="3"/>
<circle cx="911.4" cy="331.5" r="3"/>
<circle cx="911.7" cy="283.7" r="3"/>
<circle cx="911.2" cy="317.2" r="3"/>
<circle cx="911.8" cy="322.8" r="3"/>
<circle cx="911.7" cy="310" r="3"/>
<circle cx="912.6" cy="316.1" r="3"/>
<circle cx="912.6" cy="284.1" r="3"/>
<circle cx="912.1" cy="315.4" r="3"/>
<circle cx="912.6" cy="329.9" r="3"/>
<circle cx="913.2" cy="281.5" r="3"/>
<circle cx="912.9" cy="304.6" r="3"/>
<circle cx="913" cy="328.4" r="3"/>
<circle cx="913.5" cy="320" r="3"/>
<circle cx="913.6" cy="321.3" r="3"/>
<circle cx="913.5" cy="293.5" r="3"/>
<circle cx="913.8" cy="305.2" r="3"/>
<circle cx="914" cy="297.2" r="3"/>
<circle cx="914.1" cy="284.9" r="3"/>
<circle cx="914.3" cy="294.5" r="3"/>
<circle cx="914.5" cy="279.2" r="3"/>
<circle cx="914.4" cy="321.2" r="3"/>
<circle cx="914.7" cy="303.5" r="3"/>
<circle cx="914.8" cy="326.8" r="3"/>
<circle cx="914.6" cy="301.2" r="3"/>
<circle cx="914.6" cy="280.5" r="3"/>
<circle cx="915" cy="293.9" r="3"/>
<circle cx="914.7" cy="310.2" r="3"/>
<circle cx="915.5" cy="327" r="3"/>
<circle cx="915.5" cy="291.2" r="3"/>
<circle cx="915.6" cy="305" r="3"/>
<circle cx="915.3" cy="302.9" r="3"/>
<circle cx="915.6" cy="306.6" r="3"/>
<circle cx="915.4" cy="290.5" r="3"/>
<circle cx="915.6" cy="323.6" r="3"/>
<circle cx="916.4" cy="302.7" r="3"/>
<circle cx="916.5" cy="304.4" r="3"/>
<circle cx="916.1" cy="295" r="3"/>
<circle cx="916.1" cy="313.9" r="3"/>
<circle cx="916.3" cy="321.4" r="3"/>
<circle cx="916.8" cy="290.9" r="3"/>
<circle cx="917.1" cy="285.1" r="3"/>
<circle cx="916.7" cy="320.3" r="3"/>
<circle cx="917.2" cy="304" r="3"/>
<circle cx="917.4" cy="279.7" r="3"/>
<circle cx="917.1" cy="314.4" r="3"/>
<circle cx="917.4" cy="281.1" r="3"/>
<circle cx="917.6" cy="288.1" r="3"/>
<circle cx="917.7" cy="305.5" r="3"/>
<circle cx="917.5" cy="285.1" r="3"/>
<circle cx="917.8" cy="276.6" r="3"/>
<circle cx="918.4" cy="279" r="3"/>
<circle cx="918.4" cy="317.8" r="3"/>
<circle cx="918.7" cy="296.2" r="3"/>
<circle cx="918.9" cy="278.1" r="3"/>
<circle cx="918.8" cy="300.7" r="3"/>
<circle cx="918.7" cy="311.3" r="3"/>
<circle cx="919.4" cy="299.8" r="3"/>
<circle cx="919.6" cy="280.1" r="3"/>
<circle cx="919.5" cy="275" r="3"/>
<circle cx="919" cy="293.3" r="3"/>
<circle cx="919.5" cy="266.8" r="3"/>
<circle cx="919.8" cy="263" r="3"/>
<circle cx="919.7" cy="291.7" r="3"/>
<circle cx="920" cy="315.4" r="3"/>
<circle cx="920" cy="274.8" r="3"/>
<circle cx="920.3" cy="311.8" r="3"/>
<circle cx="920.8" cy="259.5" r="3"/>
<circle cx="920.7" cy="305.2" r="3"/>
<circle cx="920.7" cy="309.9" r="3"/>
<circle cx="920.4" cy="296.7" r="3"/>
<circle cx="921.2" cy="301.9" r="3"/>
<circle cx="920.9" cy="302.6" r="3"/>
<circle cx="921.5" cy="306.7" r="3"/>
<circle cx="921.2" cy="311.7" r="3"/>
<circle cx="921.7" cy="249.3" r="3"/>
<circle cx="921.6" cy="257.8" r="3"/>
<circle cx="921.4" cy="289.2" r="3"/>
<circle cx="921.9" cy="302.8" r="3"/>
<circle cx="922.1" cy="272.7" r="3"/>
<circle cx="922" cy="308" r="3"/>
<circle cx="922.4" cy="246.1" r="3"/>
<circle cx="921.9" cy="262.2" r="3"/>
<circle cx="922.8" cy="282" r="3"/>
<circle cx="923.1" cy="262.1" r="3"/>
<circle cx="922.4" cy="286.8" r="3"/>
<circle cx="923.1" cy="249.8" r="3"/>
<circle cx="922.9" cy="286.1" r="3"/>
<circle cx="923" cy="272.4" r="3"/>
<circle cx="922.9" cy="272.8" r="3"/>
<circle cx="923.5" cy="302.1" r="3"/>
<circle cx="923.5" cy="296.7" r="3"/>
<circle cx="923.4" cy="310.1" r="3"/>
<circle cx="923.4" cy="238.7" r="3"/>
<circle cx="924" cy="262.6" r="3"/>
<circle cx="923.8" cy="270.7" r="3"/>
<circle cx="924.4" cy="267.4" r="3"/>
<circle cx="924.5" cy="262.6" r="3"/>
<circle cx="924.8" cy="246.9" r="3"/>
<circle cx="924.4" cy="257.9" r="3"/>
<circle cx="924.7" cy="301.8" r="3"/>
<circle cx="925" cy="283.3" r="3"/>
<circle cx="925.4" cy="248.3" r="3"/>
<circle cx="925.5" cy="299.3" r="3"/>
<circle cx="925.1" cy="254.1" r="3"/>
<circle cx="925.9" cy="278.6" r="3"/>
<circle cx="925.6" cy="239" r="3"/>
<circle cx="926" cy="264.3" r="3"/>
<circle cx="926" cy="233.3" r="3"/>
<circle cx="926.3" cy="257.8" r="3"/>
<circle cx="926.1" cy="263.5" r="3"/>
<circle cx="926.1" cy="226.6" r="3"/>
<circle cx="926.3" cy="237.2" r="3"/>
<circle cx="927" cy="289.5" r="3"/>
<circle cx="926.8" cy="291.4" r="3"/>
<circle cx="926.7" cy="300.3" r="3"/>
<circle cx="927.5" cy="303.2" r="3"/>
<circle cx="926.9" cy="247.6" r="3"/>
<circle cx="927.7" cy="226.3" r="3"/>
<circle cx="927.6" cy="284.8" r="3"/>
<circle cx="927.9" cy="256" r="3"/>
<circle cx="927.6" cy="277.2" r="3"/>
<circle cx="927.9" cy="282.8" r="3"/>
<circle cx="928" cy="285" r="3"/>
<circle cx="928.3" cy="271.9" r="3"/>
<circle cx="927.9" cy="268.7" r="3"/>
<circle cx="928.6" cy="294.5" r="3"/>
<circle cx="928.7" cy="227.9" r="3"/>
<circle cx="928.4" cy="223.3" r="3"/>
<circle cx="928.5" cy="231.3" r="3"/>
<circle cx="929.2" cy="289.8" r="3"/>
<circle cx="929.5" cy="232.6" r="3"/>
<circle cx="929.2" cy="280.8" r="3"/>
<circle cx="929.7" cy="255.9" r="3"/>
<circle cx="929.7" cy="241.3" r="3"/>
<circle cx="929.4" cy="257.9" r="3"/>
<circle cx="929.4" cy="303.7" r="3"/>
<circle cx="930.1" cy="231.6" r="3"/>
<circle cx="929.7" cy="278.6" r="3"/>
<circle cx="930.5" cy="255.7" r="3"/>
<circle cx="929.9" cy="229.4" r="3"/>
<circle cx="930.8" cy="225.4" r="3"/>
<circle cx="930" cy="296.8" r="3"/>
<circle cx="930.3" cy="241.5" r="3"/>
<circle cx="930.5" cy="235.5" r="3"/>
<circle cx="930.8" cy="285.3" r="3"/>
<circle cx="931.1" cy="304.6" r="3"/>
<circle cx="931.5" cy="285.3" r="3"/>
<circle cx="931.8" cy="225.4" r="3"/>
<circle cx="932.1" cy="243.5" r="3"/>
<circle cx="931.6" cy="281.5" r="3"/>
<circle cx="931.6" cy="271.7" r="3"/>
<circle cx="932.5" cy="241.9" r="3"/>
<circle cx="932.2" cy="223.2" r="3"/>
<circle cx="932.1" cy="269.9" r="3"/>
<circle cx="932.7" cy="230.6" r="3"/>
<circle cx="932.3" cy="252.9" r="3"/>
<circle cx="932.7" cy="223.8" r="3"/>
<circle cx="932.6" cy="291.9" r="3"/>
<circle cx="933.2" cy="294.2" r="3"/>
<circle cx="933" cy="256.8" r="3"/>
<circle cx="933.4" cy="272.1" r="3"/>
<circle cx="933.2" cy="293.6" r="3"/>
<circle cx="933.4" cy="248.9" r="3"/>
<circle cx="933.1" cy="229.4" r="3"/>
<circle cx="933.9" cy="225.8" r="3"/>
<circle cx="933.7" cy="278.6" r="3"/>
<circle cx="933.5" cy="296.7" r="3"/>
<circle cx="933.9" cy="237.6" r="3"/>
<circle cx="933.9" cy="225.6" r="3"/>
<circle cx="934.4" cy="273.9" r="3"/>
<circle cx="934.7" cy="239.6" r="3"/>
<circle cx="934.4" cy="299.1" r="3"/>
<circle cx="935.1" cy="237.3" r="3"/>
<circle cx="934.8" cy="243.9" r="3"/>
<circle cx="935" cy="232.3" r="3"/>
<circle cx="935.1" cy="293.4" r="3"/>
<circle cx="936" cy="296.2" r="3"/>
<circle cx="935.6" cy="295" r="3"/>
<circle cx="935.8" cy="231.1" r="3"/>
<circle cx="936.4" cy="255.4" r="3"/>
<circle cx="936.5" cy="297" r="3"/>
<circle cx="936.1" cy="298.4" r="3"/>
<circle cx="936.3" cy="256.7" r="3"/>
<circle cx="936.7" cy="272.4" r="3"/>
<circle cx="936.8" cy="235.8" r="3"/>
<circle cx="936.8" cy="272.3" r="3"/>
<circle cx="937.4" cy="251.9" r="3"/>
<circle cx="937.9" cy="276.9" r="3"/>
<circle cx="937.5" cy="290.6" r="3"/>
<circle cx="937.7" cy="226" r="3"/>
<circle cx="938" cy="233.8" r="3"/>
<circle cx="937.8" cy="241.5" r="3"/>
<circle cx="937.9" cy="291.7" r="3"/>
<circle cx="937.9" cy="214.9" r="3"/>
<circle cx="938.2" cy="262" r="3"/>
<circle cx="938.2" cy="270.6" r="3"/>
<circle cx="938.7" cy="252.6" r="3"/>
<circle cx="938.4" cy="287.1" r="3"/>
<circle cx="938.9" cy="302.5" r="3"/>
<circle cx="938.6" cy="217" r="3"/>
<circle cx="938.8" cy="290.4" r="3"/>
<circle cx="938.6" cy="261.5" r="3"/>
<circle cx="939.3" cy="266.6" r="3"/>
<circle cx="939.2" cy="272.6" r="3"/>
<circle cx="939.6" cy="239.8" r="3"/>
<circle cx="939.2" cy="295.5" r="3"/>
<circle cx="939.5" cy="254.3" r="3"/>
<circle cx="939.6" cy="304.2" r="3"/>
<circle cx="939.4" cy="269.3" r="3"/>
<circle cx="939.6" cy="297.5" r="3"/>
<circle cx="939.5" cy="256.8" r="3"/>
<circle cx="939.8" cy="250.4" r="3"/>
<circle cx="940.2" cy="230.6" r="3"/>
<circle cx="940" cy="280.4" r="3"/>
<circle cx="939.7" cy="227.6" r="3"/>
<circle cx="940.4" cy="267.1" r="3"/>
<circle cx="940.1" cy="295.3" r="3"/>
<circle cx="940.8" cy="296.8" r="3"/>
<circle cx="940.7" cy="234.4" r="3"/>
<circle cx="940.7" cy="287" r="3"/>
<circle cx="941.2" cy="289.7" r="3"/>
<circle cx="940.8" cy="267.4" r="3"/>
<circle cx="940.9" cy="226.9" r="3"/>
<circle cx="941.2" cy="246.9" r="3"/>
<circle cx="941.4" cy="244.2" r="3"/>
<circle cx="942" cy="230.1" r="3"/>
<circle cx="942" cy="229.3" r="3"/>
<circle cx="942.1" cy="263.3" r="3"/>
<circle cx="942.2" cy="224.4" r="3"/>
<circle cx="707.2" cy="136.2" r="3"/>
<circle cx="706.1" cy="161" r="3"/>
<circle cx="706.5" cy="163.1" r="3"/>
<circle cx="723.4" cy="170.8" r="3"/>
<circle cx="720.5" cy="168.4" r="3"/>
<circle cx="722.3" cy="171.3" r="3"/>
<circle cx="746.1" cy="162.2" r="3"/>
<circle cx="746.4" cy="188.7" r="3"/>
<circle cx="735.8" cy="178.9" r="3"/>
<circle cx="744.2" cy="183.4" r="3"/>
<circle cx="730.1" cy="184.5" r="3"/>
<circle cx="732.9" cy="181" r="3"/>
<circle cx="766.9" cy="114" r="3"/>
<circle cx="766.5" cy="94.6" r="3"/>
<circle cx="769.4" cy="101.2" r="3"/>
<circle cx="763.6" cy="117.3" r="3"/>
<circle cx="779.2" cy="109.5" r="3"/>
<circle cx="776.4" cy="108.4" r="3"/>
<circle cx="789.2" cy="108.5" r="3"/>
<circle cx="786.6" cy="89.9" r="3"/>
<circle cx="795.5" cy="112.2" r="3"/>
<circle cx="792" cy="107.2" r="3"/>
<circle cx="794.6" cy="121.3" r="3"/>
<circle cx="793.7" cy="119.9" r="3"/>
<circle cx="795.1" cy="123.1" r="3"/>
<circle cx="813.6" cy="212.6" r="3"/>
<circle cx="804.2" cy="216.5" r="3"/>
<circle cx="805.8" cy="206.3" r="3"/>
<circle cx="838.3" cy="217.7" r="3"/>
<circle cx="838.1" cy="217.8" r="3"/>
<circle cx="884" cy="157.1" r="3"/>
<circle cx="882.2" cy="149.9" r="3"/>
<circle cx="882.7" cy="146" r="3"/>
<circle cx="886.9" cy="147.7" r="3"/>
<circle cx="931.1" cy="196.8" r="3"/>
<circle cx="936.6" cy="195.3" r="3"/>
<circle cx="935.7" cy="199" r="3"/>
<circle cx="922.6" cy="202.9" r="3"/>
<circle cx="702.5" cy="194.7" r="3"/>
<circle cx="691" cy="193.8" r="3"/>
<circle cx="630.7" cy="226" r="3"/>
<circle cx="616" cy="221.2" r="3"/>
<circle cx="615.9" cy="219.9" r="3"/>
<circle cx="630.8" cy="173.8" r="3"/>
<circle cx="635.7" cy="204.5" r="3"/>
<circle cx="615" cy="227.7" r="3"/>
<circle cx="623.3" cy="228.5" r="3"/>
<circle cx="631.6" cy="222.7" r="3"/>
<circle cx="633.2" cy="234.3" r="3"/>
<circle cx="707.1" cy="89.6" r="3"/>
<circle cx="719.6" cy="112.8" r="3"/>
<circle cx="740" cy="117.8" r="3"/>
<circle cx="774.3" cy="93.2" r="3"/>
<circle cx="770.7" cy="109.3" r="3"/>
<circle cx="788.3" cy="90.8" r="3"/>
<circle cx="792.4" cy="124" r="3"/>
<circle cx="775" cy="93.2" r="3"/>
<circle cx="839.7" cy="192" r="3"/>
<circle cx="839.7" cy="208.6" r="3"/>
<circle cx="834.8" cy="214.4" r="3"/>
<circle cx="851.4" cy="222" r="3"/>
<circle cx="805.7" cy="204.5" r="3"/>
<circle cx="878" cy="205" r="3"/>
<circle cx="886" cy="143" r="3"/>
<circle cx="889" cy="139" r="3"/>
<circle cx="706.5" cy="134.7" r="3"/>
<circle cx="707" cy="140" r="3"/>
<circle cx="719.6" cy="153" r="3"/>
<circle cx="739.5" cy="163" r="3"/>
<circle cx="704" cy="160" r="3"/>
<circle cx="733" cy="170" r="3"/>
<circle cx="786" cy="170" r="3"/>
<circle cx="878" cy="216" r="3"/>
<circle cx="900" cy="213" r="3"/>
<circle cx="940" cy="199" r="3"/>
<circle cx="935" cy="205" r="3"/>
<circle cx="931" cy="197" r="3"/>
<polyline points="614.5,314.9 615,337.9 615.6,301.5 616.1,346.9 616.7,305.3 617.2,339 617.8,297.5 618.3,318.6 618.9,296.3 619.4,348.6 620,288.6 620.5,347 621.1,319.5 621.6,347.2 622.2,287.4 622.7,321.3 623.3,311.1 623.8,328 624.4,309.1 624.9,326 625.5,291.7 626,331.4 626.6,292.3 627.1,324 627.7,295.2 628.2,363.2 628.8,303.8 629.3,349.8 629.9,326.2 630.4,360.1 631,332.9 631.5,371.5 632.1,299.7 632.6,374.2 633.2,303 633.7,367.4 634.3,342.2 634.8,352.8 635.4,319.1 635.9,388.3 636.5,322.5 637,368.4 637.6,332.2 638.1,392.4 638.7,311 639.2,378.8 639.8,326.3 640.3,350.2 640.9,353 641.4,369 642,322.2 642.5,369.5 643.1,324.2 643.6,393.5 644.2,333.1 644.7,381.2 645.3,320.1 645.8,394.8 646.4,326.2 646.9,376.9 647.5,347 648,396.3 648.6,322.1 649.1,396.2 649.7,327.1 650.2,391.4 650.8,327.7 651.3,396.4 651.9,347.1 652.4,382.4 653,333.3 653.5,391.1 654.1,340.3 654.6,393.5 655.2,347.5 655.7,395 656.3,336.2 656.8,398.5 657.4,338.8 657.9,376.3 658.5,352.9 659,387.5 659.6,347.1 660.1,390.7 660.7,355.6 661.2,397.2 661.8,347.3 662.3,398.8 662.9,352.7 663.4,385.2 664,359.4 664.5,398.6 665.1,355.5 665.6,398.9 666.2,359.8 666.7,372.4 667.3,357.7 667.8,391.3 668.4,362.2 668.9,397.6 669.5,360.4 670,394.6 670.6,358.2 671.1,394.8 671.7,366.5 672.2,396.7 672.8,370.1 673.3,380.4 673.9,366.5 674.4,386 675,380.7 675.5,383.7 676.1,370.5 676.6,379.3 677.2,364.3 677.7,398.9 678.3,361.2 678.8,376.6 679.4,362 679.9,398 680.5,361.3 681,398.4 681.6,361.1 682.1,392.3 682.7,366.4 683.2,386.2 683.8,377.8 684.3,396.2 684.9,363.2 685.4,395.8 686,366.7 686.5,395.7 687.1,379.6 687.6,392.4 688.2,357.4 688.7,362.3 689.3,331.8 689.8,348.9 690.4,293.6 690.9,335.8 691.5,292.7 692,314.8 692.6,301.6 693.1,335.9 693.7,278.1 694.2,331.9 694.8,276.9 695.3,330.7 695.9,296.4 696.4,303 697,265.7 697.5,329.3 698.1,263.7 698.6,328.4 699.2,259 699.7,329.9 700.3,290.8 700.8,324.5 701.4,269.1 701.9,293.7 702.5,292.5 703,304.1 703.6,255.8 704.1,319.5 704.7,245.2 705.2,325.1 705.8,291.8 706.3,329.9 706.9,290 707.4,328.3 708,268.3 708.5,323.8 709.1,285.8 709.6,323.1 710.2,250.9 710.7,328.8 711.3,245.9 711.8,329 712.4,257.6 712.9,310.4 713.5,228.9 714,329.6 714.6,276.5 715.1,311.1 715.7,229.8 716.2,330.3 716.8,233.5 717.3,278.4 717.9,232.8 718.4,287.3 719,271.5 719.5,331 720.1,246.2 720.6,329.7 721.2,233 721.7,288.5 722.3,247.5 722.8,331.7 723.4,235.6 723.9,326.7 724.5,269.4 725,298 725.6,244.1 726.1,327.6 726.7,246.9 727.2,329 727.8,245.4 728.3,321.8 728.9,243.9 729.4,306.6 730,245.2 730.5,283.6 731.1,258.8 731.6,327.7 732.2,258.1 732.7,339.9 733.3,251.4 733.8,342.5 734.4,254.8 734.9,343.6 735.5,266.8 736,318.5 736.6,255.3 737.1,314.6 737.7,260.3 738.2,293.1 738.8,266.2 739.3,338 739.9,256.8 740.4,310.6 741,260.7 741.5,329.5 742.1,257.8 742.6,320.5 743.2,258.7 743.7,340.8 744.3,258.8 744.8,337.1 745.4,281.5 745.9,334.8 746.5,259.8 747,292.8 747.6,280.1 748.1,312.4 748.7,282.1 749.2,337 749.8,301.2 750.3,307.2 750.9,281.3 751.4,329.7 752,272.1 752.5,296.1 753.1,268.8 753.6,294.7 754.2,284.5 754.7,326.7 755.3,267.6 755.8,313.7 756.4,290.4 756.9,323.3 757.5,265.4 758,326 758.6,279.5 759.1,300.3 759.7,273.9 760.2,320.4 760.8,273.8 761.3,308.6 761.9,266.8 762.4,334.4 763,256.6 763.5,332 764.1,277.3 764.6,319.7 765.2,296 765.7,290.5 766.3,251.8 766.8,302 767.4,268.4 767.9,303.9 768.5,274 769,330.3 769.6,282.5 770.1,299.3 770.7,235.1 771.2,288.3 771.8,262 772.3,351.7 772.9,229.8 773.4,345.5 774,271.4 774.5,343.3 775.1,301.3 775.6,353.3 776.2,257.3 776.7,336.7 777.3,250.4 777.8,332.2 778.4,232.2 778.9,349.5 779.5,229.7 780,344.5 780.6,245.9 781.1,352.1 781.7,290.5 782.2,325.8 782.8,230 783.3,344.3 783.9,230.9 784.4,319.6 785,239 785.5,334.7 786.1,238.2 786.6,341.7 787.2,279.1 787.7,340 788.3,235.4 788.8,319.4 789.4,288.4 789.9,339.9 790.5,254.4 791,311.2 791.6,266.9 792.1,307.5 792.7,261.9 793.2,290.8 793.8,266.3 794.3,336.9 794.9,275.2 795.4,339.4 796,258.2 796.5,340.1 797.1,253.7 797.6,324.2 798.2,293.6 798.7,341.4 799.3,262.1 799.8,325.2 800.4,283.2 800.9,333.6 801.5,286.5 802,350.9 802.6,279.7 803.1,310.4 803.7,279.6 804.2,316.3 804.8,280.8 805.3,356 805.9,284 806.4,349.4 807,311.8 807.5,336.1 808.1,313.8 808.6,346.1 809.2,323.7 809.7,331.2 810.3,291.4 810.8,363.9 811.4,290.2 811.9,362.2 812.5,292.5 813,355.9 813.6,295.2 814.1,354.8 814.7,294.8 815.2,368.6 815.8,300.2 816.3,344.8 816.9,315.1 817.4,336.6 818,323.6 818.5,338.2 819.1,313 819.6,379.1 820.2,308.3 820.7,343.1 821.3,331.1 821.8,373.7 822.4,336.1 822.9,356 823.5,307.1 824,378.7 824.6,304.3 825.1,369.3 825.7,301.8 826.2,351.5 826.8,304.6 827.3,345.4 827.9,314.4 828.4,361.7 829,326.6 829.5,354 830.1,289.8 830.6,353.2 831.2,287.5 831.7,354 832.3,306 832.8,353.9 833.4,314.9 833.9,318.7 834.5,288.5 835,331.3 835.6,296 836.1,338 836.7,275.4 837.2,314.9 837.8,296.1 838.3,343.8 838.9,318.6 839.4,327.6 840,278.2 840.5,350.9 841.1,312.1 841.6,331.9 842.2,285.3 842.7,354.1 843.3,289.5 843.8,354.7 844.4,294.4 844.9,358.8 845.5,285.9 846,361.8 846.6,309.1 847.1,353.3 847.7,287.9 848.2,359.9 848.8,290 849.3,363.4 849.9,314.2 850.4,364.6 851,317.7 851.5,359.5 852.1,312.2 852.6,326.4 853.2,304 853.7,329.7 854.3,295.9 854.8,355.5 855.4,319.5 855.9,377.6 856.5,323.4 857,372.2 857.6,314.7 858.1,362.7 858.7,331.6 859.2,381.6 859.8,314.3 860.3,343.8 860.9,323.7 861.4,376.5 862,315.2 862.5,382.2 863.1,313.3 863.6,387.5 864.2,359.1 864.7,388.4 865.3,341.4 865.8,389.2 866.4,334.8 866.9,389.9 867.5,346.6 868,355.3 868.6,355.7 869.1,372.8 869.7,332.3 870.2,372.3 870.8,328 871.3,377.2 871.9,335.6 872.4,371.8 873,302.9 873.5,365.1 874.1,305.4 874.6,358.7 875.2,301 875.7,343.6 876.3,298.9 876.8,323.2 877.4,306.3 877.9,327.8 878.5,259.1 879,313.6 879.6,261.8 880.1,334.4 880.7,249.8 881.2,323.5 881.8,268.1 882.3,282.4 882.9,244.8 883.4,278.3 884,270.6 884.5,321.3 885.1,250.1 885.6,286.2 886.2,245 886.7,281 887.3,246.9 887.8,297.2 888.4,261.2 888.9,303.9 889.5,289.5 890,326.3 890.6,292 891.1,336.3 891.7,277.7 892.2,328.8 892.8,282.1 893.3,359.4 893.9,288 894.4,360.5 895,325 895.5,362.7 896.1,292 896.6,385.1 897.2,307.7 897.7,373.7 898.3,296.4 898.8,391.9 899.4,298.1 899.9,392 900.5,302.3 901,369 901.6,320.5 902.1,393.4 902.7,308.1 903.2,381.7 903.8,325.6 904.3,384 904.9,313.7 905.4,390.5 906,310.2 906.5,367.2 907.1,342.6 907.6,365 908.2,324.4 908.7,362 909.3,315.7 909.8,360.4 910.4,316.9 910.9,371.5 911.5,326.6 912,378.1 912.6,337.9 913.1,361.6 913.7,332.9 914.2,370 914.8,323.8 915.3,379.5 915.9,322.6 916.4,374.1 917,323.1 917.5,376.8 918.1,320.9 918.6,376.7 919.2,317.7 919.7,367.9 920.3,345.4 920.8,359.9 921.4,332.9 921.9,373.8 922.5,320.7 923,338.9 923.6,338.3 924.1,371.5 924.7,308.7 925.2,366.4 925.8,300.5 926.3,364.6 926.9,294.9 927.4,361.8 928,290.8 928.5,318 929.1,314.9 929.6,328.9 930.2,311 930.7,352.8 931.3,288.3 931.8,352.2 932.4,279.1 932.9,355 933.5,297.7 934,349.1 934.6,276.5 935.1,343.7 935.7,280.3 936.2,353.6 936.8,321 937.3,337.3 937.9,275.9 938.4,354.3 939,307.7 939.5,308 940.1,276 940.6,342.3 941.2,279.2 941.7,354" fill="none" stroke="#5599d2" stroke-width="2.6" stroke-linejoin="round" stroke-linecap="round"/>
<polyline points="612,182 614.2,177.9 618.3,164.6 622.5,148 624.9,139.7 629.9,126.4 634.1,116.5 637.4,96.6 642.4,83.3 645.7,83.3 649.8,91.6 654,96.6 659,94.1 663.1,90.8 666.4,96.6 671.4,104.9 676.4,112.3 681.4,124.8 686.4,134.7 691.3,151.3 694.7,166.3 698,186.2 701.3,211.1 703,230 705.5,240 709.6,248.3 713.8,249.9 716.2,259.9 721.2,271.5 726.2,281.5 728.7,296.4 731.2,318 733.7,332.9 737.8,344.5 741.1,356.2 744.5,374.4 747.8,386 751.9,389.4 756.1,386 759.4,377.7 761.9,359.5 764.4,339.6 767.7,319.6 771.9,299.7 776.1,280 779.1,269.8 785.9,261 789.8,266.9 794.7,261 798.6,252.3 802.5,238.6 808.4,222 812.3,211.3 817.1,193.7 821.1,191.7 825,184.9 828.9,180 833.1,170.4 838.1,175.4 843.1,169.6 848,160.5 853,159.6 858,163 863,167.9 868,179.6 872.9,189.5 875.4,194.5 879.6,197.8 882.9,206.1 885.4,214.4 889.5,202.8 892.9,201.1 897,191.2 901.2,188.7 906.1,187.9 907.8,184.5 912.8,176.2 916.1,176.2 919.4,166.3 923.6,154.7 926.9,148 930.2,156.3 933.5,154.7 936.8,143 939.3,131.4 942.7,124.8 945,120" fill="none" stroke="#9e181d" stroke-width="4.6" stroke-linejoin="round" stroke-linecap="round"/>
</g>
<rect x="614.5" y="71.5" width="327.5" height="327.5" fill="none" stroke="#000" stroke-width="1.6"/>
<line x1="614.5" y1="399" x2="614.5" y2="407.3" stroke="#333" stroke-width="1.3"/>
<line x1="614.5" y1="71.5" x2="614.5" y2="63" stroke="#333" stroke-width="1.3"/>
<line x1="661.3" y1="399" x2="661.3" y2="407.3" stroke="#333" stroke-width="1.3"/>
<line x1="661.3" y1="71.5" x2="661.3" y2="63" stroke="#333" stroke-width="1.3"/>
<line x1="708.1" y1="399" x2="708.1" y2="407.3" stroke="#333" stroke-width="1.3"/>
<line x1="708.1" y1="71.5" x2="708.1" y2="63" stroke="#333" stroke-width="1.3"/>
<line x1="754.9" y1="399" x2="754.9" y2="407.3" stroke="#333" stroke-width="1.3"/>
<line x1="754.9" y1="71.5" x2="754.9" y2="63" stroke="#333" stroke-width="1.3"/>
<line x1="801.6" y1="399" x2="801.6" y2="407.3" stroke="#333" stroke-width="1.3"/>
<line x1="801.6" y1="71.5" x2="801.6" y2="63" stroke="#333" stroke-width="1.3"/>
<line x1="848.4" y1="399" x2="848.4" y2="407.3" stroke="#333" stroke-width="1.3"/>
<line x1="848.4" y1="71.5" x2="848.4" y2="63" stroke="#333" stroke-width="1.3"/>
<line x1="895.2" y1="399" x2="895.2" y2="407.3" stroke="#333" stroke-width="1.3"/>
<line x1="895.2" y1="71.5" x2="895.2" y2="63" stroke="#333" stroke-width="1.3"/>
<line x1="942" y1="399" x2="942" y2="407.3" stroke="#333" stroke-width="1.3"/>
<line x1="942" y1="71.5" x2="942" y2="63" stroke="#333" stroke-width="1.3"/>
<text x="778.2" y="49.9" font-size="25.1" text-anchor="middle">Winds (mph) &amp; Pressure (mb)</text>
<text x="614.7" y="429.5" font-size="14.8" text-anchor="middle" letter-spacing="0.4">07/23</text>
<text x="661.5" y="429.5" font-size="14.8" text-anchor="middle" letter-spacing="0.4">08/23</text>
<text x="708.3" y="429.5" font-size="14.8" text-anchor="middle" letter-spacing="0.4">09/23</text>
<text x="755.1" y="429.5" font-size="14.8" text-anchor="middle" letter-spacing="0.4">10/23</text>
<text x="801.8" y="429.5" font-size="14.8" text-anchor="middle" letter-spacing="0.4">11/23</text>
<text x="848.6" y="429.5" font-size="14.8" text-anchor="middle" letter-spacing="0.4">12/23</text>
<text x="895.4" y="429.5" font-size="14.8" text-anchor="middle" letter-spacing="0.4">13/23</text>
<text x="942.2" y="429.5" font-size="14.8" text-anchor="middle" letter-spacing="0.4">14/23</text>
<text x="778.4" y="457.7" font-size="20.9" text-anchor="middle" letter-spacing="0.18">Time (Day/UTC)</text>
<text x="562.6" y="234" font-size="21.2" text-anchor="middle" transform="rotate(-90 562.6 234)">Sonic Wind &amp; Gust (Blue, Black)</text>
<text x="1013.3" y="235.2" font-size="21.2" text-anchor="middle" transform="rotate(-90 1013.3 235.2)">Station Pressure (Maroon)</text>
<line x1="94" y1="860" x2="430" y2="860" stroke="#000" stroke-width="1.25"/>
<text x="84.2" y="865.4" font-size="14.8" text-anchor="end">0</text>
<line x1="94" y1="794.5" x2="430" y2="794.5" stroke="#000" stroke-width="1.25"/>
<text x="84.2" y="799.9" font-size="14.8" text-anchor="end">20</text>
<line x1="94" y1="729" x2="430" y2="729" stroke="#000" stroke-width="1.25"/>
<text x="84.2" y="734.4" font-size="14.8" text-anchor="end">40</text>
<line x1="94" y1="663.5" x2="430" y2="663.5" stroke="#000" stroke-width="1.25"/>
<text x="84.2" y="668.9" font-size="14.8" text-anchor="end">60</text>
<line x1="94" y1="598" x2="430" y2="598" stroke="#000" stroke-width="1.25"/>
<text x="84.2" y="603.4" font-size="14.8" text-anchor="end">80</text>
<line x1="94" y1="532.5" x2="430" y2="532.5" stroke="#000" stroke-width="1.25"/>
<text x="84.2" y="537.9" font-size="14.8" text-anchor="end">100</text>
<line x1="98" y1="827.2" x2="102.5" y2="827.2" stroke="#555" stroke-width="1"/>
<line x1="98" y1="761.8" x2="102.5" y2="761.8" stroke="#555" stroke-width="1"/>
<line x1="98" y1="696.2" x2="102.5" y2="696.2" stroke="#555" stroke-width="1"/>
<line x1="98" y1="630.8" x2="102.5" y2="630.8" stroke="#555" stroke-width="1"/>
<line x1="98" y1="565.2" x2="102.5" y2="565.2" stroke="#555" stroke-width="1"/>
<line x1="430" y1="860" x2="438.6" y2="860" stroke="#111" stroke-width="1.2"/>
<text x="448.6" y="865.4" font-size="14.8" text-anchor="start">0.00</text>
<line x1="430" y1="804.2" x2="438.6" y2="804.2" stroke="#111" stroke-width="1.2"/>
<text x="448.6" y="809.6" font-size="14.8" text-anchor="start">0.04</text>
<line x1="430" y1="748.4" x2="438.6" y2="748.4" stroke="#111" stroke-width="1.2"/>
<text x="448.6" y="753.8" font-size="14.8" text-anchor="start">0.08</text>
<line x1="430" y1="692.6" x2="438.6" y2="692.6" stroke="#111" stroke-width="1.2"/>
<text x="448.6" y="698" font-size="14.8" text-anchor="start">0.12</text>
<line x1="430" y1="636.8" x2="438.6" y2="636.8" stroke="#111" stroke-width="1.2"/>
<text x="448.6" y="642.2" font-size="14.8" text-anchor="start">0.16</text>
<line x1="430" y1="581" x2="438.6" y2="581" stroke="#111" stroke-width="1.2"/>
<text x="448.6" y="586.4" font-size="14.8" text-anchor="start">0.20</text>
<line x1="430" y1="846" x2="434.4" y2="846" stroke="#555" stroke-width="1"/>
<line x1="430" y1="832.1" x2="434.4" y2="832.1" stroke="#555" stroke-width="1"/>
<line x1="430" y1="818.1" x2="434.4" y2="818.1" stroke="#555" stroke-width="1"/>
<line x1="430" y1="790.2" x2="434.4" y2="790.2" stroke="#555" stroke-width="1"/>
<line x1="430" y1="776.3" x2="434.4" y2="776.3" stroke="#555" stroke-width="1"/>
<line x1="430" y1="762.4" x2="434.4" y2="762.4" stroke="#555" stroke-width="1"/>
<line x1="430" y1="734.5" x2="434.4" y2="734.5" stroke="#555" stroke-width="1"/>
<line x1="430" y1="720.5" x2="434.4" y2="720.5" stroke="#555" stroke-width="1"/>
<line x1="430" y1="706.5" x2="434.4" y2="706.5" stroke="#555" stroke-width="1"/>
<line x1="430" y1="678.6" x2="434.4" y2="678.6" stroke="#555" stroke-width="1"/>
<line x1="430" y1="664.7" x2="434.4" y2="664.7" stroke="#555" stroke-width="1"/>
<line x1="430" y1="650.8" x2="434.4" y2="650.8" stroke="#555" stroke-width="1"/>
<line x1="430" y1="622.9" x2="434.4" y2="622.9" stroke="#555" stroke-width="1"/>
<line x1="430" y1="608.9" x2="434.4" y2="608.9" stroke="#555" stroke-width="1"/>
<line x1="430" y1="595" x2="434.4" y2="595" stroke="#555" stroke-width="1"/>
<line x1="430" y1="567" x2="434.4" y2="567" stroke="#555" stroke-width="1"/>
<line x1="430" y1="553.1" x2="434.4" y2="553.1" stroke="#555" stroke-width="1"/>
<line x1="430" y1="539.1" x2="434.4" y2="539.1" stroke="#555" stroke-width="1"/>
<g clip-path="url(#cBL)">
<polyline points="100.5,611 102.5,613 104.2,614.8 104.5,614 104.3,611 103.9,610.4 104.4,609 104.3,607.4 104.3,605.9 104.8,603.3 104.7,602.4 104.4,600.5 105,598.2 105.1,597.6 105.2,595.1 104.5,594.6 105.2,592.2 104.6,590 105.2,588.6 105.5,587.7 104.9,586.3 105.1,585.3 105.7,582.7 105.5,581.5 105.7,580.6 105,577.5 105.6,575.8 105.6,573.6 106,573.1 105.3,571.8 105.5,569.1 105.7,567.3 105.8,566.6 105.6,569.1 106.2,568.8 106.4,570.4 106.1,574.2 106.5,574.5 106.4,576.3 106.3,579.4 106.3,579.7 107.1,581.3 107.5,582.6 107.6,585.8 107.4,587.5 107.3,589 107.5,589.9 107.8,591.5 107.5,593.6 107.5,593.7 107.8,595.8 107.6,598.6 107.3,598.4 107.3,601.3 107.6,602.1 107.7,605.4 107.5,605.7 108.2,607.8 107.6,609.1 107.8,609.9 107.8,611.9 108.2,613.5 108.1,616.7 108.4,616.9 108.1,618.3 107.9,620.3 108.3,623 107.9,622.4 108,624.1 107.7,627.4 107.8,628.9 108,631 108.5,630.5 107.9,634.3 108.4,634.6 108.5,637.1 108.3,638 108.4,636.3 108.2,634.4 108.3,633.3 108.9,630.5 109,628.7 108.6,628.4 109.1,627.4 109.4,625.2 109,623.9 109.1,621.7 110,620.7 110.1,618 110.1,617.2 110,614.8 109.7,617.5 110.5,618 110.5,619.7 110.1,621.9 109.9,623.8 110.9,624.2 110.9,625.4 110.9,627.5 111.1,629.6 111.1,630.3 110.4,633.8 111,634.8 110.5,635.6 110.9,637 111.6,640.3 111.6,641.8 111.1,642 111.5,643.7 111.4,646.2 111.4,647 111.1,649.7 111.6,651.3 111.3,649.7 111.5,647.5 111.6,646.5 111.9,644 111.9,643.2 112.7,641.1 112.1,639.2 112.3,638.2 112.9,636.5 112.4,634.3 112.7,632.9 112.9,632.6 113.1,630.1 113.4,628.4 113.3,626.4 113.7,627.8 113.7,630.9 113.4,631.7 113.7,632 113.5,635.3 113.7,636.9 113.8,637.7 113.9,639.8 114.8,640.7 114.7,644 114.6,644.6 114.9,646.3 115.3,645.5 114.9,643.4 115,640.4 116,638.6 116.1,638.6 116,636.9 116.1,634.2 116.1,632.3 116.6,632.1 116.7,629.1 116.6,628.1 116.7,625.8 117,625.4 117.2,623.6 117,622.1 116.5,620 116.5,617.8 116.6,617.5 116.6,615.8 117.5,613 117.5,610.4 116.9,608.6 116.9,606.9 117.7,605.5 117.4,604.8 117.6,605.9 117.3,607.9 117.4,610.9 117.7,611.7 118,613.4 118,614.2 117.8,617.4 118,618 118.7,619.9 118.9,622.2 118.6,622.2 118.8,624.7 119.1,626.5 119.1,628.8 119,630.6 119.1,631.4 119.6,632.2 119.7,635.6 119.7,636 119.3,637.2 119.5,640.5 119.6,640.2 119.6,642 120,645.3 120.4,645.3 120,647.1 120.6,650.5 120.3,652.4 120.4,653.6 120.5,654.3 121.1,657.1 120.8,658.8 120.8,659.6 121,662 120.6,662 120.7,664.8 121.4,665.4 121.3,667 121.6,670.2 121.1,672.4 121.8,672 121.6,673.7 122,677.2 121.6,677.1 122.1,680.4 122.3,681.1 121.8,683.1 122.3,685.3 122.4,686.2 122.7,685.1 123.3,683.2 123.4,680.7 122.8,680.5 123,679.1 123.6,675.1 123.6,675.1 124,673.2 123.9,672 124.4,670.3 124.4,668.3 124.9,666.2 125.1,664.3 125,663 126.1,660.3 126,658.4 126.8,659 126.7,656.2 126.4,653.7 127.3,653.7 127.4,651.3 127.9,650.6 127.5,647.5 127.6,646.1 127.7,645.8 127.6,644.4 127.9,640.6 128,640.5 128,637.3 128.3,636.9 128,634.5 127.6,632.5 127.8,631.6 127.8,629.4 128.4,629.3 128.6,626.6 128.5,625.9 127.9,624.9 128.3,621.7 128.1,621.9 128.2,619 128.6,617.3 128.8,615 128.6,614.6 128.8,613.1 128.6,611.5 129.3,609.6 129,608.8 128.7,605.8 129,604.8 129.6,606 129.1,607.8 129.8,609.9 129.8,610.6 129.3,613.5 129.5,615.2 129.8,615.4 129.5,618 130,619 129.8,620.2 129.9,622.6 130.2,625 130.7,626.9 130.7,627.6 130.6,630.3 130.7,631.4 131.1,632.4 130.2,633.5 130.7,637.1 130.4,638.5 130.8,640.3 131.1,640.1 131,641.8 130.3,644 130.7,644.8 130.5,646.7 130.3,648.1 130.2,650 130.5,652.1 130.9,654.2 130.7,655.1 130.8,656.4 130.4,657.8 130.9,659.5 130.4,661.6 130.8,663.9 130.8,665.4 130.4,667.8 130.9,668.2 130.6,670.2 130.3,672 131.1,672.9 130.7,674.3 131.1,676.2 130.6,678.6 130.6,680.6 130.6,681.5 130.5,683.1 130.7,684.5 131,685.2 131.8,687 131.8,689.9 132.1,690.7 132.4,693.9 132.4,695.3 133.2,696 133.4,697.7 133.6,699.8 133.8,702.3 133.7,702.5 133.6,705.5 133.8,705.2 134,707 133.9,710 134.3,711.5 134.6,713.4 134.4,714.8 135.4,717.3 135.2,719.1 135.8,721.3 136.5,722 137.4,723.4 137.7,726.1 138.7,725.7 139.6,728.5 140,729 139.4,730.7 140.1,733.6 140,736.2 140.1,736.1 140.7,737.6 139.9,739.5 140.9,741.6 140.6,743.5 140.8,741.4 141.1,740.4 141.5,738 141.8,735.8 141.6,735.5 142.1,733.1 142,732.6 142.5,730.9 142.8,728.6 142.4,727.6 143,725 143.4,722.3 142.7,722.1 143.4,719.3 143.7,717.5 143.4,716.8 143.2,715.6 143.4,714.2 143.8,710.7 143.4,710.3 143.5,708.8 143.3,706 143.8,704.6 143.6,703.5 144,702.4 144.1,700.4 144,699.6 144.5,698.1 144.6,695.9 144,694.3 144.2,691.7 144.3,689.4 144.4,688.2 144.3,687.1 144.9,686 144.7,684 144.6,682.9 144.7,680.4 144.8,678.6 144.6,678.5 145.1,676.2 145.1,674.1 145.2,671.3 144.7,670.9 145.2,668 145,667.1 145.8,666.7 144.9,664 145.3,661.8 145.3,662.2 145.9,658.8 145.9,656.8 145.8,655.1 145.8,654.6 146.2,653 146.2,650.5 146,648.8 145.5,649 145.5,645.8 145.9,643.8 146.4,643.5 146,641.4 146.5,638.6 146.4,638.8 146.4,636.4 146.1,633.9 146.1,632.7 146.5,631.4 146.4,630.4 146.5,627.2 147.2,626.3 146.7,625.5 146.8,622.8 147.2,621.5 147.2,620.8 147.7,617.7 147.9,616.2 147.9,615 147.8,614 147.8,612.5 148.2,609.8 148.1,608.2 148.4,606.8 148.9,603.9 148.5,604.1 149,601.5 149,600.3 149.8,598.9 149.4,596.9 150.4,593.8 149.9,594.1 150.9,592.1 151.2,590.2 150.9,587.4 151.5,586.6 152.7,585.3 154.8,583.2 155.3,586 155.2,585.7 155.7,589.2 155.9,590.8 156.6,592.1 156.4,593.9 157,595.4 157,596 157.8,597.6 158.1,599.8 158.2,597.2 158,596.8 158.2,596 158.3,592.7 158.4,591.9 158.4,591 158.3,588.4 159,586 158.5,584.9 159.2,584.1 158.9,581.6 160.3,580.9 160.6,580.1 161.7,576.7 163.1,576.6 164.2,574.1 164.9,573.1 166.4,572.5 168,573.3 168.9,576.3 169.7,576.6 170.1,577.3 170.7,580.3 171.9,581.2 172.6,582.2 173,584.9 174.2,583.7 176.4,583.2 176.6,585.6 176.9,587.4 176.9,588.3 176.5,588.5 176.6,592.2 176.9,592.7 176.7,595 177.1,596.5 176.8,598.7 177.1,598 177.2,600.3 176.3,601.9 176.4,602.8 177.1,605.3 176.5,607.7 176.6,608.4 176.8,610 177.2,611.3 177.3,613.5 176.9,614.8 177.4,616.2 177,617.8 176.7,618.9 177.3,622.4 177,623.1 177.5,623.7 177.2,626.4 177.1,628.6 177.2,629.1 177.6,630.8 177.4,632 178.3,635.4 177.7,635.4 178.1,638.1 178.6,639.4 178,642.2 178.1,642.4 178.3,645.5 179.1,646 179,648.5 178.9,650.4 178.9,651.9 178.9,652.1 179,653.8 179.9,655.7 179.7,656.8 179.7,659.6 180.1,661.8 180,664 179.5,665.1 179.6,667.1 179.6,667.2 180.2,669.2 180.5,669.8 180.7,671.3 180.8,674.8 180,674.6 180.2,676.3 180.3,678.2 180.7,680.5 180.6,683.3 181,683.8 181.3,685.6 181.4,687.8 181,689.5 181.3,689 181.1,692.2 181.5,693.9 181.7,695.5 181.9,696 182,699.2 182,699.2 181.8,702.3 182.1,702.4 181.4,704.8 181.6,706.3 181.7,707 182.5,709.8 182.2,711.1 183.8,709.4 183.5,707.8 183.8,706 184.3,705.4 183.7,701.6 184.6,700.2 184.6,699.8 184.5,698.1 184.4,696.9 185,693.9 184.4,692.6 184.6,691.3 185.2,689.1 185.3,687.3 184.9,686.8 185.2,685.5 185.3,682.4 185.5,680.6 184.9,679.1 185.9,676.7 185.5,676.2 187.9,676.7 189.6,676.2 190.6,674.8 191,672.9 192.6,672.1 193,669.6 194.6,668.9 196.2,668.1 197.9,667.9 199.5,666.4 201.3,666.2 202.5,663.7 202.6,663.7 204.1,662.5 204.2,660.6 205.8,660.2 206.2,657.9 206.9,657.7 208.7,654.4 209.5,653.2 209.8,652.4 211.2,651.3 212.7,650.5 212.9,649.5 214,648 215.2,646.4 216.2,644.7 216.5,643.4 216.9,642.4 217.1,640.5 217.5,637.1 217.9,637.3 218,634.5 218.5,632.5 218.7,631.4 218.6,629.7 218.7,628 219.2,626.4 219.3,624.9 219.8,624 219.7,621.9 219.7,619.1 220,617.6 220,616.8 220.4,614.8 220.6,612.3 220.8,612.7 220.6,610.4 220.9,608.7 221.6,607.7 221.7,604.3 221.9,602.3 222,601.9 222.3,599.6 222.4,598.2 221.8,597.6 222,595.2 222.7,593.6 222.8,592.6 222.8,589.9 223.5,590.5 223.8,594.3 224.5,594.7 224.8,597.1 225.5,597.1 225.5,599.6 226.2,601.5 226,600.2 226.7,597.6 226.9,597.7 227,594.1 227.3,593.6 227.2,591.9 227.9,588.7 228,587.1 228.2,585.9 228,584.7 228.8,582.1 229.1,581.3 229.1,580.1 229.3,577.3 229.5,576.6 229.3,577.7 230.4,580.2 229.8,581.8 230.4,582.6 230.8,585.9 231.3,586.7 231.4,589.2 231.1,589.9 231.2,592.2 232.1,593.7 231.8,595.5 232,595.8 232.3,597.6 233,598.7 232.8,601.5 233.8,599.7 233.7,599 234.7,595.6 235.6,594.8 236.1,593.2 236.5,591.2 236.7,590.8 237.1,587.2 237.9,587 238.3,586 239.2,583.4 239.7,582.7 239.5,579.4 240.3,578.3 241.2,579.6 241.7,582.2 241.9,583.7 242.5,585.8 242.8,586.6 243.2,587.3 243,589 244,590.7 243.6,592.7 244.1,595.6 244.9,595.3 244.9,598.4 245.3,599.8 245.2,599.2 245.7,595.5 245.3,595.9 246,592.3 245.4,592.1 245.6,589.1 245.9,588.6 245.4,586.4 245.9,584.4 245.7,584.2 245.6,580.5 246.1,578.8 245.8,578 246.2,577.5 246,574.2 246.4,573.1 246,570.6 246.7,570.4 246.3,567.5 246.3,566.3 247.1,565.5 247.1,563.9 246.8,560.5 246.9,560 246.6,560.6 247.5,563.1 247.5,564.5 247,566.9 247.1,569.2 247.5,569.6 247.4,572 247.5,572.8 248.1,575.2 247.5,577.3 247.9,577.6 247.9,580.6 247.9,581.9 248,583 248.5,584.2 248,586.4 248.6,588.2 248.8,588.8 248.8,591.1 249.2,592.2 248.7,593.7 249.5,596.9 249.6,598.5 249.9,599.3 249.1,601.9 249.4,602.4 249.4,605.2 250.3,605.7 249.9,609.2 250.2,609.8 250.6,609.3 250.3,606.8 250.3,604.6 250.9,602.5 251,600.4 251.7,599 251.5,597.5 251.7,596.2 251.9,594.9 252.3,597 252.4,598.3 251.7,600.5 251.9,602.1 252.4,602.3 252.8,605 252.4,605.6 252.2,606.7 252.1,608.8 252.4,611.9 252.5,613.7 252.8,613.4 252.4,617 252.6,617.6 253.2,618.6 252.7,620.7 253.1,622.1 252.9,623 253.2,624.9 253.6,627.2 253.3,628.7 253.7,631.1 254,631.9 253.6,633.1 253.7,634.6 254.3,637 253.9,638.9 254.2,639.4 254.2,642.2 254,643.3 254.4,643.7 254.5,646.1 254.2,648.7 254.4,649.6 254.2,646.8 254.6,645.7 255,644.2 255,642.8 255,642.2 255.1,640.4 255.2,639.2 255,637.6 254.7,634 255.3,633.4 255.2,630.5 254.9,630.7 254.9,629.3 255.7,627.4 255,625.6 255.8,622.5 255.4,620.9 255.9,619.5 255.9,619.4 256,618.2 256.1,614.5 256.1,613.4 256.3,611.8 255.7,610.6 255.9,609.3 256,607.1 256.2,606.8 256.1,604.8 256.4,602 256,600.9 256.3,598.7 256.4,597.3 256.4,595.9 257,594.7 257,593.2 256.7,590.4 256.9,589.8 256.4,586.8 257.3,585.6 256.5,585.4 257.5,583.3 257.3,580.8 257,579.8 256.8,577.6 257.4,576.1 257.5,575.9 257.9,574.3 257.3,571.6 257.4,569.1 257.1,567.9 257.9,566.2 257.7,565 257.7,565.7 257.5,569.2 258.1,571 257.9,570.8 258,572.5 257.7,574.3 258.2,576.9 257.8,578.8 258.4,578.8 257.7,581.3 257.8,584 257.9,584.8 257.8,586.4 258.1,587.1 258.3,588.7 258.5,591.8 258.2,592.3 258.4,595.1 258.1,595.1 258.2,598.4 258.3,599.8 258.9,601.6 258.6,601.9 258.5,603.8 259,605 259.2,608 258.4,608.2 259,609.6 258.4,611.7 258.8,613.2 259,615.7 259.4,617.3 259.3,617.4 259.2,620.1 258.8,620.6 259.6,622.5 258.8,624.4 258.9,626.8 259.2,627.6 259.3,630.6 259.3,632.5 259.6,632.5 259.4,634.7 260.1,635.7 260.8,638 260.6,638.7 261.2,640.6 261.5,642 261.4,644.1 260.9,646.5 261.6,647.5 261.3,648.8 261.7,651.1 262.1,653.5 261.9,655.4 262.3,656.2 262,657 262,659.1 261.7,662.3 261.8,662.1 262.1,665.4 262.2,667.2 262.5,667.8 262.8,665.9 262.7,664.5 263.2,663.3 262.7,661.1 262.8,658.5 263.5,657.1 263.3,657.3 263.2,654.1 263.6,653 264.2,650.8 263.8,650.4 264.2,647.9 265.1,649.8 266.2,650.6 266.6,652.9 267,651.4 267.4,648.4 267.9,647.5 268.8,647.3 269.1,644.6 269,642.7 269.2,642.3 269.5,638.8 269.5,638.1 269,635.9 268.9,634.4 269.3,633.7 269.2,632 269.6,631.1 269.7,628.1 269.7,627.1 269.2,625 269.9,622.5 269.4,621 270.1,619.3 269.6,619.8 270.3,617.4 269.9,614.9 270.1,612.8 270.4,612.7 270.2,611.8 270.2,609.7 270,607.8 270.4,606.7 270.7,603.6 269.9,603.1 270.6,599.8 270.3,599.8 270.9,597.1 270.3,595.6 270.3,594.8 270.9,592.8 270.5,591 270.6,588.8 270.5,587.6 270.8,586.5 272.5,584.8 272.9,585.9 273.2,587.1 272.4,589 273.3,590.5 272.9,594 273,595.2 273.2,597.3 273.4,598.9 273.7,598.9 273.6,601.3 273.9,604.3 273.6,603.7 274.2,605.8 274,607.9 274.1,610.5 274.8,612.6 274.9,613.7 274.4,615.1 274.9,616.4 274.8,617.8 275.3,619.3 275.2,620.6 274.7,621.8 274.9,624.1 274.9,626.2 275.3,628 275.1,628.9 275.3,631.9 275.4,631.6 275.8,634.3 275.3,636.5 275.4,637.5 275.3,638.7 275.5,640 275.6,640.9 276,644.4 276.4,644.9 275.6,647.2 276.4,649.4 276.5,650.2 275.9,650.9 276.5,652.2 276,653.9 276.8,656.5 276.3,658.4 276.5,659.4 276.6,661.2 276.9,663.1 276.9,665.6 276.6,665.6 276.8,667.3 276.9,669.9 277,672.1 277,671.9 277.8,674.6 277.7,676.4 277.9,676.9 277.1,679.6 277.6,681.1 278.1,683.1 277.4,683.6 278,685.9 278,687.1 278.5,689.2 278,690.8 277.8,693.8 278.3,694.4 278.8,696.7 279.6,697.7 280.6,699 280.8,701 280.9,698.4 281.2,698.4 281.5,696.4 281.3,694.1 281.8,693.9 281.5,690.5 281.5,689.3 282.1,687.9 282,685.2 282.2,685.5 282.8,683.5 282.9,682.2 283,679.3 282.9,678.8 283.4,675 283.2,674.5 283.5,672.6 284.3,670.1 284,670.3 284.4,668.3 285,665.6 285.2,663.7 285.3,663.9 286.3,661.8 286.5,660.4 286.6,657.9 287,657.4 287.5,655.2 288,653.6 287.6,650.2 288.1,650.1 288.9,647 289.1,646.3 289,649 289.6,649 290,650.3 290,653 289.8,653.9 289.9,656.8 290.4,656.7 290.3,660 290.7,661.2 290.6,662.7 291.5,664.1 291.7,667.2 291.9,668 292.4,669.5 292.7,667.8 292.2,665.1 292.5,664.5 292.7,663.9 292.5,660.4 292.6,658.8 293,657.3 292.6,656 293.3,655.7 293.7,653.2 293.5,652.8 293.7,651 293.9,649.2 293.8,647.9 293.6,645.6 294,642.7 293.6,642.6 293.8,639.7 294.2,639.4 294,638.6 294.5,635.1 294.5,635.3 294.1,633.1 294.2,630.1 294.4,630.3 294.9,627.1 295.1,625.2 294.6,625.1 295.3,623 294.9,621.4 294.7,623.1 295.6,625.9 295.3,625.6 295.3,627 295.2,629.4 295.2,631.5 295.8,633.3 296.1,635.5 295.9,635.9 296.4,638.5 296,639.9 295.9,640.9 295.9,643.2 296.6,643.9 296.6,645.1 297,648.3 297.2,650.1 297.2,651.4 297.3,652 297.4,654.6 297.2,656.3 297.3,657.6 297.4,659.5 297.3,657.5 297.2,655.9 298,654.7 297.5,653 297.6,650.6 298,649.7 298.2,648 298.1,646.1 298.4,644.5 298,643.1 298.6,641.3 297.9,640.7 298,637.4 298.5,636.3 299,635.7 298.5,634.2 298.6,632 298.4,630.5 299.2,627.9 299.1,626.7 299,624.7 299.5,627.3 298.8,627.3 299.5,630 298.9,631.4 299,632.8 299.5,635.5 299.9,637.4 299.3,637.5 299.1,640.7 299.9,642.1 299.5,643.3 299.9,644.8 299.6,646.2 299.6,648.4 299.9,650.3 300.2,651.7 299.7,654.1 300,655.7 300.3,657 300.6,658.9 300.7,660.2 300.2,662 300.6,661.6 300.4,663.6 300.7,666.2 300.7,667.8 301.2,666.9 301.1,664.2 301.1,662.7 301,660.9 301.3,659.8 302,658.9 302.2,656.1 301.8,654.8 302.7,652.8 302.3,651.4 302.5,650.4 302.8,648.7 302.8,646.7 302.9,645.6 303.1,642.8 304,642 303.6,640 304,638 304.9,635.2 305.4,634.4 306.2,632.9 306.3,631.5 306.9,630.4 307.2,629 308.1,626.3 308.3,623.9 309,622.2 308.5,621.8 309.4,620.1 309.4,618 309.7,617.4 310.1,615.7 310.6,613.2 310.6,611.4 310.6,608.9 310.8,607.2 310.4,607.3 311.1,605.9 310.6,603.7 311.3,601.6 311.1,600.1 310.9,598.3 311.6,597.5 311.6,595.4 311.7,592.1 311.8,591.5 311.4,590.7 312.1,588.6 311.9,585.7 312,583.8 311.7,582.1 312,581.7 312.2,579.8 312.3,578.2 312.7,575.9 313.5,575.7 314.3,573.7 315.6,571.6 315.7,574.2 316.1,574 315.8,577.6 316.7,577.8 317.1,578.9 316.7,582.3 317.4,582.8 317.3,584.8 317.8,587.1 317.9,587.1 317.5,588.5 317.3,590.6 317.9,592.3 317.3,594.8 317.3,595.4 317.7,597.7 317.8,600.4 318,599.7 317.7,602.1 317.8,604.9 318.1,606.6 318.3,607.2 318.2,608.6 318,611.4 317.9,612.7 318.4,614.4 318.2,614.2 318.2,615.7 318.7,618 318.4,619.5 319.1,622.2 318.9,623.2 318.3,623.7 318.9,627.3 318.9,628 319.5,630.4 319.6,631 319.1,632.2 318.9,635.1 319.4,636.8 319.3,638 319.6,639.6 319.7,642.1 320.1,643.3 320.2,644 320,646.6 320.2,648.8 319.9,648.6 320.3,650.2 320.1,652.9 320.4,655.4 320.7,657.3 321.1,657.8 320.6,659 320.5,660.1 321.4,662.7 321.2,664.6 321.4,666.4 321.4,667.8 322.2,668.7 323.9,671.2 324.6,672.4 325.8,674.1 326.4,676.1 326.9,675.1 327,673.1 327.2,670.4 327.4,668.7 326.8,666.8 327.5,665.5 327.2,664 327.4,662.9 327.3,661.8 327.5,659.9 327.9,656.7 327.7,657.1 328.5,654.9 328.7,653.2 329,650.9 329,649.8 328.9,647.9 330.6,647.7 333,649.6 333.9,651.5 334.9,653.6 335.5,654.6 336.1,652.2 335.9,651.7 336.2,648.7 336.8,647.4 337.1,646.7 337.2,644.6 338.1,646.1 339.1,647.2 339.8,647.2 341.3,649.6 342.3,647.1 343,647.3 343,644.1 343.4,643.7 344.8,641.2 345.1,639.2 345.5,638 345.8,636.7 346.1,634.3 346.7,632.3 347.3,632.1 347.9,630.1 348.4,629.2 348,626.5 348.8,624.7 349.2,622.7 350.5,620.9 351.3,619.7 352.1,618 353.6,616.9 353.9,615.6 355.6,614 356.3,613.1 357.1,614.2 357.5,616.9 357.9,617.7 357.9,619.1 358.8,622.4 358.8,623 358.7,622 359.6,620.4 359.7,618.7 359.1,616.8 359.6,615.7 359.7,612.7 360.1,611.6 360.2,610.4 360.4,608.1 360.3,606.8 360.8,604.3 361.5,602 361.5,602.3 362.6,600.8 362.6,597.9 363.3,595.7 363.8,594.7 363.8,593.1 363.6,595.4 363.9,596.3 364.6,598.1 364.6,600.3 364.5,602 364.7,603 365.3,604.4 365.4,605.2 365.7,607.7 366,608.8 365.9,612.5 366.4,612.8 366.2,614.7 367.1,615.2 367.6,617.6 367.8,619.1 368.2,622 368.3,622.6 369.6,624.2 369.6,626.3 369.3,629.2 370.1,629.9 370.5,630.8 370.1,632.2 369.9,635.4 370.1,637.3 370.5,638.3 370.3,639 371,641 370.8,642.2 371.2,644.6 371.3,646 372.5,647.6 372.9,650.2 372.6,650.9 373.4,653.9 374.1,655.6 374.4,656.1 374.5,657.9 374.8,659.5 375.3,661.2 375.1,662.7 375.1,664.4 375.3,665.7 375.6,667.9 376.1,670.6 376.9,670.6 376.4,672.3 377,674.5 377.8,673 378.2,671.6 378.8,669.8 379.5,667.8 380.3,667 381.6,663.8 382.4,662.3 382.8,661.2 382.8,659.1 383.1,657.8 383.2,656.8 382.5,654 382.8,653.1 383.2,651.7 382.9,650.4 383.2,648.9 383.1,645.4 383.5,643.8 383,643.2 382.7,640.5 382.8,640.9 383.5,639.2 383.2,636 382.9,636.2 383.7,634.3 383.5,630.8 383.6,630.1 383.8,627.5 383.6,627.1 383.2,625 383.1,622.9 384,621.1 384,620.1 384,619.4 383.4,617.2 383.3,616.2 383.6,613.3 384.1,611.4 383.5,610.3 383.4,609.4 383.9,606.5 383.8,606.5 384.2,603.7 384,602.4 384.4,599.8 384.2,598.6 384.2,598 383.8,595.1 384.3,594 383.8,593.6 384.3,591.3 383.8,590.4 384.6,588 384,587.1 384.2,584.8 384.1,584.2 384.8,580.5 384.1,579.1 384.4,578.6 384.5,576.5 384.6,577.9 385.6,580.9 385.9,581.5 386.2,583.6 386.6,584.7 387,586.5 387.6,583.7 387.4,582.7 388,582 388.1,579.9 388,577.6 388.5,577.2 388.7,574.7 388.2,573 388.5,572 389.1,571 389.2,567.6 389.5,566.6 390.6,569.3 391.9,570.2 392.8,571.6 393.2,572.4 393.2,575.3 393.3,577.5 392.7,577.8 393.5,580.6 392.9,581.3 393.6,582.8 393.3,585 393.1,585.9 393.9,587.3 393.5,590.8 393.9,592.5 393.6,592.6 393.9,595.8 394.2,595.5 394,599.1 393.7,599.8 394.4,601.4 394.5,603.8 393.9,605.4 394.6,605.5 394.1,608.3 394.1,608.6 394.8,610.8 394.6,612.5 394.5,614.7 395.1,613.1 394.6,612.1 394.9,610.4 394.8,607.2 395.2,607.4 396,604.8 395.6,601.9 395.7,601.6 396.5,600.1 396.7,597.2 396.8,596.6 397.2,593.8 397,593.1 396.7,595.9 397.3,596.1 397,597.3 397.7,600.1 397.5,601.1 397.4,602.3 398.4,605.9 398.6,606.6 398.6,607 398.5,610.9 399.1,611.4 398.6,614 399.3,614.2 399.3,615.6 399,617.9 399.4,619.7 399.2,620.6 399.8,623.1 400.3,625.5 399.6,627.4 399.7,628.4 400.7,630.3 400.9,631.3 400.6,634 401,635.1 400.6,636.4 401.1,637 401.1,639.6 401.7,640.6 402,643 402.6,645.5 403.2,646.4 403.9,647 403.7,648.9 404.4,651.2 406,652.3 408.2,652.6 409.4,654.6 409.4,653.9 409.6,650.8 410.1,649.1 410.6,648 411.2,646.2 410.9,645.8 411.9,643.4 411.6,640.1 411.9,640.3 412.1,639 412.7,636.3 412.5,637.6 413.4,639.1 413,642.2 413.1,643.9 413.9,644.3 413.9,647.3 413.4,648.4 414.3,649.8 414.5,650.2 414.2,653.6 414.7,655.7 415,655.3 414.8,657.2 415.1,659.7 415.2,661.2 414.9,662.6 415.4,663.2 415.8,665.5 415.5,667.9 415.3,670 415.7,670 415.5,671.6 415.5,674.8 415.9,675.6 416.1,677.5 416,680 416.2,681.3 416.4,682.5 416.2,683.2 416.1,685.4 416.5,687.6 416.2,688.9 417.1,689.7 416.9,691.2 416.9,693.2 417.2,695.1 417,696.7 417.2,698.1 417.4,700.1 416.8,701.2 416.9,704 417.1,703.5 417.1,707.2 417.8,708.9 417.2,709.8 417.7,711 420.2,712.7 420.5,710.6 421.2,709 420.7,708.5 421.5,706.8 421.6,705.3 422.3,703 421.8,701.8 422,700 422.2,697.8 423,696.8 422.8,694.9 423.5,692.7 423.1,690.2 423.7,689.2 423.6,687.4 423.9,686.9 423.8,685.3 424.2,683.6 423.8,680.3 424,680.7 423.7,678.9 424.1,676.2 423.6,674.8 424.2,672.7 423.6,671.7 424.1,670.3 424,667.3 423.9,666.4 424.1,664.3 424.4,662.4 424,660.9 424.7,660.1 424.7,658.3 424.4,656.5 424.2,654.4 424.8,655.1 424.9,653 424.5,650.9 424.9,650.1 424.8,647.9 424.4,647 424.9,644.8 424.3,642.6 424.8,640 424.7,639.4 424.8,636.9 424.6,636.7 425.4,634.5 424.9,633.7 425.2,631 424.7,628.6 425.2,628 427.7,626.3 427.4,627.2 427.7,630.5 427.6,631.7 428.2,633.9 428.4,635.1 428.6,635.3 428.2,637.1 428.4,639.4 429,641 429.1,643.5 429.5,644.5 429,646.4 429.3,647.9 431,650" fill="none" stroke="#8cc850" stroke-width="5" stroke-linejoin="round" stroke-linecap="round"/>
<polyline points="149.5,600 151,590 152.5,603 154,596 155.5,604 157,597 158.5,590 160,594 161.5,584 163,588 165,580 167,586 169,579 171,585 173,589 175,584" fill="none" stroke="#8cc850" stroke-width="5" stroke-linejoin="round" stroke-linecap="round"/>
</g>
<polyline points="103.4,860.2 104.6,847 105.5,845 221,845 224,840 226.5,834 228.5,826 230,824 246.4,824 246.4,818" fill="none" stroke="#46b045" stroke-width="11.6" stroke-linejoin="round" stroke-linecap="round"/>
<circle cx="246.4" cy="798" r="5.8" fill="#46b045"/>
<polyline points="246.4,784 257,784 258,771 272,771 273.5,763 388,763 388.8,752 390,742 393,735 431,735" fill="none" stroke="#46b045" stroke-width="11.6" stroke-linejoin="round" stroke-linecap="round"/>
<rect x="102.5" y="532.5" width="327.5" height="327.5" fill="none" stroke="#000" stroke-width="1.6"/>
<line x1="102.5" y1="860" x2="102.5" y2="868.3" stroke="#333" stroke-width="1.3"/>
<line x1="102.5" y1="532.5" x2="102.5" y2="524" stroke="#333" stroke-width="1.3"/>
<line x1="149.3" y1="860" x2="149.3" y2="868.3" stroke="#333" stroke-width="1.3"/>
<line x1="149.3" y1="532.5" x2="149.3" y2="524" stroke="#333" stroke-width="1.3"/>
<line x1="196.1" y1="860" x2="196.1" y2="868.3" stroke="#333" stroke-width="1.3"/>
<line x1="196.1" y1="532.5" x2="196.1" y2="524" stroke="#333" stroke-width="1.3"/>
<line x1="242.9" y1="860" x2="242.9" y2="868.3" stroke="#333" stroke-width="1.3"/>
<line x1="242.9" y1="532.5" x2="242.9" y2="524" stroke="#333" stroke-width="1.3"/>
<line x1="289.6" y1="860" x2="289.6" y2="868.3" stroke="#333" stroke-width="1.3"/>
<line x1="289.6" y1="532.5" x2="289.6" y2="524" stroke="#333" stroke-width="1.3"/>
<line x1="336.4" y1="860" x2="336.4" y2="868.3" stroke="#333" stroke-width="1.3"/>
<line x1="336.4" y1="532.5" x2="336.4" y2="524" stroke="#333" stroke-width="1.3"/>
<line x1="383.2" y1="860" x2="383.2" y2="868.3" stroke="#333" stroke-width="1.3"/>
<line x1="383.2" y1="532.5" x2="383.2" y2="524" stroke="#333" stroke-width="1.3"/>
<line x1="430" y1="860" x2="430" y2="868.3" stroke="#333" stroke-width="1.3"/>
<line x1="430" y1="532.5" x2="430" y2="524" stroke="#333" stroke-width="1.3"/>
<text x="266.3" y="511" font-size="25.2" text-anchor="middle" letter-spacing="0.09">Relative Humidity (%) &amp; Precipitation (in)</text>
<text x="102.7" y="889.7" font-size="14.8" text-anchor="middle" letter-spacing="0.4">07/23</text>
<text x="149.5" y="889.7" font-size="14.8" text-anchor="middle" letter-spacing="0.4">08/23</text>
<text x="196.3" y="889.7" font-size="14.8" text-anchor="middle" letter-spacing="0.4">09/23</text>
<text x="243.1" y="889.7" font-size="14.8" text-anchor="middle" letter-spacing="0.4">10/23</text>
<text x="289.8" y="889.7" font-size="14.8" text-anchor="middle" letter-spacing="0.4">11/23</text>
<text x="336.6" y="889.7" font-size="14.8" text-anchor="middle" letter-spacing="0.4">12/23</text>
<text x="383.4" y="889.7" font-size="14.8" text-anchor="middle" letter-spacing="0.4">13/23</text>
<text x="430.2" y="889.7" font-size="14.8" text-anchor="middle" letter-spacing="0.4">14/23</text>
<text x="266.4" y="918.6" font-size="20.9" text-anchor="middle" letter-spacing="0.18">Time (Day/UTC)</text>
<text x="46.6" y="696" font-size="21.9" text-anchor="middle" transform="rotate(-90 46.6 696)">Percent &amp; Total Rainfall</text>
<line x1="606" y1="860" x2="950.6" y2="860" stroke="#111" stroke-width="1.3"/>
<text x="596.3" y="865.4" font-size="14.8" text-anchor="end">North</text>
<line x1="606" y1="778.1" x2="950.6" y2="778.1" stroke="#111" stroke-width="1.3"/>
<text x="596.3" y="783.5" font-size="14.8" text-anchor="end">East</text>
<line x1="606" y1="696.2" x2="950.6" y2="696.2" stroke="#111" stroke-width="1.3"/>
<text x="596.3" y="701.6" font-size="14.8" text-anchor="end">South</text>
<line x1="606" y1="614.4" x2="950.6" y2="614.4" stroke="#111" stroke-width="1.3"/>
<text x="596.3" y="619.8" font-size="14.8" text-anchor="end">West</text>
<line x1="606" y1="532.5" x2="950.6" y2="532.5" stroke="#111" stroke-width="1.3"/>
<text x="596.3" y="537.9" font-size="14.8" text-anchor="end">North</text>
<g clip-path="url(#cBR)">
<circle cx="780.6" cy="634.9" r="2.9" fill="#7ec44e"/>
<circle cx="899" cy="754" r="2.9" fill="#78b4e0"/>
<circle cx="854.4" cy="624.2" r="2.9" fill="#7ec44e"/>
<circle cx="899.4" cy="801" r="2.9" fill="#78b4e0"/>
<circle cx="637" cy="854.5" r="2.9" fill="#48a268"/>
<circle cx="632.1" cy="850.6" r="2.9" fill="#4486c4"/>
<circle cx="647.7" cy="826.7" r="2.9" fill="#4486c4"/>
<circle cx="893.9" cy="625.3" r="2.9" fill="#b51a22"/>
<circle cx="815.3" cy="611.5" r="2.9" fill="#7ec44e"/>
<circle cx="616.5" cy="601.2" r="2.9" fill="#7ec44e"/>
<circle cx="621.4" cy="569.7" r="2.9" fill="#e6dc58"/>
<circle cx="868.5" cy="679.6" r="2.9" fill="#4486c4"/>
<circle cx="886.5" cy="636.8" r="2.9" fill="#f6a644"/>
<circle cx="690.3" cy="672.9" r="2.9" fill="#f6a644"/>
<circle cx="660.1" cy="788.1" r="2.9" fill="#b8e2f6"/>
<circle cx="924.1" cy="579.7" r="2.9" fill="#ee6228"/>
<circle cx="822.5" cy="673.6" r="2.9" fill="#48a268"/>
<circle cx="699.2" cy="684.1" r="2.9" fill="#ee6228"/>
<circle cx="814.4" cy="580.4" r="2.9" fill="#e6dc58"/>
<circle cx="627.2" cy="569.8" r="2.9" fill="#e6dc58"/>
<circle cx="889.8" cy="639.9" r="2.9" fill="#f6a644"/>
<circle cx="640.9" cy="776.3" r="2.9" fill="#78b4e0"/>
<circle cx="769.1" cy="608.1" r="2.9" fill="#f6a644"/>
<circle cx="645.9" cy="817" r="2.9" fill="#4486c4"/>
<circle cx="622.6" cy="556.2" r="2.9" fill="#48a268"/>
<circle cx="886" cy="638.2" r="2.9" fill="#e6dc58"/>
<circle cx="800.6" cy="629.1" r="2.9" fill="#48a268"/>
<circle cx="822.4" cy="663.5" r="2.9" fill="#48a268"/>
<circle cx="759.7" cy="642" r="2.9" fill="#f6a644"/>
<circle cx="905.6" cy="596.3" r="2.9" fill="#48a268"/>
<circle cx="660.8" cy="785" r="2.9" fill="#78b4e0"/>
<circle cx="938.3" cy="592.8" r="2.9" fill="#e6dc58"/>
<circle cx="698.5" cy="683.1" r="2.9" fill="#f6a644"/>
<circle cx="919.3" cy="601.5" r="2.9" fill="#e6dc58"/>
<circle cx="836.9" cy="586" r="2.9" fill="#7ec44e"/>
<circle cx="652" cy="536.2" r="2.9" fill="#48a268"/>
<circle cx="614.5" cy="580.4" r="2.9" fill="#48a268"/>
<circle cx="763" cy="603.3" r="2.9" fill="#ee6228"/>
<circle cx="681.7" cy="741.9" r="2.9" fill="#b8e2f6"/>
<circle cx="938.6" cy="596.3" r="2.9" fill="#e6dc58"/>
<circle cx="859.7" cy="666.1" r="2.9" fill="#4486c4"/>
<circle cx="836" cy="587.8" r="2.9" fill="#e6dc58"/>
<circle cx="652.9" cy="858.3" r="2.9" fill="#78b4e0"/>
<circle cx="880.6" cy="659.8" r="2.9" fill="#ee6228"/>
<circle cx="928.5" cy="596.5" r="2.9" fill="#e6dc58"/>
<circle cx="926.3" cy="597.3" r="2.9" fill="#48a268"/>
<circle cx="649.8" cy="834.4" r="2.9" fill="#78b4e0"/>
<circle cx="710.3" cy="677.8" r="2.9" fill="#ee6228"/>
<circle cx="807.6" cy="587.9" r="2.9" fill="#e6dc58"/>
<circle cx="620" cy="584.9" r="2.9" fill="#48a268"/>
<circle cx="686.6" cy="854.9" r="2.9" fill="#78b4e0"/>
<circle cx="789" cy="607.3" r="2.9" fill="#f6a644"/>
<circle cx="798.3" cy="614.4" r="2.9" fill="#b51a22"/>
<circle cx="839.4" cy="625.9" r="2.9" fill="#7ec44e"/>
<circle cx="819.7" cy="654.4" r="2.9" fill="#4486c4"/>
<circle cx="865" cy="682.6" r="2.9" fill="#78b4e0"/>
<circle cx="893.9" cy="533" r="2.9" fill="#48a268"/>
<circle cx="761.8" cy="583" r="2.9" fill="#ee6228"/>
<circle cx="856.7" cy="635.3" r="2.9" fill="#48a268"/>
<circle cx="690.4" cy="678.8" r="2.9" fill="#4486c4"/>
<circle cx="633.3" cy="547.7" r="2.9" fill="#7ec44e"/>
<circle cx="790.7" cy="589" r="2.9" fill="#e6dc58"/>
<circle cx="672.6" cy="662.2" r="2.9" fill="#78b4e0"/>
<circle cx="802.1" cy="596" r="2.9" fill="#48a268"/>
<circle cx="710.6" cy="670.4" r="2.9" fill="#ee6228"/>
<circle cx="868.5" cy="697.9" r="2.9" fill="#78b4e0"/>
<circle cx="676.9" cy="687.4" r="2.9" fill="#b8e2f6"/>
<circle cx="913.6" cy="596.5" r="2.9" fill="#48a268"/>
<circle cx="796.4" cy="581.7" r="2.9" fill="#4486c4"/>
<circle cx="672.7" cy="731.2" r="2.9" fill="#b8e2f6"/>
<circle cx="843.5" cy="620.6" r="2.9" fill="#7ec44e"/>
<circle cx="811.3" cy="600.1" r="2.9" fill="#e6dc58"/>
<circle cx="648.8" cy="852.5" r="2.9" fill="#48a268"/>
<circle cx="878.1" cy="664.7" r="2.9" fill="#d8302a"/>
<circle cx="662.9" cy="775.6" r="2.9" fill="#78b4e0"/>
<circle cx="644.7" cy="841.8" r="2.9" fill="#48a268"/>
<circle cx="678.9" cy="798.2" r="2.9" fill="#b8e2f6"/>
<circle cx="647.3" cy="532.5" r="2.9" fill="#7ec44e"/>
<circle cx="710.6" cy="672.2" r="2.9" fill="#f6a644"/>
<circle cx="754.1" cy="669.4" r="2.9" fill="#d8302a"/>
<circle cx="897.6" cy="547.8" r="2.9" fill="#4486c4"/>
<circle cx="691.5" cy="677.3" r="2.9" fill="#4486c4"/>
<circle cx="653.3" cy="554.8" r="2.9" fill="#4486c4"/>
<circle cx="900.2" cy="552" r="2.9" fill="#48a268"/>
<circle cx="815.1" cy="614.1" r="2.9" fill="#7ec44e"/>
<circle cx="916.4" cy="607.6" r="2.9" fill="#7ec44e"/>
<circle cx="641.2" cy="769.8" r="2.9" fill="#78b4e0"/>
<circle cx="680.2" cy="772.6" r="2.9" fill="#b8e2f6"/>
<circle cx="617" cy="591.4" r="2.9" fill="#7ec44e"/>
<circle cx="621.4" cy="539" r="2.9" fill="#7ec44e"/>
<circle cx="751.4" cy="667.6" r="2.9" fill="#ee6228"/>
<circle cx="769.4" cy="596.8" r="2.9" fill="#e6dc58"/>
<circle cx="681.9" cy="831.5" r="2.9" fill="#b8e2f6"/>
<circle cx="872.4" cy="690.5" r="2.9" fill="#4486c4"/>
<circle cx="799.5" cy="574.3" r="2.9" fill="#7ec44e"/>
<circle cx="782.6" cy="660.2" r="2.9" fill="#48a268"/>
<circle cx="756.2" cy="658.6" r="2.9" fill="#e6dc58"/>
<circle cx="698.5" cy="672.2" r="2.9" fill="#f6a644"/>
<circle cx="720.8" cy="665.9" r="2.9" fill="#f6a644"/>
<circle cx="929" cy="618.4" r="2.9" fill="#ee6228"/>
<circle cx="684.7" cy="554.5" r="2.9" fill="#b8e2f6"/>
<circle cx="686.9" cy="662.4" r="2.9" fill="#78b4e0"/>
<circle cx="747.2" cy="682.9" r="2.9" fill="#f6a644"/>
<circle cx="847.1" cy="630.8" r="2.9" fill="#7ec44e"/>
<circle cx="619.3" cy="583.8" r="2.9" fill="#f6a644"/>
<circle cx="904.7" cy="596.3" r="2.9" fill="#4486c4"/>
<circle cx="763.8" cy="594.1" r="2.9" fill="#ee6228"/>
<circle cx="753.8" cy="672.9" r="2.9" fill="#f6a644"/>
<circle cx="886.2" cy="653.6" r="2.9" fill="#ee6228"/>
<circle cx="631.4" cy="533.8" r="2.9" fill="#48a268"/>
<circle cx="649.8" cy="836.7" r="2.9" fill="#4486c4"/>
<circle cx="850.7" cy="643.9" r="2.9" fill="#7ec44e"/>
<circle cx="690.2" cy="638.3" r="2.9" fill="#78b4e0"/>
<circle cx="725.9" cy="678.7" r="2.9" fill="#e6dc58"/>
<circle cx="642.8" cy="770.3" r="2.9" fill="#78b4e0"/>
<circle cx="670.9" cy="735.2" r="2.9" fill="#b8e2f6"/>
<circle cx="881" cy="655.1" r="2.9" fill="#b51a22"/>
<circle cx="818" cy="656.1" r="2.9" fill="#4486c4"/>
<circle cx="638.9" cy="836.7" r="2.9" fill="#4486c4"/>
<circle cx="927.4" cy="589.6" r="2.9" fill="#7ec44e"/>
<circle cx="863.7" cy="684.1" r="2.9" fill="#4486c4"/>
<circle cx="655.8" cy="564.5" r="2.9" fill="#4486c4"/>
<circle cx="617.8" cy="561.2" r="2.9" fill="#7ec44e"/>
<circle cx="678" cy="679.1" r="2.9" fill="#78b4e0"/>
<circle cx="735.5" cy="668" r="2.9" fill="#7ec44e"/>
<circle cx="851" cy="627.7" r="2.9" fill="#ee6228"/>
<circle cx="898.4" cy="552" r="2.9" fill="#4486c4"/>
<circle cx="707.6" cy="663.5" r="2.9" fill="#d8302a"/>
<circle cx="834.7" cy="615.2" r="2.9" fill="#e6dc58"/>
<circle cx="817.5" cy="617.8" r="2.9" fill="#48a268"/>
<circle cx="682.7" cy="701" r="2.9" fill="#78b4e0"/>
<circle cx="864.2" cy="685.6" r="2.9" fill="#78b4e0"/>
<circle cx="910.9" cy="608" r="2.9" fill="#e6dc58"/>
<circle cx="648.4" cy="829.2" r="2.9" fill="#48a268"/>
<circle cx="696.7" cy="682" r="2.9" fill="#e6dc58"/>
<circle cx="615.6" cy="584.3" r="2.9" fill="#48a268"/>
<circle cx="818.4" cy="692.7" r="2.9" fill="#48a268"/>
<circle cx="669" cy="740" r="2.9" fill="#b8e2f6"/>
<circle cx="724.1" cy="666.9" r="2.9" fill="#d8302a"/>
<circle cx="738.7" cy="672.1" r="2.9" fill="#b51a22"/>
<circle cx="801.3" cy="604.3" r="2.9" fill="#e6dc58"/>
<circle cx="829.2" cy="659" r="2.9" fill="#48a268"/>
<circle cx="657" cy="792.9" r="2.9" fill="#78b4e0"/>
<circle cx="710.6" cy="676" r="2.9" fill="#b51a22"/>
<circle cx="927.6" cy="600.2" r="2.9" fill="#48a268"/>
<circle cx="677.4" cy="692.7" r="2.9" fill="#78b4e0"/>
<circle cx="791.5" cy="610.2" r="2.9" fill="#ee6228"/>
<circle cx="734.5" cy="679.6" r="2.9" fill="#ee6228"/>
<circle cx="806.6" cy="585.2" r="2.9" fill="#7ec44e"/>
<circle cx="759.2" cy="640.5" r="2.9" fill="#f6a644"/>
<circle cx="798" cy="605.5" r="2.9" fill="#ee6228"/>
<circle cx="619.3" cy="592.5" r="2.9" fill="#e6dc58"/>
<circle cx="811.7" cy="590.2" r="2.9" fill="#7ec44e"/>
<circle cx="903.4" cy="604.1" r="2.9" fill="#4486c4"/>
<circle cx="832.9" cy="624.8" r="2.9" fill="#48a268"/>
<circle cx="864.5" cy="668" r="2.9" fill="#78b4e0"/>
<circle cx="740.7" cy="670.4" r="2.9" fill="#d8302a"/>
<circle cx="708.6" cy="683.1" r="2.9" fill="#ee6228"/>
<circle cx="811.9" cy="614.2" r="2.9" fill="#f6a644"/>
<circle cx="856.1" cy="662.3" r="2.9" fill="#4486c4"/>
<circle cx="819.6" cy="621.9" r="2.9" fill="#78b4e0"/>
<circle cx="923.9" cy="578.4" r="2.9" fill="#48a268"/>
<circle cx="641.1" cy="830.7" r="2.9" fill="#4486c4"/>
<circle cx="884" cy="649.3" r="2.9" fill="#ee6228"/>
<circle cx="650.8" cy="533.3" r="2.9" fill="#7ec44e"/>
<circle cx="646.4" cy="828.4" r="2.9" fill="#7ec44e"/>
<circle cx="685.8" cy="704.9" r="2.9" fill="#b8e2f6"/>
<circle cx="857.9" cy="646.8" r="2.9" fill="#48a268"/>
<circle cx="866" cy="710" r="2.9" fill="#4486c4"/>
<circle cx="759.7" cy="591.9" r="2.9" fill="#ee6228"/>
<circle cx="698.5" cy="675.4" r="2.9" fill="#f6a644"/>
<circle cx="781.5" cy="623.7" r="2.9" fill="#48a268"/>
<circle cx="900.6" cy="556" r="2.9" fill="#4486c4"/>
<circle cx="700.6" cy="678.5" r="2.9" fill="#f6a644"/>
<circle cx="711.4" cy="669.6" r="2.9" fill="#ee6228"/>
<circle cx="708.6" cy="662.8" r="2.9" fill="#b51a22"/>
<circle cx="675.9" cy="740.6" r="2.9" fill="#78b4e0"/>
<circle cx="838.6" cy="616.7" r="2.9" fill="#e6dc58"/>
<circle cx="638.4" cy="537.7" r="2.9" fill="#4486c4"/>
<circle cx="618.3" cy="574.2" r="2.9" fill="#e6dc58"/>
<circle cx="901.7" cy="555.7" r="2.9" fill="#4486c4"/>
<circle cx="684.6" cy="710.5" r="2.9" fill="#78b4e0"/>
<circle cx="786.6" cy="599.6" r="2.9" fill="#d8302a"/>
<circle cx="884" cy="641.1" r="2.9" fill="#e6dc58"/>
<circle cx="627.9" cy="542.4" r="2.9" fill="#7ec44e"/>
<circle cx="799.6" cy="585.3" r="2.9" fill="#f6a644"/>
<circle cx="891.2" cy="620.5" r="2.9" fill="#f6a644"/>
<circle cx="733.3" cy="673.2" r="2.9" fill="#f6a644"/>
<circle cx="927.1" cy="572.5" r="2.9" fill="#48a268"/>
<circle cx="754.3" cy="667.4" r="2.9" fill="#f6a644"/>
<circle cx="785.3" cy="636.9" r="2.9" fill="#48a268"/>
<circle cx="675.6" cy="675.6" r="2.9" fill="#78b4e0"/>
<circle cx="692.7" cy="642.4" r="2.9" fill="#4486c4"/>
<circle cx="702.6" cy="684.7" r="2.9" fill="#f6a644"/>
<circle cx="756.5" cy="635.6" r="2.9" fill="#f6a644"/>
<circle cx="820.1" cy="638.5" r="2.9" fill="#48a268"/>
<circle cx="771.4" cy="613.3" r="2.9" fill="#e6dc58"/>
<circle cx="621" cy="570.8" r="2.9" fill="#7ec44e"/>
<circle cx="935.6" cy="589.6" r="2.9" fill="#e6dc58"/>
<circle cx="617.9" cy="580.9" r="2.9" fill="#7ec44e"/>
<circle cx="764.4" cy="597.4" r="2.9" fill="#d8302a"/>
<circle cx="817.2" cy="613.9" r="2.9" fill="#e6dc58"/>
<circle cx="926.6" cy="596.6" r="2.9" fill="#f6a644"/>
<circle cx="737.6" cy="672.2" r="2.9" fill="#e6dc58"/>
<circle cx="843.3" cy="628.7" r="2.9" fill="#7ec44e"/>
<circle cx="621.7" cy="574.5" r="2.9" fill="#7ec44e"/>
<circle cx="910" cy="596.9" r="2.9" fill="#f6a644"/>
<circle cx="908.7" cy="585.8" r="2.9" fill="#48a268"/>
<circle cx="747.9" cy="676" r="2.9" fill="#f6a644"/>
<circle cx="878.4" cy="661.6" r="2.9" fill="#ee6228"/>
<circle cx="740.7" cy="677.6" r="2.9" fill="#f6a644"/>
<circle cx="840.5" cy="621.7" r="2.9" fill="#e6dc58"/>
<circle cx="931.6" cy="583.8" r="2.9" fill="#e6dc58"/>
<circle cx="820.8" cy="671.8" r="2.9" fill="#48a268"/>
<circle cx="868.3" cy="638.7" r="2.9" fill="#b8e2f6"/>
<circle cx="641.5" cy="838.1" r="2.9" fill="#4486c4"/>
<circle cx="632.4" cy="532.5" r="2.9" fill="#4486c4"/>
<circle cx="738.1" cy="663.5" r="2.9" fill="#e6dc58"/>
<circle cx="628.4" cy="550.3" r="2.9" fill="#7ec44e"/>
<circle cx="676.7" cy="747.7" r="2.9" fill="#b8e2f6"/>
<circle cx="714.8" cy="672.8" r="2.9" fill="#d8302a"/>
<circle cx="882.3" cy="654.3" r="2.9" fill="#ee6228"/>
<circle cx="642.5" cy="553.8" r="2.9" fill="#78b4e0"/>
<circle cx="639.6" cy="542.8" r="2.9" fill="#48a268"/>
<circle cx="636.1" cy="856.2" r="2.9" fill="#7ec44e"/>
<circle cx="679.3" cy="591.9" r="2.9" fill="#b8e2f6"/>
<circle cx="847.1" cy="647.1" r="2.9" fill="#e6dc58"/>
<circle cx="904.7" cy="568.6" r="2.9" fill="#4486c4"/>
<circle cx="652.8" cy="535.5" r="2.9" fill="#7ec44e"/>
<circle cx="690" cy="607.8" r="2.9" fill="#78b4e0"/>
<circle cx="628.7" cy="549.1" r="2.9" fill="#f6a644"/>
<circle cx="864" cy="637.8" r="2.9" fill="#7ec44e"/>
<circle cx="652.6" cy="535.7" r="2.9" fill="#48a268"/>
<circle cx="681.2" cy="775.5" r="2.9" fill="#b8e2f6"/>
<circle cx="786.9" cy="610.1" r="2.9" fill="#d8302a"/>
<circle cx="749.3" cy="674.9" r="2.9" fill="#b51a22"/>
<circle cx="704.5" cy="680.3" r="2.9" fill="#b51a22"/>
<circle cx="738.7" cy="667.4" r="2.9" fill="#7ec44e"/>
<circle cx="791.7" cy="612" r="2.9" fill="#ee6228"/>
<circle cx="865" cy="716" r="2.9" fill="#78b4e0"/>
<circle cx="650.6" cy="536.5" r="2.9" fill="#48a268"/>
<circle cx="891.3" cy="626.7" r="2.9" fill="#ee6228"/>
<circle cx="925.4" cy="593.8" r="2.9" fill="#e6dc58"/>
<circle cx="757.7" cy="651.8" r="2.9" fill="#7ec44e"/>
<circle cx="900.2" cy="555.7" r="2.9" fill="#78b4e0"/>
<circle cx="640.6" cy="821" r="2.9" fill="#7ec44e"/>
<circle cx="799" cy="576.6" r="2.9" fill="#4486c4"/>
<circle cx="890.6" cy="640.4" r="2.9" fill="#d8302a"/>
<circle cx="921.4" cy="595" r="2.9" fill="#e6dc58"/>
<circle cx="615.1" cy="607" r="2.9" fill="#48a268"/>
<circle cx="846.3" cy="630" r="2.9" fill="#7ec44e"/>
<circle cx="621.5" cy="583" r="2.9" fill="#48a268"/>
<circle cx="906.1" cy="581.4" r="2.9" fill="#48a268"/>
<circle cx="621.6" cy="589.8" r="2.9" fill="#7ec44e"/>
<circle cx="622.4" cy="542.5" r="2.9" fill="#7ec44e"/>
<circle cx="646.2" cy="822.1" r="2.9" fill="#48a268"/>
<circle cx="777.4" cy="624.9" r="2.9" fill="#48a268"/>
<circle cx="780.2" cy="640.5" r="2.9" fill="#48a268"/>
<circle cx="781" cy="654.9" r="2.9" fill="#7ec44e"/>
<circle cx="913.6" cy="587.9" r="2.9" fill="#48a268"/>
<circle cx="902.2" cy="550.3" r="2.9" fill="#78b4e0"/>
<circle cx="642.7" cy="551.4" r="2.9" fill="#48a268"/>
<circle cx="899" cy="758.4" r="2.9" fill="#78b4e0"/>
<circle cx="688.6" cy="671.6" r="2.9" fill="#78b4e0"/>
<circle cx="800" cy="626.1" r="2.9" fill="#48a268"/>
<circle cx="757.6" cy="652" r="2.9" fill="#7ec44e"/>
<circle cx="801.9" cy="590.8" r="2.9" fill="#7ec44e"/>
<circle cx="732.1" cy="661.5" r="2.9" fill="#7ec44e"/>
<circle cx="823.8" cy="687.3" r="2.9" fill="#48a268"/>
<circle cx="629.5" cy="846.2" r="2.9" fill="#4486c4"/>
<circle cx="649.9" cy="860" r="2.9" fill="#48a268"/>
<circle cx="874.7" cy="671.5" r="2.9" fill="#78b4e0"/>
<circle cx="812.3" cy="603.3" r="2.9" fill="#e6dc58"/>
<circle cx="617.3" cy="562.6" r="2.9" fill="#48a268"/>
<circle cx="928.8" cy="612.6" r="2.9" fill="#ee6228"/>
<circle cx="660.3" cy="762" r="2.9" fill="#78b4e0"/>
<circle cx="828" cy="713" r="2.9" fill="#b8e2f6"/>
<circle cx="939.9" cy="571.4" r="2.9" fill="#48a268"/>
<circle cx="814.7" cy="597.7" r="2.9" fill="#e6dc58"/>
<circle cx="653" cy="846.8" r="2.9" fill="#48a268"/>
<circle cx="886.6" cy="640.2" r="2.9" fill="#e6dc58"/>
<circle cx="685.2" cy="860" r="2.9" fill="#b8e2f6"/>
<circle cx="702.6" cy="677.5" r="2.9" fill="#d8302a"/>
<circle cx="762.7" cy="586.6" r="2.9" fill="#e6dc58"/>
<circle cx="652.8" cy="857.4" r="2.9" fill="#78b4e0"/>
<circle cx="618.5" cy="589.3" r="2.9" fill="#e6dc58"/>
<circle cx="897.3" cy="690" r="2.9" fill="#78b4e0"/>
<circle cx="909" cy="572.2" r="2.9" fill="#4486c4"/>
<circle cx="798.5" cy="619.9" r="2.9" fill="#f6a644"/>
<circle cx="690.7" cy="614.4" r="2.9" fill="#b8e2f6"/>
<circle cx="705.6" cy="672" r="2.9" fill="#ee6228"/>
<circle cx="774.1" cy="599.4" r="2.9" fill="#ee6228"/>
<circle cx="701.8" cy="667.5" r="2.9" fill="#e6dc58"/>
<circle cx="619.7" cy="586.8" r="2.9" fill="#48a268"/>
<circle cx="759.6" cy="596.9" r="2.9" fill="#ee6228"/>
<circle cx="693.1" cy="687.4" r="2.9" fill="#e6dc58"/>
<circle cx="628.8" cy="552.8" r="2.9" fill="#48a268"/>
<circle cx="796.9" cy="607.7" r="2.9" fill="#b51a22"/>
<circle cx="642.1" cy="822.9" r="2.9" fill="#48a268"/>
<circle cx="685.5" cy="711.3" r="2.9" fill="#b8e2f6"/>
<circle cx="930.2" cy="609.6" r="2.9" fill="#f6a644"/>
<circle cx="924.8" cy="603.3" r="2.9" fill="#7ec44e"/>
<circle cx="766.2" cy="592.1" r="2.9" fill="#b51a22"/>
<circle cx="821.2" cy="658.6" r="2.9" fill="#78b4e0"/>
<circle cx="646.8" cy="810.5" r="2.9" fill="#4486c4"/>
<circle cx="938.7" cy="600.1" r="2.9" fill="#7ec44e"/>
<circle cx="727.6" cy="679.6" r="2.9" fill="#ee6228"/>
<circle cx="916.2" cy="594.3" r="2.9" fill="#7ec44e"/>
<circle cx="634" cy="534.7" r="2.9" fill="#4486c4"/>
<circle cx="631.1" cy="533.9" r="2.9" fill="#f6a644"/>
<circle cx="641.2" cy="546.1" r="2.9" fill="#48a268"/>
<circle cx="648.4" cy="850" r="2.9" fill="#4486c4"/>
<circle cx="645.6" cy="533.4" r="2.9" fill="#48a268"/>
<circle cx="821.1" cy="694.7" r="2.9" fill="#48a268"/>
<circle cx="780.2" cy="639.9" r="2.9" fill="#7ec44e"/>
<circle cx="804.3" cy="583.7" r="2.9" fill="#7ec44e"/>
<circle cx="759.1" cy="602.6" r="2.9" fill="#f6a644"/>
<circle cx="916.5" cy="600.7" r="2.9" fill="#7ec44e"/>
<circle cx="614.5" cy="605.7" r="2.9" fill="#48a268"/>
<circle cx="711.7" cy="673.7" r="2.9" fill="#f6a644"/>
<circle cx="624" cy="551.9" r="2.9" fill="#7ec44e"/>
<circle cx="782.1" cy="661.2" r="2.9" fill="#48a268"/>
<circle cx="639.3" cy="543.5" r="2.9" fill="#4486c4"/>
<circle cx="727.9" cy="659.2" r="2.9" fill="#f6a644"/>
<circle cx="861.3" cy="676.6" r="2.9" fill="#78b4e0"/>
<circle cx="894.5" cy="620.2" r="2.9" fill="#d8302a"/>
<circle cx="821.3" cy="697" r="2.9" fill="#4486c4"/>
<circle cx="815.7" cy="620.2" r="2.9" fill="#4486c4"/>
<circle cx="656.7" cy="773" r="2.9" fill="#78b4e0"/>
<circle cx="904.9" cy="618.7" r="2.9" fill="#4486c4"/>
<circle cx="664.1" cy="776.8" r="2.9" fill="#78b4e0"/>
<circle cx="779.8" cy="650.7" r="2.9" fill="#7ec44e"/>
<circle cx="914.3" cy="587.7" r="2.9" fill="#48a268"/>
<circle cx="740.3" cy="685.7" r="2.9" fill="#b51a22"/>
<circle cx="662.9" cy="818.2" r="2.9" fill="#78b4e0"/>
<circle cx="929.6" cy="592.5" r="2.9" fill="#48a268"/>
<circle cx="720.8" cy="661.1" r="2.9" fill="#f6a644"/>
<circle cx="775.2" cy="604" r="2.9" fill="#ee6228"/>
<circle cx="920.7" cy="605.2" r="2.9" fill="#e6dc58"/>
<circle cx="797.4" cy="578" r="2.9" fill="#48a268"/>
<circle cx="876.3" cy="680.3" r="2.9" fill="#ee6228"/>
<circle cx="661.6" cy="824.3" r="2.9" fill="#b8e2f6"/>
<circle cx="795.7" cy="623.3" r="2.9" fill="#ee6228"/>
<circle cx="849.1" cy="634.3" r="2.9" fill="#e6dc58"/>
<circle cx="652.4" cy="578.5" r="2.9" fill="#4486c4"/>
<circle cx="869.6" cy="696.8" r="2.9" fill="#48a268"/>
<circle cx="666.5" cy="795.7" r="2.9" fill="#78b4e0"/>
<circle cx="818.2" cy="672.2" r="2.9" fill="#4486c4"/>
<circle cx="902" cy="566.4" r="2.9" fill="#48a268"/>
<circle cx="848.9" cy="663.1" r="2.9" fill="#4486c4"/>
<circle cx="721.3" cy="661.6" r="2.9" fill="#b51a22"/>
<circle cx="937.7" cy="597.3" r="2.9" fill="#e6dc58"/>
<circle cx="829.7" cy="662" r="2.9" fill="#7ec44e"/>
<circle cx="797.8" cy="580.4" r="2.9" fill="#e6dc58"/>
<circle cx="798.9" cy="595.2" r="2.9" fill="#8e1419"/>
<circle cx="797.2" cy="616.7" r="2.9" fill="#d8302a"/>
<circle cx="675" cy="662.4" r="2.9" fill="#78b4e0"/>
<circle cx="660.7" cy="762.1" r="2.9" fill="#78b4e0"/>
<circle cx="876.4" cy="672.1" r="2.9" fill="#e6dc58"/>
<circle cx="639.6" cy="549.1" r="2.9" fill="#4486c4"/>
<circle cx="871.7" cy="683.1" r="2.9" fill="#48a268"/>
<circle cx="862" cy="692" r="2.9" fill="#78b4e0"/>
<circle cx="759.6" cy="607.8" r="2.9" fill="#f6a644"/>
<circle cx="899.4" cy="555.2" r="2.9" fill="#48a268"/>
<circle cx="620" cy="574.7" r="2.9" fill="#e6dc58"/>
<circle cx="815.6" cy="621.6" r="2.9" fill="#48a268"/>
<circle cx="930.6" cy="590.8" r="2.9" fill="#4486c4"/>
<circle cx="907.6" cy="573.8" r="2.9" fill="#48a268"/>
<circle cx="783.3" cy="657.3" r="2.9" fill="#48a268"/>
<circle cx="936.2" cy="572.5" r="2.9" fill="#48a268"/>
<circle cx="798.4" cy="590.1" r="2.9" fill="#7ec44e"/>
<circle cx="931.5" cy="592.8" r="2.9" fill="#f6a644"/>
<circle cx="619" cy="593.7" r="2.9" fill="#48a268"/>
<circle cx="653.4" cy="857.1" r="2.9" fill="#4486c4"/>
<circle cx="900.4" cy="566.5" r="2.9" fill="#7ec44e"/>
<circle cx="896.5" cy="849" r="2.9" fill="#78b4e0"/>
<circle cx="738.2" cy="684.7" r="2.9" fill="#7ec44e"/>
<circle cx="620.1" cy="567.2" r="2.9" fill="#e6dc58"/>
<circle cx="778.4" cy="599" r="2.9" fill="#ee6228"/>
<circle cx="860.2" cy="670.2" r="2.9" fill="#48a268"/>
<circle cx="639.3" cy="765.7" r="2.9" fill="#4486c4"/>
<circle cx="650.4" cy="837.5" r="2.9" fill="#48a268"/>
<circle cx="859.7" cy="623" r="2.9" fill="#ee6228"/>
<circle cx="759.2" cy="614.6" r="2.9" fill="#f6a644"/>
<circle cx="730.8" cy="655.5" r="2.9" fill="#e6dc58"/>
<circle cx="677.4" cy="774.6" r="2.9" fill="#b8e2f6"/>
<circle cx="745.8" cy="673.3" r="2.9" fill="#b51a22"/>
<circle cx="857.8" cy="666.6" r="2.9" fill="#4486c4"/>
<circle cx="681" cy="785.2" r="2.9" fill="#b8e2f6"/>
<circle cx="907.7" cy="608.6" r="2.9" fill="#4486c4"/>
<circle cx="661.9" cy="803.9" r="2.9" fill="#78b4e0"/>
<circle cx="654.5" cy="848.3" r="2.9" fill="#4486c4"/>
<circle cx="688.3" cy="702.5" r="2.9" fill="#b8e2f6"/>
<circle cx="877.8" cy="675.5" r="2.9" fill="#4486c4"/>
<circle cx="624.1" cy="580" r="2.9" fill="#7ec44e"/>
<circle cx="723.3" cy="665" r="2.9" fill="#ee6228"/>
<circle cx="624.5" cy="551.9" r="2.9" fill="#4486c4"/>
<circle cx="764.7" cy="604.1" r="2.9" fill="#8e1419"/>
<circle cx="639.9" cy="536.8" r="2.9" fill="#48a268"/>
<circle cx="844.7" cy="645.9" r="2.9" fill="#48a268"/>
<circle cx="794.8" cy="578.9" r="2.9" fill="#7ec44e"/>
<circle cx="794.6" cy="598.1" r="2.9" fill="#e6dc58"/>
<circle cx="686.5" cy="689.7" r="2.9" fill="#78b4e0"/>
<circle cx="928.7" cy="603.4" r="2.9" fill="#48a268"/>
<circle cx="628.1" cy="540.7" r="2.9" fill="#7ec44e"/>
<circle cx="614.7" cy="600.4" r="2.9" fill="#7ec44e"/>
<circle cx="903.7" cy="579.4" r="2.9" fill="#78b4e0"/>
<circle cx="862" cy="692.5" r="2.9" fill="#48a268"/>
<circle cx="757.3" cy="652.8" r="2.9" fill="#f6a644"/>
<circle cx="803.7" cy="621.3" r="2.9" fill="#f6a644"/>
<circle cx="745" cy="678.3" r="2.9" fill="#ee6228"/>
<circle cx="737" cy="680.6" r="2.9" fill="#d8302a"/>
<circle cx="690.4" cy="678.5" r="2.9" fill="#f6a644"/>
<circle cx="653.1" cy="858.8" r="2.9" fill="#4486c4"/>
<circle cx="769.5" cy="599.9" r="2.9" fill="#e6dc58"/>
<circle cx="830.3" cy="664.7" r="2.9" fill="#7ec44e"/>
<circle cx="686.3" cy="672.1" r="2.9" fill="#4486c4"/>
<circle cx="860.3" cy="637.9" r="2.9" fill="#7ec44e"/>
<circle cx="838.7" cy="607.5" r="2.9" fill="#7ec44e"/>
<circle cx="820.8" cy="665.9" r="2.9" fill="#78b4e0"/>
<circle cx="731.2" cy="663.6" r="2.9" fill="#f6a644"/>
<circle cx="732.6" cy="660.4" r="2.9" fill="#ee6228"/>
<circle cx="779.1" cy="638.3" r="2.9" fill="#48a268"/>
<circle cx="614.5" cy="612.7" r="2.9" fill="#f6a644"/>
<circle cx="837" cy="597.4" r="2.9" fill="#7ec44e"/>
<circle cx="790.2" cy="604.3" r="2.9" fill="#7ec44e"/>
<circle cx="622.6" cy="578.5" r="2.9" fill="#7ec44e"/>
<circle cx="942" cy="596.7" r="2.9" fill="#e6dc58"/>
<circle cx="704" cy="678.4" r="2.9" fill="#d8302a"/>
<circle cx="637.6" cy="541.5" r="2.9" fill="#e6dc58"/>
<circle cx="641.1" cy="779.9" r="2.9" fill="#78b4e0"/>
<circle cx="879.2" cy="672.3" r="2.9" fill="#f6a644"/>
<circle cx="739.5" cy="678.7" r="2.9" fill="#d8302a"/>
<circle cx="843.3" cy="625.8" r="2.9" fill="#e6dc58"/>
<circle cx="717.6" cy="674.8" r="2.9" fill="#f6a644"/>
<circle cx="729.3" cy="664.1" r="2.9" fill="#ee6228"/>
<circle cx="689.6" cy="860" r="2.9" fill="#78b4e0"/>
<circle cx="640.9" cy="549.3" r="2.9" fill="#4486c4"/>
<circle cx="794.7" cy="611.6" r="2.9" fill="#f6a644"/>
<circle cx="883.7" cy="647.8" r="2.9" fill="#d8302a"/>
<circle cx="696.5" cy="677.6" r="2.9" fill="#ee6228"/>
<circle cx="904.1" cy="617.9" r="2.9" fill="#4486c4"/>
<circle cx="912.3" cy="592.3" r="2.9" fill="#4486c4"/>
<circle cx="693.3" cy="676.3" r="2.9" fill="#ee6228"/>
<circle cx="905.4" cy="586.8" r="2.9" fill="#48a268"/>
<circle cx="896.1" cy="536.4" r="2.9" fill="#48a268"/>
<circle cx="641.5" cy="552.6" r="2.9" fill="#4486c4"/>
<circle cx="737.3" cy="686.4" r="2.9" fill="#e6dc58"/>
<circle cx="926.9" cy="599.7" r="2.9" fill="#48a268"/>
<circle cx="724.4" cy="664.5" r="2.9" fill="#e6dc58"/>
<circle cx="748.8" cy="667.2" r="2.9" fill="#d8302a"/>
<circle cx="778" cy="604.9" r="2.9" fill="#ee6228"/>
<circle cx="631" cy="841.2" r="2.9" fill="#48a268"/>
<circle cx="820.8" cy="646.1" r="2.9" fill="#4486c4"/>
<circle cx="847" cy="629.4" r="2.9" fill="#e6dc58"/>
<circle cx="852.3" cy="646.2" r="2.9" fill="#4486c4"/>
<circle cx="919.4" cy="589.5" r="2.9" fill="#f6a644"/>
<circle cx="759.1" cy="644.3" r="2.9" fill="#7ec44e"/>
<circle cx="770.6" cy="616.9" r="2.9" fill="#d8302a"/>
<circle cx="764.4" cy="586.9" r="2.9" fill="#b51a22"/>
<circle cx="897.5" cy="661.7" r="2.9" fill="#78b4e0"/>
<circle cx="855.7" cy="669.9" r="2.9" fill="#48a268"/>
<circle cx="629.4" cy="540.3" r="2.9" fill="#48a268"/>
<circle cx="860.3" cy="641" r="2.9" fill="#ee6228"/>
<circle cx="790.6" cy="613.1" r="2.9" fill="#d8302a"/>
<circle cx="814.2" cy="605.4" r="2.9" fill="#f6a644"/>
<circle cx="816.3" cy="639.1" r="2.9" fill="#4486c4"/>
<circle cx="919" cy="578.4" r="2.9" fill="#7ec44e"/>
<circle cx="868" cy="701" r="2.9" fill="#78b4e0"/>
<circle cx="643.1" cy="859.9" r="2.9" fill="#48a268"/>
<circle cx="821.3" cy="702" r="2.9" fill="#4486c4"/>
<circle cx="791" cy="616.3" r="2.9" fill="#8e1419"/>
<circle cx="906.2" cy="570.3" r="2.9" fill="#78b4e0"/>
<circle cx="676.2" cy="661.7" r="2.9" fill="#78b4e0"/>
<circle cx="756.9" cy="643.7" r="2.9" fill="#7ec44e"/>
<circle cx="755.1" cy="674.9" r="2.9" fill="#ee6228"/>
<circle cx="676.6" cy="678.1" r="2.9" fill="#b8e2f6"/>
<circle cx="680.7" cy="683.4" r="2.9" fill="#78b4e0"/>
<circle cx="617.2" cy="600.8" r="2.9" fill="#48a268"/>
<circle cx="671.4" cy="733.5" r="2.9" fill="#b8e2f6"/>
<circle cx="800.5" cy="606.7" r="2.9" fill="#7ec44e"/>
<circle cx="812.1" cy="594.2" r="2.9" fill="#e6dc58"/>
<circle cx="658" cy="762.5" r="2.9" fill="#78b4e0"/>
<circle cx="662.4" cy="790.2" r="2.9" fill="#78b4e0"/>
<circle cx="646.6" cy="533.5" r="2.9" fill="#7ec44e"/>
<circle cx="868" cy="736" r="2.9" fill="#b8e2f6"/>
<circle cx="719.4" cy="657.7" r="2.9" fill="#ee6228"/>
<circle cx="795.2" cy="621" r="2.9" fill="#d8302a"/>
<circle cx="798.7" cy="614.3" r="2.9" fill="#d8302a"/>
<circle cx="869.1" cy="749" r="2.9" fill="#b8e2f6"/>
<circle cx="660.6" cy="801.7" r="2.9" fill="#78b4e0"/>
<circle cx="920.9" cy="575.9" r="2.9" fill="#48a268"/>
<circle cx="929.6" cy="592.7" r="2.9" fill="#ee6228"/>
<circle cx="855.9" cy="669" r="2.9" fill="#4486c4"/>
<circle cx="755.1" cy="680.5" r="2.9" fill="#b51a22"/>
<circle cx="798.6" cy="585.8" r="2.9" fill="#4486c4"/>
<circle cx="616.3" cy="604.5" r="2.9" fill="#7ec44e"/>
<circle cx="929.4" cy="584.3" r="2.9" fill="#e6dc58"/>
<circle cx="615.8" cy="596.4" r="2.9" fill="#7ec44e"/>
<circle cx="856.3" cy="642" r="2.9" fill="#7ec44e"/>
<circle cx="617.1" cy="607.2" r="2.9" fill="#7ec44e"/>
<circle cx="644.2" cy="822.1" r="2.9" fill="#4486c4"/>
<circle cx="694.9" cy="671.7" r="2.9" fill="#ee6228"/>
<circle cx="930.9" cy="590" r="2.9" fill="#48a268"/>
<circle cx="900.7" cy="558.2" r="2.9" fill="#48a268"/>
<circle cx="799.8" cy="596.6" r="2.9" fill="#f6a644"/>
<circle cx="863.7" cy="678.8" r="2.9" fill="#48a268"/>
<circle cx="819.3" cy="648.2" r="2.9" fill="#7ec44e"/>
<circle cx="833.9" cy="647.1" r="2.9" fill="#7ec44e"/>
<circle cx="766.8" cy="608" r="2.9" fill="#b51a22"/>
<circle cx="647.4" cy="846.7" r="2.9" fill="#48a268"/>
<circle cx="664.5" cy="801" r="2.9" fill="#b8e2f6"/>
<circle cx="786.9" cy="604.6" r="2.9" fill="#d8302a"/>
<circle cx="637.1" cy="860" r="2.9" fill="#48a268"/>
<circle cx="872.3" cy="680" r="2.9" fill="#78b4e0"/>
<circle cx="614.5" cy="598.3" r="2.9" fill="#7ec44e"/>
<circle cx="936.3" cy="591.2" r="2.9" fill="#48a268"/>
<circle cx="837.4" cy="594.6" r="2.9" fill="#e6dc58"/>
<circle cx="822.2" cy="639.3" r="2.9" fill="#48a268"/>
<circle cx="928" cy="572.7" r="2.9" fill="#f6a644"/>
<circle cx="697.2" cy="679.3" r="2.9" fill="#f6a644"/>
<circle cx="793" cy="619.5" r="2.9" fill="#d8302a"/>
<circle cx="685.4" cy="698.6" r="2.9" fill="#b8e2f6"/>
<circle cx="733.6" cy="678.2" r="2.9" fill="#e6dc58"/>
<circle cx="635.4" cy="534" r="2.9" fill="#4486c4"/>
<circle cx="760" cy="648.2" r="2.9" fill="#f6a644"/>
<circle cx="829.5" cy="616.5" r="2.9" fill="#48a268"/>
<circle cx="614.5" cy="601.1" r="2.9" fill="#7ec44e"/>
<circle cx="648" cy="854.7" r="2.9" fill="#48a268"/>
<circle cx="884.9" cy="649.6" r="2.9" fill="#f6a644"/>
<circle cx="681.1" cy="703.5" r="2.9" fill="#78b4e0"/>
<circle cx="907.8" cy="585" r="2.9" fill="#7ec44e"/>
<circle cx="677.5" cy="698.9" r="2.9" fill="#78b4e0"/>
<circle cx="854.8" cy="645.4" r="2.9" fill="#7ec44e"/>
<circle cx="708.3" cy="682.8" r="2.9" fill="#d8302a"/>
<circle cx="651.3" cy="846.9" r="2.9" fill="#4486c4"/>
<circle cx="835.5" cy="599.1" r="2.9" fill="#7ec44e"/>
<circle cx="850.2" cy="652" r="2.9" fill="#4486c4"/>
<circle cx="817.8" cy="631.3" r="2.9" fill="#48a268"/>
<circle cx="671.6" cy="719.8" r="2.9" fill="#78b4e0"/>
<circle cx="800" cy="624.7" r="2.9" fill="#48a268"/>
<circle cx="842.6" cy="640.9" r="2.9" fill="#e6dc58"/>
<circle cx="873.7" cy="678.5" r="2.9" fill="#78b4e0"/>
<circle cx="808.6" cy="595.9" r="2.9" fill="#e6dc58"/>
<circle cx="620.6" cy="588.7" r="2.9" fill="#7ec44e"/>
<circle cx="619.9" cy="587.2" r="2.9" fill="#e6dc58"/>
<circle cx="705.3" cy="667.5" r="2.9" fill="#ee6228"/>
<circle cx="858" cy="618" r="2.9" fill="#48a268"/>
<circle cx="638.4" cy="852.6" r="2.9" fill="#78b4e0"/>
<circle cx="624" cy="575.7" r="2.9" fill="#48a268"/>
<circle cx="801.4" cy="624.2" r="2.9" fill="#ee6228"/>
<circle cx="617.7" cy="592" r="2.9" fill="#48a268"/>
<circle cx="796.3" cy="583.9" r="2.9" fill="#48a268"/>
<circle cx="639.7" cy="845.2" r="2.9" fill="#48a268"/>
<circle cx="897.8" cy="542" r="2.9" fill="#7ec44e"/>
<circle cx="767.3" cy="609.3" r="2.9" fill="#e6dc58"/>
<circle cx="692.9" cy="651.7" r="2.9" fill="#78b4e0"/>
<circle cx="615.8" cy="577.9" r="2.9" fill="#4486c4"/>
<circle cx="752.2" cy="671.1" r="2.9" fill="#ee6228"/>
<circle cx="839.9" cy="622.6" r="2.9" fill="#48a268"/>
<circle cx="878.8" cy="673" r="2.9" fill="#ee6228"/>
<circle cx="851.3" cy="657.7" r="2.9" fill="#78b4e0"/>
<circle cx="672.5" cy="680.1" r="2.9" fill="#78b4e0"/>
<circle cx="636.5" cy="851.2" r="2.9" fill="#7ec44e"/>
<circle cx="627.2" cy="559.4" r="2.9" fill="#7ec44e"/>
<circle cx="668.3" cy="740.2" r="2.9" fill="#b8e2f6"/>
<circle cx="816" cy="639.7" r="2.9" fill="#48a268"/>
<circle cx="910.6" cy="594.1" r="2.9" fill="#4486c4"/>
<circle cx="737.9" cy="683.4" r="2.9" fill="#f6a644"/>
<circle cx="663.2" cy="793.9" r="2.9" fill="#b8e2f6"/>
<circle cx="645.6" cy="842.6" r="2.9" fill="#48a268"/>
<circle cx="648.7" cy="532.5" r="2.9" fill="#48a268"/>
<circle cx="650.8" cy="543.4" r="2.9" fill="#4486c4"/>
<circle cx="664.9" cy="804.2" r="2.9" fill="#78b4e0"/>
<circle cx="618.3" cy="607.2" r="2.9" fill="#48a268"/>
<circle cx="898.3" cy="548.8" r="2.9" fill="#4486c4"/>
<circle cx="800.4" cy="634.1" r="2.9" fill="#48a268"/>
<circle cx="641.4" cy="769" r="2.9" fill="#78b4e0"/>
<circle cx="761.1" cy="594" r="2.9" fill="#e6dc58"/>
<circle cx="734" cy="656.6" r="2.9" fill="#7ec44e"/>
<circle cx="800.8" cy="595" r="2.9" fill="#e6dc58"/>
<circle cx="801.8" cy="596.5" r="2.9" fill="#4486c4"/>
<circle cx="707.2" cy="670.2" r="2.9" fill="#b51a22"/>
<circle cx="905.8" cy="591.2" r="2.9" fill="#7ec44e"/>
<circle cx="805.9" cy="600.8" r="2.9" fill="#7ec44e"/>
<circle cx="639.9" cy="856.9" r="2.9" fill="#7ec44e"/>
<circle cx="721.1" cy="669.6" r="2.9" fill="#b51a22"/>
<circle cx="615" cy="608" r="2.9" fill="#7ec44e"/>
<circle cx="627" cy="581.4" r="2.9" fill="#4486c4"/>
<circle cx="659" cy="772.6" r="2.9" fill="#78b4e0"/>
<circle cx="695.4" cy="677.6" r="2.9" fill="#f6a644"/>
<circle cx="884.8" cy="658.7" r="2.9" fill="#f6a644"/>
<circle cx="740" cy="670" r="2.9" fill="#d8302a"/>
<circle cx="733.2" cy="668.4" r="2.9" fill="#ee6228"/>
<circle cx="724.8" cy="669.4" r="2.9" fill="#ee6228"/>
<circle cx="622.2" cy="577.1" r="2.9" fill="#e6dc58"/>
<circle cx="828" cy="694.3" r="2.9" fill="#78b4e0"/>
<circle cx="616.5" cy="604.3" r="2.9" fill="#48a268"/>
<circle cx="874.6" cy="697.1" r="2.9" fill="#4486c4"/>
<circle cx="650.7" cy="854.4" r="2.9" fill="#78b4e0"/>
<circle cx="689.1" cy="692.3" r="2.9" fill="#b8e2f6"/>
<circle cx="929.1" cy="585.4" r="2.9" fill="#7ec44e"/>
<circle cx="796.8" cy="598.6" r="2.9" fill="#ee6228"/>
<circle cx="905.4" cy="618" r="2.9" fill="#4486c4"/>
<circle cx="796.4" cy="572.8" r="2.9" fill="#7ec44e"/>
<circle cx="893.7" cy="621.3" r="2.9" fill="#f6a644"/>
<circle cx="681.7" cy="561.5" r="2.9" fill="#b8e2f6"/>
<circle cx="617.9" cy="593.9" r="2.9" fill="#48a268"/>
<circle cx="911.7" cy="591.4" r="2.9" fill="#f6a644"/>
<circle cx="795.3" cy="584" r="2.9" fill="#e6dc58"/>
<circle cx="884" cy="645.2" r="2.9" fill="#ee6228"/>
<circle cx="800.8" cy="631.7" r="2.9" fill="#48a268"/>
<circle cx="880.4" cy="663.4" r="2.9" fill="#ee6228"/>
<circle cx="802.4" cy="581" r="2.9" fill="#e6dc58"/>
<circle cx="801.3" cy="631.9" r="2.9" fill="#48a268"/>
<circle cx="901.7" cy="564.3" r="2.9" fill="#78b4e0"/>
<circle cx="650.2" cy="839.3" r="2.9" fill="#48a268"/>
<circle cx="623" cy="556.6" r="2.9" fill="#7ec44e"/>
<circle cx="902.1" cy="532.5" r="2.9" fill="#7ec44e"/>
<circle cx="683.6" cy="827.9" r="2.9" fill="#b8e2f6"/>
<circle cx="851.6" cy="653.1" r="2.9" fill="#4486c4"/>
<circle cx="649.3" cy="535" r="2.9" fill="#48a268"/>
<circle cx="796.3" cy="586.8" r="2.9" fill="#4486c4"/>
<circle cx="664.6" cy="810.7" r="2.9" fill="#78b4e0"/>
<circle cx="627" cy="550.9" r="2.9" fill="#48a268"/>
<circle cx="788.4" cy="593.2" r="2.9" fill="#b51a22"/>
<circle cx="759.1" cy="586.8" r="2.9" fill="#ee6228"/>
<circle cx="639.4" cy="776.6" r="2.9" fill="#78b4e0"/>
<circle cx="639.5" cy="765" r="2.9" fill="#78b4e0"/>
<circle cx="909" cy="582.5" r="2.9" fill="#7ec44e"/>
<circle cx="681.7" cy="696.1" r="2.9" fill="#b8e2f6"/>
<circle cx="854" cy="621.3" r="2.9" fill="#f6a644"/>
<circle cx="926.4" cy="578.7" r="2.9" fill="#4486c4"/>
<circle cx="847.8" cy="649.2" r="2.9" fill="#48a268"/>
<circle cx="644" cy="836.1" r="2.9" fill="#78b4e0"/>
<circle cx="901.1" cy="557.8" r="2.9" fill="#4486c4"/>
<circle cx="745.9" cy="674" r="2.9" fill="#d8302a"/>
<circle cx="652.5" cy="549.6" r="2.9" fill="#4486c4"/>
<circle cx="684" cy="819.2" r="2.9" fill="#b8e2f6"/>
<circle cx="614.6" cy="590.3" r="2.9" fill="#48a268"/>
<circle cx="662.6" cy="771.3" r="2.9" fill="#78b4e0"/>
<circle cx="904.7" cy="581" r="2.9" fill="#7ec44e"/>
<circle cx="678.2" cy="569" r="2.9" fill="#b8e2f6"/>
<circle cx="632.3" cy="537.1" r="2.9" fill="#4486c4"/>
<circle cx="714.2" cy="678.1" r="2.9" fill="#ee6228"/>
<circle cx="686.7" cy="675.8" r="2.9" fill="#4486c4"/>
<circle cx="618.6" cy="569.4" r="2.9" fill="#7ec44e"/>
<circle cx="625.8" cy="547.9" r="2.9" fill="#7ec44e"/>
<circle cx="902.5" cy="574.1" r="2.9" fill="#48a268"/>
<circle cx="800" cy="578.7" r="2.9" fill="#7ec44e"/>
<circle cx="688" cy="646" r="2.9" fill="#78b4e0"/>
<circle cx="691.1" cy="640.4" r="2.9" fill="#78b4e0"/>
<circle cx="707" cy="664.7" r="2.9" fill="#d8302a"/>
<circle cx="885" cy="646.3" r="2.9" fill="#ee6228"/>
<circle cx="676.3" cy="671.2" r="2.9" fill="#b8e2f6"/>
<circle cx="828" cy="653.2" r="2.9" fill="#7ec44e"/>
<circle cx="665.8" cy="735.3" r="2.9" fill="#b8e2f6"/>
<circle cx="683.4" cy="700.2" r="2.9" fill="#b8e2f6"/>
<circle cx="843.9" cy="631.2" r="2.9" fill="#7ec44e"/>
<circle cx="628" cy="548.4" r="2.9" fill="#e6dc58"/>
<circle cx="618.8" cy="580.9" r="2.9" fill="#7ec44e"/>
<circle cx="793.2" cy="605.6" r="2.9" fill="#d8302a"/>
<circle cx="846.3" cy="641.2" r="2.9" fill="#7ec44e"/>
<circle cx="616" cy="579.9" r="2.9" fill="#e6dc58"/>
<circle cx="676.9" cy="760" r="2.9" fill="#78b4e0"/>
<circle cx="800.8" cy="602.6" r="2.9" fill="#f6a644"/>
<circle cx="645.9" cy="860" r="2.9" fill="#48a268"/>
<circle cx="647.9" cy="857.7" r="2.9" fill="#48a268"/>
<circle cx="898.2" cy="749" r="2.9" fill="#b8e2f6"/>
<circle cx="883.4" cy="656.9" r="2.9" fill="#f6a644"/>
<circle cx="623.6" cy="600.5" r="2.9" fill="#7ec44e"/>
<circle cx="903.8" cy="651.5" r="2.9" fill="#b8e2f6"/>
<circle cx="820.9" cy="658.7" r="2.9" fill="#48a268"/>
<circle cx="631.7" cy="534.1" r="2.9" fill="#7ec44e"/>
<circle cx="897.8" cy="704.5" r="2.9" fill="#b8e2f6"/>
<circle cx="809.2" cy="608.7" r="2.9" fill="#7ec44e"/>
<circle cx="695.7" cy="686.4" r="2.9" fill="#ee6228"/>
<circle cx="691.1" cy="691.4" r="2.9" fill="#e6dc58"/>
<circle cx="683.7" cy="823.7" r="2.9" fill="#b8e2f6"/>
<circle cx="781.2" cy="646.7" r="2.9" fill="#7ec44e"/>
<circle cx="647.5" cy="826.1" r="2.9" fill="#48a268"/>
<circle cx="908.6" cy="593.9" r="2.9" fill="#48a268"/>
<circle cx="748.7" cy="669.1" r="2.9" fill="#f6a644"/>
<circle cx="628.5" cy="545.3" r="2.9" fill="#7ec44e"/>
<circle cx="923.7" cy="607.9" r="2.9" fill="#e6dc58"/>
<circle cx="841.7" cy="644" r="2.9" fill="#48a268"/>
<circle cx="915.7" cy="583.1" r="2.9" fill="#e6dc58"/>
<circle cx="860.1" cy="687.2" r="2.9" fill="#48a268"/>
<circle cx="869.1" cy="737" r="2.9" fill="#78b4e0"/>
<circle cx="664.5" cy="794.9" r="2.9" fill="#78b4e0"/>
<circle cx="835" cy="583" r="2.9" fill="#7ec44e"/>
<circle cx="769.5" cy="592.5" r="2.9" fill="#8e1419"/>
<circle cx="692.1" cy="648.4" r="2.9" fill="#4486c4"/>
<circle cx="829.4" cy="674.4" r="2.9" fill="#48a268"/>
<circle cx="649.3" cy="854.3" r="2.9" fill="#4486c4"/>
<circle cx="767.2" cy="594.8" r="2.9" fill="#ee6228"/>
<circle cx="816.7" cy="650.7" r="2.9" fill="#78b4e0"/>
<circle cx="908.8" cy="594.9" r="2.9" fill="#4486c4"/>
<circle cx="836.8" cy="577.7" r="2.9" fill="#7ec44e"/>
<circle cx="618" cy="583.5" r="2.9" fill="#7ec44e"/>
<circle cx="682.9" cy="546.9" r="2.9" fill="#b8e2f6"/>
<circle cx="808.1" cy="591.1" r="2.9" fill="#7ec44e"/>
<circle cx="756" cy="670.7" r="2.9" fill="#e6dc58"/>
<circle cx="928" cy="617.6" r="2.9" fill="#f6a644"/>
<circle cx="870.8" cy="689.2" r="2.9" fill="#48a268"/>
<circle cx="912.9" cy="586.3" r="2.9" fill="#48a268"/>
<circle cx="799.7" cy="629.5" r="2.9" fill="#48a268"/>
<circle cx="727.2" cy="662.4" r="2.9" fill="#f6a644"/>
<circle cx="773" cy="602" r="2.9" fill="#b51a22"/>
<circle cx="626.3" cy="549.2" r="2.9" fill="#4486c4"/>
<circle cx="901.3" cy="605.7" r="2.9" fill="#4486c4"/>
<circle cx="777" cy="609.1" r="2.9" fill="#d8302a"/>
<circle cx="661.9" cy="763.7" r="2.9" fill="#4486c4"/>
<circle cx="651.3" cy="848.2" r="2.9" fill="#7ec44e"/>
<circle cx="749.2" cy="674.6" r="2.9" fill="#d8302a"/>
<circle cx="778.4" cy="605.3" r="2.9" fill="#b51a22"/>
<circle cx="791.3" cy="593.3" r="2.9" fill="#e6dc58"/>
<circle cx="829.7" cy="652.8" r="2.9" fill="#48a268"/>
<circle cx="788.5" cy="569.3" r="2.9" fill="#7ec44e"/>
<circle cx="626.2" cy="545.1" r="2.9" fill="#7ec44e"/>
<circle cx="819.5" cy="641.6" r="2.9" fill="#4486c4"/>
<circle cx="760.1" cy="598.3" r="2.9" fill="#e6dc58"/>
<circle cx="648.4" cy="850.7" r="2.9" fill="#7ec44e"/>
<circle cx="876.1" cy="683.8" r="2.9" fill="#48a268"/>
<circle cx="666.4" cy="803.2" r="2.9" fill="#78b4e0"/>
<circle cx="715.7" cy="668.5" r="2.9" fill="#ee6228"/>
<circle cx="932.9" cy="622.9" r="2.9" fill="#f6a644"/>
<circle cx="617.7" cy="589.4" r="2.9" fill="#48a268"/>
<circle cx="837.3" cy="639.6" r="2.9" fill="#f6a644"/>
<circle cx="794.4" cy="616.8" r="2.9" fill="#b51a22"/>
<circle cx="709.5" cy="672.4" r="2.9" fill="#ee6228"/>
<circle cx="899.4" cy="788.8" r="2.9" fill="#78b4e0"/>
<circle cx="933.3" cy="579.1" r="2.9" fill="#48a268"/>
<circle cx="901.2" cy="555.9" r="2.9" fill="#48a268"/>
<circle cx="827.1" cy="655.4" r="2.9" fill="#48a268"/>
<circle cx="778" cy="619.9" r="2.9" fill="#ee6228"/>
<circle cx="798.4" cy="613.5" r="2.9" fill="#f6a644"/>
<circle cx="750.9" cy="680.5" r="2.9" fill="#f6a644"/>
<circle cx="762.1" cy="593.1" r="2.9" fill="#f6a644"/>
<circle cx="772.6" cy="612.9" r="2.9" fill="#8e1419"/>
<circle cx="835.7" cy="625.5" r="2.9" fill="#7ec44e"/>
<circle cx="692.6" cy="684.9" r="2.9" fill="#d8302a"/>
<circle cx="778.1" cy="621.1" r="2.9" fill="#d8302a"/>
<circle cx="907.3" cy="579.2" r="2.9" fill="#4486c4"/>
<circle cx="646.8" cy="536" r="2.9" fill="#4486c4"/>
<circle cx="658.9" cy="782.6" r="2.9" fill="#78b4e0"/>
<circle cx="817.9" cy="626.7" r="2.9" fill="#4486c4"/>
<circle cx="709.5" cy="667.7" r="2.9" fill="#ee6228"/>
<circle cx="874.1" cy="679.7" r="2.9" fill="#78b4e0"/>
<circle cx="767.9" cy="610.3" r="2.9" fill="#8e1419"/>
<circle cx="847.1" cy="636.6" r="2.9" fill="#7ec44e"/>
<circle cx="687.1" cy="856.5" r="2.9" fill="#b8e2f6"/>
<circle cx="870.8" cy="680.7" r="2.9" fill="#4486c4"/>
<circle cx="880" cy="662.5" r="2.9" fill="#f6a644"/>
<circle cx="689.9" cy="613.3" r="2.9" fill="#78b4e0"/>
<circle cx="680.4" cy="691.8" r="2.9" fill="#b8e2f6"/>
<circle cx="800" cy="607.5" r="2.9" fill="#b51a22"/>
<circle cx="620.3" cy="590.4" r="2.9" fill="#7ec44e"/>
<circle cx="808.6" cy="610.4" r="2.9" fill="#4486c4"/>
<circle cx="806.9" cy="576.7" r="2.9" fill="#7ec44e"/>
<circle cx="618.4" cy="592.2" r="2.9" fill="#7ec44e"/>
<circle cx="701.7" cy="667.9" r="2.9" fill="#f6a644"/>
<circle cx="687" cy="840.9" r="2.9" fill="#78b4e0"/>
<circle cx="843.8" cy="640.6" r="2.9" fill="#48a268"/>
<circle cx="645.4" cy="822.5" r="2.9" fill="#48a268"/>
<circle cx="787.9" cy="614.2" r="2.9" fill="#d8302a"/>
<circle cx="915.8" cy="600.3" r="2.9" fill="#48a268"/>
<circle cx="837" cy="601.1" r="2.9" fill="#e6dc58"/>
<circle cx="797.3" cy="613.3" r="2.9" fill="#b51a22"/>
<circle cx="850.5" cy="639.7" r="2.9" fill="#7ec44e"/>
<circle cx="818.5" cy="650" r="2.9" fill="#4486c4"/>
<circle cx="626.4" cy="554.2" r="2.9" fill="#7ec44e"/>
<circle cx="801.7" cy="573.6" r="2.9" fill="#7ec44e"/>
<circle cx="677.2" cy="569.8" r="2.9" fill="#b8e2f6"/>
<circle cx="651.1" cy="560.9" r="2.9" fill="#4486c4"/>
<circle cx="859.2" cy="663.5" r="2.9" fill="#48a268"/>
<circle cx="857.7" cy="629.3" r="2.9" fill="#7ec44e"/>
<circle cx="816.4" cy="637.2" r="2.9" fill="#48a268"/>
<circle cx="932.7" cy="626.5" r="2.9" fill="#ee6228"/>
<circle cx="625.5" cy="542.7" r="2.9" fill="#e6dc58"/>
<circle cx="749.6" cy="682.4" r="2.9" fill="#d8302a"/>
<circle cx="616.2" cy="591.9" r="2.9" fill="#48a268"/>
<circle cx="683.6" cy="697" r="2.9" fill="#78b4e0"/>
<circle cx="915" cy="609.2" r="2.9" fill="#48a268"/>
<circle cx="815.8" cy="632.7" r="2.9" fill="#4486c4"/>
<circle cx="661.1" cy="776.7" r="2.9" fill="#78b4e0"/>
<circle cx="932" cy="588.4" r="2.9" fill="#48a268"/>
<circle cx="680.3" cy="704.2" r="2.9" fill="#b8e2f6"/>
<circle cx="821.3" cy="711" r="2.9" fill="#78b4e0"/>
<circle cx="876.2" cy="667.7" r="2.9" fill="#4486c4"/>
<circle cx="935.4" cy="583.5" r="2.9" fill="#48a268"/>
<circle cx="778.5" cy="623.6" r="2.9" fill="#7ec44e"/>
<circle cx="659.2" cy="762.1" r="2.9" fill="#78b4e0"/>
<circle cx="866.8" cy="677.7" r="2.9" fill="#4486c4"/>
<circle cx="895.5" cy="566.2" r="2.9" fill="#48a268"/>
<circle cx="835.5" cy="572" r="2.9" fill="#48a268"/>
<circle cx="683.4" cy="840.2" r="2.9" fill="#b8e2f6"/>
<circle cx="792.3" cy="571.7" r="2.9" fill="#7ec44e"/>
<circle cx="810.3" cy="607.8" r="2.9" fill="#f6a644"/>
<circle cx="633.2" cy="542.5" r="2.9" fill="#e6dc58"/>
<circle cx="765.6" cy="613.2" r="2.9" fill="#d8302a"/>
<circle cx="889.8" cy="631.1" r="2.9" fill="#ee6228"/>
<circle cx="814" cy="616.7" r="2.9" fill="#e6dc58"/>
<circle cx="689.7" cy="674" r="2.9" fill="#78b4e0"/>
<circle cx="847.2" cy="652.2" r="2.9" fill="#e6dc58"/>
<circle cx="902.4" cy="556.6" r="2.9" fill="#48a268"/>
<circle cx="709.3" cy="668.3" r="2.9" fill="#ee6228"/>
<circle cx="723.7" cy="658.3" r="2.9" fill="#e6dc58"/>
<circle cx="912.8" cy="601.2" r="2.9" fill="#48a268"/>
<circle cx="793.2" cy="620" r="2.9" fill="#d8302a"/>
<circle cx="861.2" cy="675.2" r="2.9" fill="#4486c4"/>
<circle cx="615.3" cy="604.4" r="2.9" fill="#7ec44e"/>
<circle cx="797.6" cy="588.5" r="2.9" fill="#4486c4"/>
<circle cx="807.3" cy="597" r="2.9" fill="#7ec44e"/>
<circle cx="917.2" cy="611.6" r="2.9" fill="#7ec44e"/>
<circle cx="630.5" cy="553.4" r="2.9" fill="#4486c4"/>
<circle cx="841.9" cy="637.6" r="2.9" fill="#7ec44e"/>
<circle cx="648.9" cy="848.7" r="2.9" fill="#78b4e0"/>
<circle cx="641.6" cy="780.5" r="2.9" fill="#78b4e0"/>
<circle cx="641.8" cy="753.5" r="2.9" fill="#4486c4"/>
<circle cx="837.3" cy="618.4" r="2.9" fill="#7ec44e"/>
<circle cx="705.9" cy="671.2" r="2.9" fill="#b51a22"/>
<circle cx="684.8" cy="676.3" r="2.9" fill="#78b4e0"/>
<circle cx="650.6" cy="842.5" r="2.9" fill="#4486c4"/>
<circle cx="905.5" cy="626.7" r="2.9" fill="#4486c4"/>
<circle cx="942" cy="590.2" r="2.9" fill="#e6dc58"/>
<circle cx="739" cy="673" r="2.9" fill="#f6a644"/>
<circle cx="701.9" cy="679.9" r="2.9" fill="#ee6228"/>
<circle cx="824.4" cy="689.4" r="2.9" fill="#4486c4"/>
<circle cx="907.8" cy="585.2" r="2.9" fill="#4486c4"/>
<circle cx="938.9" cy="599.4" r="2.9" fill="#f6a644"/>
<circle cx="908.1" cy="622.8" r="2.9" fill="#4486c4"/>
<circle cx="640.4" cy="549.1" r="2.9" fill="#48a268"/>
<circle cx="618.6" cy="575.2" r="2.9" fill="#e6dc58"/>
<circle cx="665.8" cy="737.7" r="2.9" fill="#b8e2f6"/>
<circle cx="628.9" cy="562.7" r="2.9" fill="#7ec44e"/>
<circle cx="877.8" cy="663.2" r="2.9" fill="#ee6228"/>
<circle cx="617.5" cy="583.5" r="2.9" fill="#48a268"/>
<circle cx="709.1" cy="665.8" r="2.9" fill="#f6a644"/>
<circle cx="882.6" cy="663.5" r="2.9" fill="#d8302a"/>
<circle cx="782.8" cy="649" r="2.9" fill="#7ec44e"/>
<circle cx="930.6" cy="572.8" r="2.9" fill="#7ec44e"/>
<circle cx="765.7" cy="598.2" r="2.9" fill="#d8302a"/>
<circle cx="921" cy="605.2" r="2.9" fill="#f6a644"/>
<circle cx="782.4" cy="655" r="2.9" fill="#7ec44e"/>
<circle cx="621.5" cy="592.5" r="2.9" fill="#7ec44e"/>
<circle cx="820.1" cy="662.9" r="2.9" fill="#48a268"/>
<circle cx="854.9" cy="678.4" r="2.9" fill="#4486c4"/>
<circle cx="848.2" cy="649.9" r="2.9" fill="#ee6228"/>
<circle cx="899" cy="756.5" r="2.9" fill="#78b4e0"/>
<circle cx="688.3" cy="647.7" r="2.9" fill="#78b4e0"/>
<circle cx="917.4" cy="598.1" r="2.9" fill="#ee6228"/>
<circle cx="622" cy="580.2" r="2.9" fill="#e6dc58"/>
<circle cx="836.6" cy="610.6" r="2.9" fill="#48a268"/>
<circle cx="671.4" cy="732.6" r="2.9" fill="#b8e2f6"/>
<circle cx="779.4" cy="636.1" r="2.9" fill="#7ec44e"/>
<circle cx="681.3" cy="562.6" r="2.9" fill="#b8e2f6"/>
<circle cx="870" cy="686.4" r="2.9" fill="#48a268"/>
<circle cx="726.9" cy="682.2" r="2.9" fill="#ee6228"/>
<circle cx="647.2" cy="845.8" r="2.9" fill="#48a268"/>
<circle cx="636.6" cy="846.5" r="2.9" fill="#78b4e0"/>
<circle cx="768.3" cy="590" r="2.9" fill="#e6dc58"/>
<circle cx="837.7" cy="594" r="2.9" fill="#7ec44e"/>
<circle cx="665.2" cy="787.8" r="2.9" fill="#78b4e0"/>
<circle cx="759.4" cy="607" r="2.9" fill="#f6a644"/>
<circle cx="734.2" cy="672.8" r="2.9" fill="#7ec44e"/>
<circle cx="896.4" cy="560.7" r="2.9" fill="#7ec44e"/>
<circle cx="640.8" cy="552.9" r="2.9" fill="#78b4e0"/>
<circle cx="640.8" cy="787.8" r="2.9" fill="#78b4e0"/>
<circle cx="806.9" cy="600.4" r="2.9" fill="#4486c4"/>
<circle cx="678.2" cy="692.7" r="2.9" fill="#78b4e0"/>
<circle cx="621.5" cy="567.5" r="2.9" fill="#e6dc58"/>
<circle cx="663" cy="792.1" r="2.9" fill="#b8e2f6"/>
<circle cx="675.4" cy="682.2" r="2.9" fill="#78b4e0"/>
<circle cx="632.6" cy="559.7" r="2.9" fill="#48a268"/>
<circle cx="692.4" cy="651.1" r="2.9" fill="#78b4e0"/>
<circle cx="731.7" cy="663.3" r="2.9" fill="#7ec44e"/>
<circle cx="641.3" cy="756.6" r="2.9" fill="#78b4e0"/>
<circle cx="849.9" cy="642.5" r="2.9" fill="#48a268"/>
<circle cx="822.3" cy="676" r="2.9" fill="#48a268"/>
<circle cx="797.2" cy="606.4" r="2.9" fill="#d8302a"/>
<circle cx="900.8" cy="562.3" r="2.9" fill="#48a268"/>
<circle cx="821.3" cy="692" r="2.9" fill="#4486c4"/>
<circle cx="701.3" cy="676.1" r="2.9" fill="#f6a644"/>
<circle cx="821.1" cy="691.4" r="2.9" fill="#48a268"/>
<circle cx="912.1" cy="606.2" r="2.9" fill="#7ec44e"/>
<circle cx="923.1" cy="580.6" r="2.9" fill="#e6dc58"/>
<circle cx="817" cy="627.9" r="2.9" fill="#48a268"/>
<circle cx="718.7" cy="660.4" r="2.9" fill="#d8302a"/>
<circle cx="630.5" cy="540.5" r="2.9" fill="#e6dc58"/>
<circle cx="679.9" cy="679.7" r="2.9" fill="#b8e2f6"/>
<circle cx="801.4" cy="601.6" r="2.9" fill="#e6dc58"/>
<circle cx="828.7" cy="648.5" r="2.9" fill="#48a268"/>
<circle cx="923.1" cy="597.4" r="2.9" fill="#7ec44e"/>
<circle cx="837" cy="635.4" r="2.9" fill="#f6a644"/>
<circle cx="664.2" cy="737.8" r="2.9" fill="#b8e2f6"/>
<circle cx="622.9" cy="593.6" r="2.9" fill="#48a268"/>
<circle cx="713.1" cy="679.8" r="2.9" fill="#d8302a"/>
<circle cx="928.7" cy="617.9" r="2.9" fill="#ee6228"/>
<circle cx="820.6" cy="683.8" r="2.9" fill="#48a268"/>
<circle cx="931.3" cy="572.9" r="2.9" fill="#48a268"/>
<circle cx="797.2" cy="620.1" r="2.9" fill="#d8302a"/>
<circle cx="768.3" cy="588.2" r="2.9" fill="#8e1419"/>
<circle cx="781.7" cy="653.4" r="2.9" fill="#48a268"/>
<circle cx="684.3" cy="686.9" r="2.9" fill="#78b4e0"/>
<circle cx="640.5" cy="543.1" r="2.9" fill="#7ec44e"/>
<circle cx="890.5" cy="644.8" r="2.9" fill="#d8302a"/>
<circle cx="743" cy="672.5" r="2.9" fill="#f6a644"/>
<circle cx="872.3" cy="675.1" r="2.9" fill="#4486c4"/>
<circle cx="906" cy="621.1" r="2.9" fill="#78b4e0"/>
<circle cx="682.8" cy="820.8" r="2.9" fill="#b8e2f6"/>
<circle cx="688.9" cy="825.9" r="2.9" fill="#b8e2f6"/>
<circle cx="720.1" cy="669.4" r="2.9" fill="#ee6228"/>
<circle cx="831.2" cy="674.7" r="2.9" fill="#48a268"/>
<circle cx="681.1" cy="693.9" r="2.9" fill="#b8e2f6"/>
<circle cx="904.6" cy="594.6" r="2.9" fill="#78b4e0"/>
<circle cx="673" cy="731.5" r="2.9" fill="#78b4e0"/>
<circle cx="837.6" cy="595.4" r="2.9" fill="#7ec44e"/>
<circle cx="856.4" cy="645.5" r="2.9" fill="#7ec44e"/>
<circle cx="814.8" cy="601.1" r="2.9" fill="#e6dc58"/>
<circle cx="634.4" cy="557.2" r="2.9" fill="#4486c4"/>
<circle cx="799.6" cy="599.7" r="2.9" fill="#48a268"/>
<circle cx="836.1" cy="577.1" r="2.9" fill="#7ec44e"/>
<circle cx="906.8" cy="576.6" r="2.9" fill="#4486c4"/>
<circle cx="885.2" cy="657.5" r="2.9" fill="#e6dc58"/>
<circle cx="644.8" cy="533.4" r="2.9" fill="#48a268"/>
<circle cx="617.9" cy="588.4" r="2.9" fill="#48a268"/>
<circle cx="898" cy="535.3" r="2.9" fill="#4486c4"/>
<circle cx="927.8" cy="579.7" r="2.9" fill="#f6a644"/>
<circle cx="841" cy="623.6" r="2.9" fill="#7ec44e"/>
<circle cx="777.6" cy="631" r="2.9" fill="#48a268"/>
<circle cx="817.9" cy="597.2" r="2.9" fill="#7ec44e"/>
<circle cx="819.8" cy="660" r="2.9" fill="#7ec44e"/>
<circle cx="675.6" cy="686.9" r="2.9" fill="#4486c4"/>
<circle cx="801.1" cy="578.8" r="2.9" fill="#f6a644"/>
<circle cx="614.5" cy="613.2" r="2.9" fill="#7ec44e"/>
<circle cx="699.3" cy="683.3" r="2.9" fill="#e6dc58"/>
<circle cx="708.5" cy="671.2" r="2.9" fill="#d8302a"/>
<circle cx="827.5" cy="656.1" r="2.9" fill="#48a268"/>
<circle cx="829.8" cy="655.2" r="2.9" fill="#48a268"/>
<circle cx="854.5" cy="664.7" r="2.9" fill="#4486c4"/>
<circle cx="626.5" cy="577.4" r="2.9" fill="#48a268"/>
<circle cx="618" cy="564.9" r="2.9" fill="#7ec44e"/>
<circle cx="711.9" cy="671.3" r="2.9" fill="#ee6228"/>
<circle cx="674.4" cy="660.4" r="2.9" fill="#b8e2f6"/>
<circle cx="678.8" cy="599.1" r="2.9" fill="#b8e2f6"/>
<circle cx="651.4" cy="558.5" r="2.9" fill="#4486c4"/>
<circle cx="842.8" cy="628.9" r="2.9" fill="#e6dc58"/>
<circle cx="626.5" cy="536.1" r="2.9" fill="#7ec44e"/>
<circle cx="757.4" cy="661.9" r="2.9" fill="#7ec44e"/>
<circle cx="862.9" cy="667.6" r="2.9" fill="#4486c4"/>
<circle cx="661.6" cy="796.9" r="2.9" fill="#78b4e0"/>
<circle cx="763.2" cy="584.6" r="2.9" fill="#f6a644"/>
<circle cx="794.2" cy="584.6" r="2.9" fill="#7ec44e"/>
<circle cx="830" cy="647.9" r="2.9" fill="#48a268"/>
<circle cx="840" cy="644.9" r="2.9" fill="#f6a644"/>
<circle cx="630.3" cy="552.9" r="2.9" fill="#7ec44e"/>
<circle cx="915.8" cy="594" r="2.9" fill="#48a268"/>
<circle cx="616.4" cy="603.8" r="2.9" fill="#7ec44e"/>
<circle cx="662.5" cy="818.4" r="2.9" fill="#78b4e0"/>
<circle cx="693.7" cy="688.9" r="2.9" fill="#d8302a"/>
<circle cx="872.1" cy="683.9" r="2.9" fill="#4486c4"/>
<circle cx="795.5" cy="577.8" r="2.9" fill="#4486c4"/>
<circle cx="627.6" cy="552.4" r="2.9" fill="#e6dc58"/>
<circle cx="618.2" cy="607.3" r="2.9" fill="#4486c4"/>
<circle cx="683.9" cy="851.4" r="2.9" fill="#b8e2f6"/>
<circle cx="858.8" cy="672.4" r="2.9" fill="#4486c4"/>
<circle cx="615.8" cy="561.1" r="2.9" fill="#4486c4"/>
<circle cx="775.6" cy="604.8" r="2.9" fill="#f6a644"/>
<circle cx="904.8" cy="615.7" r="2.9" fill="#4486c4"/>
<circle cx="749.7" cy="679.6" r="2.9" fill="#b51a22"/>
<circle cx="666" cy="818" r="2.9" fill="#78b4e0"/>
<circle cx="628.6" cy="552.9" r="2.9" fill="#48a268"/>
<circle cx="709.3" cy="676" r="2.9" fill="#f6a644"/>
<circle cx="754.7" cy="657.1" r="2.9" fill="#e6dc58"/>
<circle cx="784.5" cy="650.4" r="2.9" fill="#48a268"/>
<circle cx="642.2" cy="754.7" r="2.9" fill="#78b4e0"/>
<circle cx="770.2" cy="637" r="2.9" fill="#48a268"/>
<circle cx="639.6" cy="846.7" r="2.9" fill="#4486c4"/>
<circle cx="798" cy="622.6" r="2.9" fill="#b51a22"/>
<circle cx="768.1" cy="590.2" r="2.9" fill="#b51a22"/>
<circle cx="688.9" cy="670.2" r="2.9" fill="#78b4e0"/>
<circle cx="850.5" cy="622.1" r="2.9" fill="#48a268"/>
<circle cx="922.3" cy="582.9" r="2.9" fill="#48a268"/>
<circle cx="781.4" cy="637.8" r="2.9" fill="#7ec44e"/>
<circle cx="691.5" cy="685.8" r="2.9" fill="#ee6228"/>
<circle cx="705" cy="679.2" r="2.9" fill="#ee6228"/>
<circle cx="707.5" cy="673.2" r="2.9" fill="#ee6228"/>
<circle cx="822.4" cy="640.3" r="2.9" fill="#4486c4"/>
<circle cx="861" cy="705" r="2.9" fill="#78b4e0"/>
<circle cx="772.1" cy="592.5" r="2.9" fill="#b51a22"/>
<circle cx="676.6" cy="767.7" r="2.9" fill="#b8e2f6"/>
<circle cx="869.7" cy="674.9" r="2.9" fill="#4486c4"/>
<circle cx="684.1" cy="679.4" r="2.9" fill="#78b4e0"/>
<circle cx="897.1" cy="532.5" r="2.9" fill="#4486c4"/>
<circle cx="618.7" cy="579.4" r="2.9" fill="#4486c4"/>
<circle cx="848.9" cy="630" r="2.9" fill="#7ec44e"/>
<circle cx="705.4" cy="680.9" r="2.9" fill="#e6dc58"/>
<circle cx="660" cy="796.8" r="2.9" fill="#78b4e0"/>
<circle cx="735.3" cy="661.7" r="2.9" fill="#e6dc58"/>
<circle cx="888" cy="620.4" r="2.9" fill="#ee6228"/>
<circle cx="821.6" cy="699" r="2.9" fill="#4486c4"/>
<circle cx="617.4" cy="586.4" r="2.9" fill="#7ec44e"/>
<circle cx="735.1" cy="675.7" r="2.9" fill="#e6dc58"/>
<circle cx="683.5" cy="673.2" r="2.9" fill="#78b4e0"/>
<circle cx="694.1" cy="673.5" r="2.9" fill="#f6a644"/>
<circle cx="645.2" cy="855" r="2.9" fill="#7ec44e"/>
<circle cx="859.7" cy="683.3" r="2.9" fill="#78b4e0"/>
<circle cx="662.5" cy="802.4" r="2.9" fill="#78b4e0"/>
<circle cx="661.3" cy="794" r="2.9" fill="#78b4e0"/>
<circle cx="871.8" cy="694.8" r="2.9" fill="#4486c4"/>
<circle cx="850.2" cy="635.8" r="2.9" fill="#7ec44e"/>
<circle cx="855.2" cy="632" r="2.9" fill="#e6dc58"/>
<circle cx="899.9" cy="845.5" r="2.9" fill="#78b4e0"/>
<circle cx="671.1" cy="731.8" r="2.9" fill="#b8e2f6"/>
<circle cx="889.2" cy="635.8" r="2.9" fill="#ee6228"/>
<circle cx="912.7" cy="606.1" r="2.9" fill="#e6dc58"/>
<circle cx="780.8" cy="656.9" r="2.9" fill="#48a268"/>
<circle cx="658.1" cy="801.7" r="2.9" fill="#78b4e0"/>
<circle cx="803.1" cy="577.9" r="2.9" fill="#7ec44e"/>
<circle cx="799.1" cy="621.6" r="2.9" fill="#b51a22"/>
<circle cx="922.2" cy="593" r="2.9" fill="#7ec44e"/>
<circle cx="789.2" cy="619.7" r="2.9" fill="#ee6228"/>
<circle cx="870.6" cy="680.7" r="2.9" fill="#48a268"/>
<circle cx="788.1" cy="597.7" r="2.9" fill="#e6dc58"/>
<circle cx="900.3" cy="550.5" r="2.9" fill="#48a268"/>
<circle cx="935.9" cy="600.6" r="2.9" fill="#7ec44e"/>
<circle cx="652.7" cy="580.3" r="2.9" fill="#78b4e0"/>
<circle cx="644.1" cy="825.4" r="2.9" fill="#48a268"/>
<circle cx="614.5" cy="587.5" r="2.9" fill="#7ec44e"/>
<circle cx="937.8" cy="589.1" r="2.9" fill="#48a268"/>
<circle cx="787.7" cy="666.1" r="2.9" fill="#48a268"/>
<circle cx="657.7" cy="797.9" r="2.9" fill="#78b4e0"/>
<circle cx="795.8" cy="622" r="2.9" fill="#b51a22"/>
<circle cx="675.3" cy="739.9" r="2.9" fill="#b8e2f6"/>
<circle cx="730.6" cy="680.7" r="2.9" fill="#7ec44e"/>
<circle cx="690.4" cy="693.4" r="2.9" fill="#b8e2f6"/>
<circle cx="629.1" cy="541.1" r="2.9" fill="#48a268"/>
<circle cx="817.4" cy="646.4" r="2.9" fill="#48a268"/>
<circle cx="871.3" cy="692.2" r="2.9" fill="#4486c4"/>
<circle cx="765.5" cy="606" r="2.9" fill="#ee6228"/>
<circle cx="686.2" cy="659.7" r="2.9" fill="#78b4e0"/>
<circle cx="883.7" cy="665.1" r="2.9" fill="#ee6228"/>
<circle cx="619.9" cy="592.8" r="2.9" fill="#48a268"/>
<circle cx="687.7" cy="661.9" r="2.9" fill="#4486c4"/>
<circle cx="748.2" cy="676" r="2.9" fill="#ee6228"/>
<circle cx="894.2" cy="537.7" r="2.9" fill="#7ec44e"/>
<circle cx="844.5" cy="650.1" r="2.9" fill="#7ec44e"/>
<circle cx="792.8" cy="571.3" r="2.9" fill="#e6dc58"/>
<circle cx="684.8" cy="654.4" r="2.9" fill="#4486c4"/>
<circle cx="680" cy="562.8" r="2.9" fill="#b8e2f6"/>
<circle cx="759.7" cy="641.6" r="2.9" fill="#7ec44e"/>
<circle cx="711.3" cy="663.4" r="2.9" fill="#ee6228"/>
<circle cx="830.6" cy="620.3" r="2.9" fill="#48a268"/>
<circle cx="854.5" cy="632.7" r="2.9" fill="#e6dc58"/>
<circle cx="616.3" cy="612.2" r="2.9" fill="#7ec44e"/>
<circle cx="675.3" cy="670.4" r="2.9" fill="#b8e2f6"/>
<circle cx="703.1" cy="680.4" r="2.9" fill="#e6dc58"/>
<circle cx="797.6" cy="587.5" r="2.9" fill="#4486c4"/>
<circle cx="731.1" cy="658.3" r="2.9" fill="#f6a644"/>
<circle cx="850.1" cy="626.8" r="2.9" fill="#7ec44e"/>
<circle cx="625.5" cy="559" r="2.9" fill="#48a268"/>
<circle cx="816.9" cy="647.4" r="2.9" fill="#4486c4"/>
<circle cx="766" cy="598.6" r="2.9" fill="#ee6228"/>
<circle cx="800.9" cy="607.3" r="2.9" fill="#b51a22"/>
<circle cx="640.7" cy="852.5" r="2.9" fill="#48a268"/>
<circle cx="695.8" cy="673.4" r="2.9" fill="#e6dc58"/>
<circle cx="794.9" cy="596.8" r="2.9" fill="#d8302a"/>
<circle cx="686.7" cy="670.6" r="2.9" fill="#b8e2f6"/>
<circle cx="615.2" cy="609.9" r="2.9" fill="#48a268"/>
<circle cx="846.6" cy="628.1" r="2.9" fill="#e6dc58"/>
<circle cx="716.6" cy="669.4" r="2.9" fill="#ee6228"/>
<circle cx="660.8" cy="779.9" r="2.9" fill="#78b4e0"/>
<circle cx="619.6" cy="573.9" r="2.9" fill="#7ec44e"/>
<circle cx="653.7" cy="537" r="2.9" fill="#7ec44e"/>
<circle cx="831.9" cy="667.3" r="2.9" fill="#7ec44e"/>
<circle cx="789.9" cy="611.4" r="2.9" fill="#b51a22"/>
<circle cx="797.4" cy="618.5" r="2.9" fill="#ee6228"/>
<circle cx="904.1" cy="609.7" r="2.9" fill="#4486c4"/>
<circle cx="859.6" cy="669" r="2.9" fill="#78b4e0"/>
<circle cx="713.6" cy="674" r="2.9" fill="#d8302a"/>
<circle cx="785.5" cy="615.4" r="2.9" fill="#d8302a"/>
<circle cx="809.1" cy="602.3" r="2.9" fill="#e6dc58"/>
<circle cx="820.3" cy="659.8" r="2.9" fill="#78b4e0"/>
<circle cx="642.7" cy="553.3" r="2.9" fill="#48a268"/>
<circle cx="849" cy="639" r="2.9" fill="#f6a644"/>
<circle cx="667.7" cy="798" r="2.9" fill="#78b4e0"/>
<circle cx="830.3" cy="634.1" r="2.9" fill="#48a268"/>
<circle cx="704.7" cy="669.9" r="2.9" fill="#e6dc58"/>
<circle cx="924.4" cy="600.9" r="2.9" fill="#7ec44e"/>
<circle cx="640.8" cy="785.5" r="2.9" fill="#78b4e0"/>
<circle cx="874.9" cy="686.8" r="2.9" fill="#4486c4"/>
<circle cx="622.4" cy="556.2" r="2.9" fill="#7ec44e"/>
<circle cx="857.3" cy="667.4" r="2.9" fill="#4486c4"/>
<circle cx="906" cy="626.6" r="2.9" fill="#4486c4"/>
<circle cx="837.3" cy="622.6" r="2.9" fill="#7ec44e"/>
<circle cx="661.6" cy="845.6" r="2.9" fill="#78b4e0"/>
<circle cx="709.9" cy="683.3" r="2.9" fill="#d8302a"/>
<circle cx="852.2" cy="639.8" r="2.9" fill="#ee6228"/>
<circle cx="757.3" cy="650.1" r="2.9" fill="#f6a644"/>
<circle cx="898" cy="546.7" r="2.9" fill="#48a268"/>
<circle cx="923.7" cy="587.6" r="2.9" fill="#48a268"/>
<circle cx="704" cy="687.5" r="2.9" fill="#e6dc58"/>
<circle cx="685.8" cy="606.9" r="2.9" fill="#b8e2f6"/>
<circle cx="835.6" cy="602" r="2.9" fill="#7ec44e"/>
<circle cx="703.7" cy="670" r="2.9" fill="#ee6228"/>
<circle cx="849" cy="634.7" r="2.9" fill="#7ec44e"/>
<circle cx="759.1" cy="647.6" r="2.9" fill="#7ec44e"/>
<circle cx="614.5" cy="582" r="2.9" fill="#7ec44e"/>
<circle cx="670.1" cy="738.7" r="2.9" fill="#b8e2f6"/>
<circle cx="809.6" cy="579" r="2.9" fill="#f6a644"/>
<circle cx="801.5" cy="629.1" r="2.9" fill="#48a268"/>
<circle cx="658.9" cy="776.6" r="2.9" fill="#78b4e0"/>
<circle cx="779.6" cy="660.2" r="2.9" fill="#7ec44e"/>
<circle cx="621.9" cy="593.5" r="2.9" fill="#e6dc58"/>
<circle cx="789.9" cy="596.7" r="2.9" fill="#7ec44e"/>
<circle cx="645.4" cy="823.4" r="2.9" fill="#48a268"/>
<circle cx="644.6" cy="829.2" r="2.9" fill="#4486c4"/>
<circle cx="897.3" cy="610.5" r="2.9" fill="#78b4e0"/>
<circle cx="687.8" cy="651.2" r="2.9" fill="#78b4e0"/>
<circle cx="735.4" cy="662.3" r="2.9" fill="#e6dc58"/>
<circle cx="755.3" cy="659.3" r="2.9" fill="#f6a644"/>
<circle cx="675.8" cy="666.9" r="2.9" fill="#78b4e0"/>
<circle cx="747.1" cy="682.3" r="2.9" fill="#d8302a"/>
<circle cx="742.1" cy="678" r="2.9" fill="#ee6228"/>
<circle cx="928.8" cy="572" r="2.9" fill="#48a268"/>
<circle cx="660.1" cy="761.8" r="2.9" fill="#78b4e0"/>
<circle cx="777.2" cy="615.8" r="2.9" fill="#ee6228"/>
<circle cx="788.9" cy="609.3" r="2.9" fill="#d8302a"/>
<circle cx="898.4" cy="576.9" r="2.9" fill="#4486c4"/>
<circle cx="767.5" cy="611.1" r="2.9" fill="#f6a644"/>
<circle cx="838.9" cy="642" r="2.9" fill="#48a268"/>
<circle cx="631.3" cy="853.9" r="2.9" fill="#48a268"/>
<circle cx="628.7" cy="542.6" r="2.9" fill="#48a268"/>
<circle cx="816.8" cy="640.2" r="2.9" fill="#7ec44e"/>
<circle cx="930.8" cy="573.1" r="2.9" fill="#48a268"/>
<circle cx="884.2" cy="658" r="2.9" fill="#ee6228"/>
<circle cx="821.3" cy="672.8" r="2.9" fill="#7ec44e"/>
<circle cx="857.2" cy="685.3" r="2.9" fill="#4486c4"/>
<circle cx="797.4" cy="589.5" r="2.9" fill="#e6dc58"/>
<circle cx="814.9" cy="593" r="2.9" fill="#e6dc58"/>
<circle cx="812.8" cy="597" r="2.9" fill="#7ec44e"/>
<circle cx="821.5" cy="662.9" r="2.9" fill="#48a268"/>
<circle cx="770.9" cy="606.3" r="2.9" fill="#b51a22"/>
<circle cx="747.8" cy="670.7" r="2.9" fill="#ee6228"/>
<circle cx="730" cy="664.4" r="2.9" fill="#f6a644"/>
<circle cx="758.4" cy="612.8" r="2.9" fill="#f6a644"/>
<circle cx="867.4" cy="687.4" r="2.9" fill="#48a268"/>
<circle cx="780.9" cy="657.8" r="2.9" fill="#48a268"/>
<circle cx="758.9" cy="622.5" r="2.9" fill="#ee6228"/>
<circle cx="639.1" cy="839.7" r="2.9" fill="#7ec44e"/>
<circle cx="685.2" cy="715.7" r="2.9" fill="#78b4e0"/>
<circle cx="664.3" cy="781.6" r="2.9" fill="#78b4e0"/>
<circle cx="630.5" cy="538.6" r="2.9" fill="#7ec44e"/>
<circle cx="910.2" cy="591.9" r="2.9" fill="#4486c4"/>
<circle cx="907.2" cy="578.6" r="2.9" fill="#4486c4"/>
<circle cx="703.9" cy="678.4" r="2.9" fill="#f6a644"/>
<circle cx="688.3" cy="671.6" r="2.9" fill="#78b4e0"/>
<circle cx="695.7" cy="689.6" r="2.9" fill="#d8302a"/>
<circle cx="925.7" cy="576.9" r="2.9" fill="#e6dc58"/>
<circle cx="732.6" cy="660.5" r="2.9" fill="#e6dc58"/>
<circle cx="727.5" cy="680.9" r="2.9" fill="#e6dc58"/>
<circle cx="801.3" cy="586.6" r="2.9" fill="#e6dc58"/>
<circle cx="680.6" cy="684.9" r="2.9" fill="#78b4e0"/>
<circle cx="791.2" cy="615" r="2.9" fill="#b51a22"/>
<circle cx="680.6" cy="684.7" r="2.9" fill="#b8e2f6"/>
<circle cx="849.7" cy="662.6" r="2.9" fill="#4486c4"/>
<circle cx="783" cy="660.8" r="2.9" fill="#48a268"/>
<circle cx="679.8" cy="755.5" r="2.9" fill="#b8e2f6"/>
<circle cx="621.4" cy="574.2" r="2.9" fill="#7ec44e"/>
<circle cx="799.8" cy="576.8" r="2.9" fill="#e6dc58"/>
<circle cx="660.6" cy="798.1" r="2.9" fill="#78b4e0"/>
<circle cx="765.2" cy="598.5" r="2.9" fill="#ee6228"/>
<circle cx="623.4" cy="597.3" r="2.9" fill="#7ec44e"/>
<circle cx="841.5" cy="648.5" r="2.9" fill="#7ec44e"/>
<circle cx="640.8" cy="755.3" r="2.9" fill="#4486c4"/>
<circle cx="904.2" cy="859.2" r="2.9" fill="#b8e2f6"/>
<circle cx="794.3" cy="599.7" r="2.9" fill="#d8302a"/>
<circle cx="652.7" cy="571.9" r="2.9" fill="#4486c4"/>
<circle cx="757.7" cy="608.2" r="2.9" fill="#ee6228"/>
<circle cx="700.9" cy="687.3" r="2.9" fill="#f6a644"/>
<circle cx="630.8" cy="543.1" r="2.9" fill="#e6dc58"/>
<circle cx="807.6" cy="597.4" r="2.9" fill="#f6a644"/>
<circle cx="777.6" cy="613.4" r="2.9" fill="#e6dc58"/>
<circle cx="617.4" cy="601.6" r="2.9" fill="#7ec44e"/>
<circle cx="655.3" cy="534.6" r="2.9" fill="#4486c4"/>
<circle cx="675.4" cy="720.8" r="2.9" fill="#78b4e0"/>
<circle cx="835.7" cy="584" r="2.9" fill="#e6dc58"/>
<circle cx="842.6" cy="622.7" r="2.9" fill="#7ec44e"/>
<circle cx="720.6" cy="660.5" r="2.9" fill="#ee6228"/>
<circle cx="661.6" cy="778.5" r="2.9" fill="#b8e2f6"/>
<circle cx="702.6" cy="671.4" r="2.9" fill="#ee6228"/>
<circle cx="692.9" cy="645.7" r="2.9" fill="#4486c4"/>
<circle cx="938.4" cy="583.6" r="2.9" fill="#48a268"/>
<circle cx="641.2" cy="540.3" r="2.9" fill="#7ec44e"/>
<circle cx="618" cy="577.8" r="2.9" fill="#e6dc58"/>
<circle cx="850" cy="639.6" r="2.9" fill="#f6a644"/>
<circle cx="793.3" cy="596.9" r="2.9" fill="#b51a22"/>
<circle cx="818.4" cy="630" r="2.9" fill="#48a268"/>
<circle cx="710.2" cy="667.1" r="2.9" fill="#f6a644"/>
<circle cx="659.7" cy="773.6" r="2.9" fill="#78b4e0"/>
<circle cx="650.6" cy="535.6" r="2.9" fill="#48a268"/>
<circle cx="711.4" cy="673" r="2.9" fill="#f6a644"/>
<circle cx="750.1" cy="671" r="2.9" fill="#f6a644"/>
<circle cx="859.8" cy="676.3" r="2.9" fill="#48a268"/>
<circle cx="890.2" cy="639.6" r="2.9" fill="#b51a22"/>
<circle cx="902.2" cy="566.3" r="2.9" fill="#4486c4"/>
<circle cx="698.9" cy="679.7" r="2.9" fill="#d8302a"/>
<circle cx="767.7" cy="602.7" r="2.9" fill="#d8302a"/>
<circle cx="804.8" cy="581.1" r="2.9" fill="#e6dc58"/>
<circle cx="821.3" cy="723.3" r="2.9" fill="#4486c4"/>
<circle cx="726.5" cy="676.2" r="2.9" fill="#ee6228"/>
<circle cx="786.2" cy="611.8" r="2.9" fill="#8e1419"/>
<circle cx="680" cy="796.4" r="2.9" fill="#78b4e0"/>
<circle cx="909.2" cy="584.1" r="2.9" fill="#7ec44e"/>
<circle cx="940.5" cy="588.5" r="2.9" fill="#7ec44e"/>
<circle cx="846.7" cy="643" r="2.9" fill="#48a268"/>
<circle cx="941.7" cy="580.1" r="2.9" fill="#7ec44e"/>
<circle cx="624.2" cy="584.4" r="2.9" fill="#7ec44e"/>
<circle cx="796.1" cy="586.9" r="2.9" fill="#f6a644"/>
<circle cx="678.9" cy="788.7" r="2.9" fill="#b8e2f6"/>
<circle cx="844.7" cy="645.9" r="2.9" fill="#e6dc58"/>
<circle cx="697.7" cy="671.9" r="2.9" fill="#f6a644"/>
<circle cx="908.6" cy="577.2" r="2.9" fill="#48a268"/>
<circle cx="652.1" cy="533.5" r="2.9" fill="#48a268"/>
<circle cx="716.2" cy="665.7" r="2.9" fill="#ee6228"/>
<circle cx="667.9" cy="701.2" r="2.9" fill="#b8e2f6"/>
<circle cx="800" cy="603" r="2.9" fill="#7ec44e"/>
<circle cx="618.2" cy="589.1" r="2.9" fill="#48a268"/>
<circle cx="725.4" cy="668.3" r="2.9" fill="#7ec44e"/>
<circle cx="736.3" cy="670" r="2.9" fill="#e6dc58"/>
<circle cx="773.3" cy="595.4" r="2.9" fill="#d8302a"/>
<circle cx="819.9" cy="638.9" r="2.9" fill="#4486c4"/>
<circle cx="923.9" cy="603.1" r="2.9" fill="#e6dc58"/>
<circle cx="824.1" cy="690.3" r="2.9" fill="#48a268"/>
<circle cx="699" cy="674.2" r="2.9" fill="#ee6228"/>
<circle cx="759.1" cy="621.5" r="2.9" fill="#e6dc58"/>
<circle cx="743.8" cy="679" r="2.9" fill="#d8302a"/>
<circle cx="777.3" cy="624.2" r="2.9" fill="#8e1419"/>
<circle cx="681" cy="812.5" r="2.9" fill="#78b4e0"/>
<circle cx="884.3" cy="652.2" r="2.9" fill="#b51a22"/>
<circle cx="917.9" cy="589.7" r="2.9" fill="#7ec44e"/>
<circle cx="696.9" cy="690.4" r="2.9" fill="#f6a644"/>
<circle cx="691" cy="682.6" r="2.9" fill="#f6a644"/>
<circle cx="897" cy="541.1" r="2.9" fill="#7ec44e"/>
<circle cx="622.9" cy="566.2" r="2.9" fill="#7ec44e"/>
<circle cx="910.7" cy="590.7" r="2.9" fill="#78b4e0"/>
<circle cx="642.4" cy="824.6" r="2.9" fill="#4486c4"/>
<circle cx="851.7" cy="644.6" r="2.9" fill="#7ec44e"/>
<circle cx="755.1" cy="664.3" r="2.9" fill="#ee6228"/>
<circle cx="876.5" cy="662" r="2.9" fill="#f6a644"/>
<circle cx="861.5" cy="675.8" r="2.9" fill="#4486c4"/>
<circle cx="692.8" cy="684.6" r="2.9" fill="#f6a644"/>
<circle cx="640" cy="550" r="2.9" fill="#4486c4"/>
<circle cx="757.4" cy="598" r="2.9" fill="#e6dc58"/>
<circle cx="906.3" cy="609.5" r="2.9" fill="#4486c4"/>
<circle cx="942" cy="578.8" r="2.9" fill="#e6dc58"/>
<circle cx="848.5" cy="644.9" r="2.9" fill="#7ec44e"/>
<circle cx="821.3" cy="708" r="2.9" fill="#4486c4"/>
<circle cx="658.3" cy="849.2" r="2.9" fill="#7ec44e"/>
<circle cx="940.6" cy="602.4" r="2.9" fill="#48a268"/>
<circle cx="800.3" cy="607.9" r="2.9" fill="#b51a22"/>
<circle cx="901.7" cy="581.6" r="2.9" fill="#48a268"/>
<circle cx="684.1" cy="708.4" r="2.9" fill="#78b4e0"/>
<circle cx="647.4" cy="846.5" r="2.9" fill="#4486c4"/>
<circle cx="634.7" cy="542.9" r="2.9" fill="#48a268"/>
<circle cx="647.7" cy="828.2" r="2.9" fill="#78b4e0"/>
<circle cx="742.1" cy="675.2" r="2.9" fill="#f6a644"/>
<circle cx="917.7" cy="609.8" r="2.9" fill="#48a268"/>
<circle cx="681.2" cy="564.9" r="2.9" fill="#78b4e0"/>
<circle cx="711.6" cy="662.4" r="2.9" fill="#d8302a"/>
<circle cx="818.4" cy="661.5" r="2.9" fill="#48a268"/>
<circle cx="778.2" cy="643.8" r="2.9" fill="#48a268"/>
<circle cx="930.3" cy="594.7" r="2.9" fill="#f6a644"/>
<circle cx="727.8" cy="664.7" r="2.9" fill="#f6a644"/>
<circle cx="859.2" cy="661.6" r="2.9" fill="#48a268"/>
<circle cx="899" cy="547.7" r="2.9" fill="#48a268"/>
<circle cx="643.9" cy="835.1" r="2.9" fill="#4486c4"/>
<circle cx="824.3" cy="666.4" r="2.9" fill="#48a268"/>
<circle cx="803.3" cy="597.7" r="2.9" fill="#4486c4"/>
<circle cx="856.7" cy="671.9" r="2.9" fill="#78b4e0"/>
<circle cx="808.9" cy="578.8" r="2.9" fill="#f6a644"/>
<circle cx="710.9" cy="683.2" r="2.9" fill="#d8302a"/>
<circle cx="729.9" cy="667.4" r="2.9" fill="#7ec44e"/>
<circle cx="660.7" cy="779.7" r="2.9" fill="#78b4e0"/>
<circle cx="665.5" cy="713" r="2.9" fill="#78b4e0"/>
<circle cx="875.8" cy="673.2" r="2.9" fill="#4486c4"/>
<circle cx="623.3" cy="585" r="2.9" fill="#48a268"/>
<circle cx="820.3" cy="653.7" r="2.9" fill="#4486c4"/>
<circle cx="648.6" cy="830.6" r="2.9" fill="#48a268"/>
<circle cx="901.1" cy="545.1" r="2.9" fill="#48a268"/>
<circle cx="888" cy="630" r="2.9" fill="#f6a644"/>
<circle cx="891.5" cy="635.1" r="2.9" fill="#d8302a"/>
<circle cx="617.7" cy="575.6" r="2.9" fill="#7ec44e"/>
<circle cx="920.5" cy="579" r="2.9" fill="#48a268"/>
<circle cx="940.5" cy="575.8" r="2.9" fill="#48a268"/>
<circle cx="691.5" cy="620.9" r="2.9" fill="#b8e2f6"/>
<circle cx="739.8" cy="678.8" r="2.9" fill="#d8302a"/>
<circle cx="711" cy="677.8" r="2.9" fill="#b51a22"/>
<circle cx="650.4" cy="582.7" r="2.9" fill="#4486c4"/>
<circle cx="851.1" cy="644.2" r="2.9" fill="#e6dc58"/>
<circle cx="660.9" cy="815.4" r="2.9" fill="#78b4e0"/>
<circle cx="738.5" cy="670.7" r="2.9" fill="#f6a644"/>
<circle cx="685.9" cy="857.7" r="2.9" fill="#b8e2f6"/>
<circle cx="678.3" cy="591.4" r="2.9" fill="#b8e2f6"/>
<circle cx="776.4" cy="607.3" r="2.9" fill="#8e1419"/>
<circle cx="714.4" cy="660.8" r="2.9" fill="#d8302a"/>
<circle cx="913.5" cy="600.5" r="2.9" fill="#f6a644"/>
<circle cx="931.5" cy="594" r="2.9" fill="#e6dc58"/>
<circle cx="815.7" cy="601.2" r="2.9" fill="#f6a644"/>
<circle cx="802.9" cy="615.4" r="2.9" fill="#b51a22"/>
<circle cx="695.2" cy="675.1" r="2.9" fill="#ee6228"/>
<circle cx="830" cy="674.2" r="2.9" fill="#48a268"/>
<circle cx="753.2" cy="674.5" r="2.9" fill="#b51a22"/>
<circle cx="930.5" cy="576.7" r="2.9" fill="#7ec44e"/>
<circle cx="917.8" cy="591" r="2.9" fill="#7ec44e"/>
<circle cx="883.7" cy="662.1" r="2.9" fill="#ee6228"/>
<circle cx="888.5" cy="645.9" r="2.9" fill="#ee6228"/>
<circle cx="666.6" cy="805.4" r="2.9" fill="#78b4e0"/>
<circle cx="690.3" cy="653.9" r="2.9" fill="#4486c4"/>
<circle cx="923.4" cy="595.9" r="2.9" fill="#e6dc58"/>
<circle cx="759.9" cy="590.9" r="2.9" fill="#ee6228"/>
<circle cx="893.9" cy="627.4" r="2.9" fill="#ee6228"/>
<circle cx="734.6" cy="659.4" r="2.9" fill="#e6dc58"/>
<circle cx="760" cy="590.2" r="2.9" fill="#e6dc58"/>
<circle cx="888.3" cy="635.4" r="2.9" fill="#e6dc58"/>
<circle cx="871" cy="689.7" r="2.9" fill="#78b4e0"/>
<circle cx="665.5" cy="791" r="2.9" fill="#78b4e0"/>
<circle cx="940.2" cy="591.3" r="2.9" fill="#e6dc58"/>
<circle cx="690.1" cy="609.5" r="2.9" fill="#b8e2f6"/>
<circle cx="709.5" cy="665.4" r="2.9" fill="#ee6228"/>
<circle cx="867" cy="690" r="2.9" fill="#78b4e0"/>
<circle cx="878.2" cy="663.2" r="2.9" fill="#f6a644"/>
<circle cx="919.6" cy="596.3" r="2.9" fill="#e6dc58"/>
<circle cx="801" cy="590.8" r="2.9" fill="#e6dc58"/>
<circle cx="646.4" cy="843.7" r="2.9" fill="#78b4e0"/>
<circle cx="619.6" cy="584.4" r="2.9" fill="#48a268"/>
<circle cx="711.7" cy="666.8" r="2.9" fill="#f6a644"/>
<circle cx="812.1" cy="588.7" r="2.9" fill="#48a268"/>
<circle cx="618.5" cy="578.2" r="2.9" fill="#48a268"/>
<circle cx="641.1" cy="860" r="2.9" fill="#48a268"/>
<circle cx="621.3" cy="564.9" r="2.9" fill="#e6dc58"/>
<circle cx="656.7" cy="770.1" r="2.9" fill="#78b4e0"/>
<circle cx="908.6" cy="587.8" r="2.9" fill="#48a268"/>
<circle cx="837.6" cy="617" r="2.9" fill="#7ec44e"/>
<circle cx="677.6" cy="665.6" r="2.9" fill="#78b4e0"/>
<circle cx="619.7" cy="562" r="2.9" fill="#7ec44e"/>
<circle cx="856.8" cy="673" r="2.9" fill="#48a268"/>
<circle cx="907.3" cy="591.6" r="2.9" fill="#7ec44e"/>
<circle cx="698.6" cy="680.8" r="2.9" fill="#ee6228"/>
<circle cx="651.5" cy="852.3" r="2.9" fill="#78b4e0"/>
<circle cx="927.4" cy="603.1" r="2.9" fill="#7ec44e"/>
<circle cx="674.8" cy="659.5" r="2.9" fill="#b8e2f6"/>
<circle cx="904.4" cy="559.9" r="2.9" fill="#48a268"/>
<circle cx="790.7" cy="605.2" r="2.9" fill="#4486c4"/>
<circle cx="677.3" cy="800.4" r="2.9" fill="#78b4e0"/>
<circle cx="734.5" cy="662.3" r="2.9" fill="#7ec44e"/>
<circle cx="897.8" cy="728" r="2.9" fill="#78b4e0"/>
<circle cx="642.2" cy="736.5" r="2.9" fill="#b8e2f6"/>
<circle cx="673.6" cy="743.7" r="2.9" fill="#b8e2f6"/>
<circle cx="941.4" cy="603.8" r="2.9" fill="#48a268"/>
<circle cx="733.2" cy="663.2" r="2.9" fill="#e6dc58"/>
<circle cx="662" cy="767.8" r="2.9" fill="#78b4e0"/>
<circle cx="884.2" cy="649.4" r="2.9" fill="#e6dc58"/>
<circle cx="691" cy="651.6" r="2.9" fill="#78b4e0"/>
<circle cx="631.5" cy="545.5" r="2.9" fill="#4486c4"/>
<circle cx="917.1" cy="602.8" r="2.9" fill="#7ec44e"/>
<circle cx="811.4" cy="591.8" r="2.9" fill="#48a268"/>
<circle cx="924" cy="595.1" r="2.9" fill="#48a268"/>
<circle cx="702.3" cy="675.1" r="2.9" fill="#b51a22"/>
<circle cx="788.5" cy="602.7" r="2.9" fill="#d8302a"/>
<circle cx="835.4" cy="626.3" r="2.9" fill="#f6a644"/>
<circle cx="687.2" cy="692.4" r="2.9" fill="#78b4e0"/>
<circle cx="921.1" cy="600" r="2.9" fill="#e6dc58"/>
<circle cx="623.2" cy="584.5" r="2.9" fill="#e6dc58"/>
<circle cx="688.4" cy="636.6" r="2.9" fill="#b8e2f6"/>
<circle cx="768.4" cy="590" r="2.9" fill="#d8302a"/>
<circle cx="835.9" cy="614" r="2.9" fill="#7ec44e"/>
<circle cx="835.1" cy="616.8" r="2.9" fill="#7ec44e"/>
<circle cx="813.6" cy="600.6" r="2.9" fill="#f6a644"/>
<circle cx="641.7" cy="719.9" r="2.9" fill="#b8e2f6"/>
<circle cx="716.2" cy="671.6" r="2.9" fill="#b51a22"/>
<circle cx="823.2" cy="693.1" r="2.9" fill="#7ec44e"/>
<circle cx="615.3" cy="588.1" r="2.9" fill="#48a268"/>
<circle cx="812.9" cy="619.4" r="2.9" fill="#48a268"/>
<circle cx="890" cy="637.1" r="2.9" fill="#d8302a"/>
<circle cx="853.5" cy="640.1" r="2.9" fill="#48a268"/>
<circle cx="675.1" cy="731.5" r="2.9" fill="#b8e2f6"/>
<circle cx="685.3" cy="702.3" r="2.9" fill="#78b4e0"/>
<circle cx="865" cy="695" r="2.9" fill="#4486c4"/>
<circle cx="642.2" cy="801" r="2.9" fill="#b8e2f6"/>
<circle cx="781.8" cy="657.3" r="2.9" fill="#48a268"/>
<circle cx="829.7" cy="677.7" r="2.9" fill="#48a268"/>
<circle cx="818.1" cy="633.1" r="2.9" fill="#78b4e0"/>
<circle cx="715.8" cy="659.4" r="2.9" fill="#f6a644"/>
<circle cx="647.7" cy="827.7" r="2.9" fill="#78b4e0"/>
<circle cx="714.6" cy="665.4" r="2.9" fill="#b51a22"/>
<circle cx="915" cy="596.7" r="2.9" fill="#7ec44e"/>
<circle cx="938.3" cy="595.7" r="2.9" fill="#48a268"/>
<circle cx="939.7" cy="598" r="2.9" fill="#48a268"/>
<circle cx="843.6" cy="618.1" r="2.9" fill="#e6dc58"/>
<circle cx="716.1" cy="678.8" r="2.9" fill="#b51a22"/>
<circle cx="643.9" cy="772" r="2.9" fill="#78b4e0"/>
<circle cx="762.6" cy="584.8" r="2.9" fill="#d8302a"/>
<circle cx="903.6" cy="566.5" r="2.9" fill="#48a268"/>
<circle cx="821.5" cy="686.8" r="2.9" fill="#4486c4"/>
<circle cx="875.8" cy="671.6" r="2.9" fill="#f6a644"/>
<circle cx="797.6" cy="601.4" r="2.9" fill="#b51a22"/>
<circle cx="796.2" cy="613.4" r="2.9" fill="#f6a644"/>
<circle cx="639.3" cy="859.1" r="2.9" fill="#4486c4"/>
<circle cx="920" cy="584.6" r="2.9" fill="#7ec44e"/>
<circle cx="930.9" cy="618.7" r="2.9" fill="#ee6228"/>
<circle cx="887.7" cy="636" r="2.9" fill="#ee6228"/>
<circle cx="725.4" cy="668.1" r="2.9" fill="#ee6228"/>
<circle cx="875.9" cy="669.5" r="2.9" fill="#e6dc58"/>
<circle cx="740.5" cy="684.3" r="2.9" fill="#b51a22"/>
<circle cx="858.2" cy="676.8" r="2.9" fill="#48a268"/>
<circle cx="877.5" cy="685.9" r="2.9" fill="#4486c4"/>
<circle cx="772.7" cy="613.6" r="2.9" fill="#e6dc58"/>
<circle cx="939.8" cy="593.9" r="2.9" fill="#48a268"/>
<circle cx="662.3" cy="762.2" r="2.9" fill="#b8e2f6"/>
<circle cx="638.9" cy="535.6" r="2.9" fill="#78b4e0"/>
<circle cx="755.9" cy="669.1" r="2.9" fill="#f6a644"/>
<circle cx="910.9" cy="594.9" r="2.9" fill="#48a268"/>
<circle cx="657.1" cy="785.5" r="2.9" fill="#78b4e0"/>
<circle cx="724.6" cy="679.1" r="2.9" fill="#ee6228"/>
<circle cx="751.3" cy="669.2" r="2.9" fill="#d8302a"/>
<circle cx="653.5" cy="533.9" r="2.9" fill="#7ec44e"/>
<circle cx="701.1" cy="678.4" r="2.9" fill="#ee6228"/>
<circle cx="744.6" cy="675.9" r="2.9" fill="#d8302a"/>
<circle cx="645.7" cy="822.6" r="2.9" fill="#4486c4"/>
<circle cx="753.8" cy="672.2" r="2.9" fill="#f6a644"/>
<circle cx="856.8" cy="644.1" r="2.9" fill="#7ec44e"/>
<circle cx="706.8" cy="670.4" r="2.9" fill="#d8302a"/>
<circle cx="761" cy="601.5" r="2.9" fill="#f6a644"/>
<circle cx="856.8" cy="635.4" r="2.9" fill="#7ec44e"/>
<circle cx="934.4" cy="584" r="2.9" fill="#48a268"/>
<circle cx="942" cy="597.6" r="2.9" fill="#e6dc58"/>
<circle cx="773.6" cy="618.2" r="2.9" fill="#b51a22"/>
<circle cx="901.1" cy="560.6" r="2.9" fill="#78b4e0"/>
<circle cx="917.9" cy="588.5" r="2.9" fill="#48a268"/>
<circle cx="795.2" cy="620.8" r="2.9" fill="#b51a22"/>
<circle cx="903.8" cy="564.6" r="2.9" fill="#48a268"/>
<circle cx="651.6" cy="536.7" r="2.9" fill="#48a268"/>
<circle cx="730.9" cy="661.3" r="2.9" fill="#7ec44e"/>
<circle cx="616" cy="570" r="2.9" fill="#e6dc58"/>
<circle cx="866.1" cy="686.9" r="2.9" fill="#4486c4"/>
<circle cx="749.3" cy="683.1" r="2.9" fill="#ee6228"/>
<circle cx="691.9" cy="675.6" r="2.9" fill="#f6a644"/>
<circle cx="668.2" cy="738.5" r="2.9" fill="#b8e2f6"/>
<circle cx="809.8" cy="598.1" r="2.9" fill="#4486c4"/>
<circle cx="819.6" cy="654" r="2.9" fill="#48a268"/>
<circle cx="837" cy="605.1" r="2.9" fill="#7ec44e"/>
<circle cx="625.6" cy="586.4" r="2.9" fill="#7ec44e"/>
<circle cx="684.7" cy="556.3" r="2.9" fill="#b8e2f6"/>
<circle cx="721.7" cy="658.1" r="2.9" fill="#ee6228"/>
<circle cx="931.1" cy="593.7" r="2.9" fill="#48a268"/>
<circle cx="659.5" cy="773.2" r="2.9" fill="#78b4e0"/>
<circle cx="723.6" cy="673.2" r="2.9" fill="#ee6228"/>
<circle cx="912.9" cy="598.3" r="2.9" fill="#48a268"/>
<circle cx="790.6" cy="615.7" r="2.9" fill="#d8302a"/>
<circle cx="723.9" cy="666.1" r="2.9" fill="#f6a644"/>
<circle cx="795.6" cy="585" r="2.9" fill="#48a268"/>
<circle cx="882.3" cy="649.8" r="2.9" fill="#ee6228"/>
<circle cx="662.2" cy="782.3" r="2.9" fill="#78b4e0"/>
<circle cx="800.4" cy="618.4" r="2.9" fill="#ee6228"/>
<circle cx="857.5" cy="642.4" r="2.9" fill="#e6dc58"/>
<circle cx="938" cy="587.5" r="2.9" fill="#e6dc58"/>
<circle cx="766.4" cy="596.5" r="2.9" fill="#b51a22"/>
<circle cx="816.8" cy="616.4" r="2.9" fill="#e6dc58"/>
<circle cx="618.3" cy="593.2" r="2.9" fill="#7ec44e"/>
<circle cx="900.5" cy="558" r="2.9" fill="#4486c4"/>
<circle cx="938.3" cy="595.3" r="2.9" fill="#f6a644"/>
<circle cx="813.2" cy="590.1" r="2.9" fill="#e6dc58"/>
<circle cx="792.8" cy="591" r="2.9" fill="#e6dc58"/>
</g>
<line x1="614.4" y1="524" x2="614.4" y2="868.6" stroke="#000" stroke-width="1.5"/>
<line x1="942" y1="524" x2="942" y2="868.6" stroke="#666" stroke-width="1.5"/>
<line x1="614.5" y1="868.6" x2="614.5" y2="860.1" stroke="#222" stroke-width="1.3"/>
<line x1="614.5" y1="524" x2="614.5" y2="532.5" stroke="#222" stroke-width="1.3"/>
<line x1="661.3" y1="868.6" x2="661.3" y2="860.1" stroke="#222" stroke-width="1.3"/>
<line x1="661.3" y1="524" x2="661.3" y2="532.5" stroke="#222" stroke-width="1.3"/>
<line x1="708.1" y1="868.6" x2="708.1" y2="860.1" stroke="#222" stroke-width="1.3"/>
<line x1="708.1" y1="524" x2="708.1" y2="532.5" stroke="#222" stroke-width="1.3"/>
<line x1="754.9" y1="868.6" x2="754.9" y2="860.1" stroke="#222" stroke-width="1.3"/>
<line x1="754.9" y1="524" x2="754.9" y2="532.5" stroke="#222" stroke-width="1.3"/>
<line x1="801.6" y1="868.6" x2="801.6" y2="860.1" stroke="#222" stroke-width="1.3"/>
<line x1="801.6" y1="524" x2="801.6" y2="532.5" stroke="#222" stroke-width="1.3"/>
<line x1="848.4" y1="868.6" x2="848.4" y2="860.1" stroke="#222" stroke-width="1.3"/>
<line x1="848.4" y1="524" x2="848.4" y2="532.5" stroke="#222" stroke-width="1.3"/>
<line x1="895.2" y1="868.6" x2="895.2" y2="860.1" stroke="#222" stroke-width="1.3"/>
<line x1="895.2" y1="524" x2="895.2" y2="532.5" stroke="#222" stroke-width="1.3"/>
<line x1="942" y1="868.6" x2="942" y2="860.1" stroke="#222" stroke-width="1.3"/>
<line x1="942" y1="524" x2="942" y2="532.5" stroke="#222" stroke-width="1.3"/>
<text x="778.8" y="505.5" font-size="24.9" text-anchor="middle" letter-spacing="0.15">Wind Direction</text>
<text x="614.7" y="889.7" font-size="14.8" text-anchor="middle" letter-spacing="0.4">07/23</text>
<text x="661.5" y="889.7" font-size="14.8" text-anchor="middle" letter-spacing="0.4">08/23</text>
<text x="708.3" y="889.7" font-size="14.8" text-anchor="middle" letter-spacing="0.4">09/23</text>
<text x="755.1" y="889.7" font-size="14.8" text-anchor="middle" letter-spacing="0.4">10/23</text>
<text x="801.8" y="889.7" font-size="14.8" text-anchor="middle" letter-spacing="0.4">11/23</text>
<text x="848.6" y="889.7" font-size="14.8" text-anchor="middle" letter-spacing="0.4">12/23</text>
<text x="895.4" y="889.7" font-size="14.8" text-anchor="middle" letter-spacing="0.4">13/23</text>
<text x="942.2" y="889.7" font-size="14.8" text-anchor="middle" letter-spacing="0.4">14/23</text>
<text x="778.4" y="918.6" font-size="20.9" text-anchor="middle" letter-spacing="0.18">Time (Day/UTC)</text>
<text x="540.7" y="696.2" font-size="21.4" text-anchor="middle" transform="rotate(-90 540.7 696.2)">Direction (Colored By Speed)</text>
<rect x="953.2" y="594.1" width="29.5" height="20.8" fill="#8e1419"/>
<text x="1007.5" y="610.2" font-size="16.2" text-anchor="middle">20+</text>
<rect x="953.2" y="614.5" width="29.5" height="20.8" fill="#b51a22"/>
<text x="1007.5" y="630.6" font-size="16.2" text-anchor="middle">18</text>
<rect x="953.2" y="634.9" width="29.5" height="20.8" fill="#d8302a"/>
<text x="1007.5" y="651" font-size="16.2" text-anchor="middle">16</text>
<rect x="953.2" y="655.3" width="29.5" height="20.8" fill="#ee6228"/>
<text x="1007.5" y="671.4" font-size="16.2" text-anchor="middle">14</text>
<rect x="953.2" y="675.7" width="29.5" height="20.8" fill="#f6a644"/>
<text x="1007.5" y="691.8" font-size="16.2" text-anchor="middle">12</text>
<rect x="953.2" y="696.1" width="29.5" height="20.8" fill="#e6dc58"/>
<text x="1007.5" y="712.2" font-size="16.2" text-anchor="middle">10</text>
<rect x="953.2" y="716.5" width="29.5" height="20.8" fill="#7ec44e"/>
<text x="1007.5" y="732.6" font-size="16.2" text-anchor="middle">8</text>
<rect x="953.2" y="736.9" width="29.5" height="20.8" fill="#48a268"/>
<text x="1007.5" y="753" font-size="16.2" text-anchor="middle">6</text>
<rect x="953.2" y="757.3" width="29.5" height="20.8" fill="#4486c4"/>
<text x="1007.5" y="773.4" font-size="16.2" text-anchor="middle">4</text>
<rect x="953.2" y="777.7" width="29.5" height="20.8" fill="#78b4e0"/>
<text x="1007.5" y="793.8" font-size="16.2" text-anchor="middle">2</text>
<rect x="953.2" y="798.1" width="29.5" height="20.8" fill="#b8e2f6"/>
<text x="1007.5" y="814.2" font-size="16.2" text-anchor="middle">0</text>
<text x="992" y="587.8" font-size="16.2" text-anchor="start">mph</text>
<text x="29.8" y="936.1" font-size="16.8" text-anchor="start">Location: Tyrone</text>
<text x="29.8" y="958.4" font-size="16.8" text-anchor="start">Station elevation: 366.857 m</text>
<text x="29.8" y="977.5" font-size="16.8" text-anchor="start">Station lat/lon: 42.4061; -77.0539</text>
<text x="29.8" y="997" font-size="16.8" text-anchor="start">Figure created on Sun, 2025-12-14, at 23:30 UTC</text>
<text x="29.8" y="1017" font-size="16.8" text-anchor="start">Most recent data timestamp: 2025/12/14 23:15:00</text>
<text x="973.5" y="951.6" font-size="19.4" text-anchor="end" letter-spacing="0.12">Extremes For Past 7 Days</text>
<text x="973.5" y="976.4" font-size="19.7" text-anchor="end" letter-spacing="0.1">(High/Low/Max Wind/Total Precipitation)</text>
<text x="973.5" y="1004.5" font-size="19.6" text-anchor="end" font-weight="bold" fill="#c4202c">37.2/-1.7/19.3/0.09</text>
</svg>
</body></html>
